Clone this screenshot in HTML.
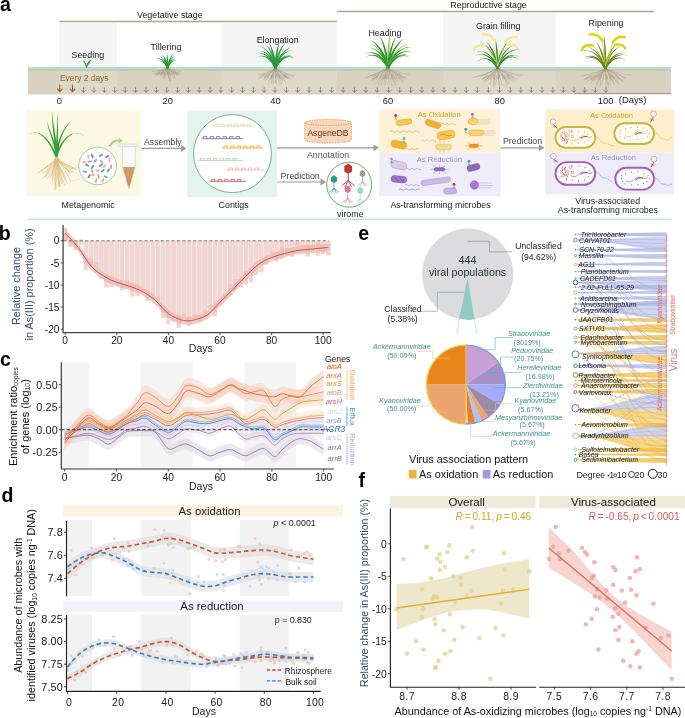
<!DOCTYPE html>
<html><head><meta charset="utf-8"><style>
html,body{margin:0;padding:0;background:#fff;}
svg{display:block;will-change:transform;font-family:"Liberation Sans", sans-serif;}
</style></head><body>
<svg width="685" height="718" viewBox="0 0 685 718">
<rect width="685" height="718" fill="#fff"/>
<text x="0.0" y="10.8" font-size="19.5" fill="#000" font-weight="bold">a</text>
<rect x="59.4" y="23" width="57.4" height="71.5" fill="#f5f5f5"/>
<rect x="221.5" y="23" width="115.5" height="71.5" fill="#f5f5f5"/>
<rect x="443.3" y="12.6" width="112.4" height="81.9" fill="#f5f5f5"/>
<line x1="59.4" y1="21.6" x2="337" y2="21.6" stroke="#96b288" stroke-width="1.5"/>
<line x1="337" y1="11.6" x2="654" y2="11.6" stroke="#96b288" stroke-width="1.5"/>
<text x="137.0" y="18.2" font-size="8.9" fill="#1a1a1a">Vegetative stage</text>
<text x="450.3" y="7.9" font-size="8.9" fill="#1a1a1a">Reproductive stage</text>
<rect x="28" y="68.5" width="643" height="25.9" fill="#d9d2c1"/>
<rect x="59.4" y="68.5" width="57.4" height="25.9" fill="#ffffff" fill-opacity="0.14"/>
<rect x="221.5" y="68.5" width="115.5" height="25.9" fill="#ffffff" fill-opacity="0.14"/>
<rect x="443.3" y="68.5" width="112.4" height="25.9" fill="#ffffff" fill-opacity="0.14"/>
<rect x="28" y="68.4" width="643" height="2.6" fill="#c3cbb6"/>
<rect x="28" y="66.9" width="643" height="1.7" fill="#ade2d8"/>
<line x1="300" y1="93.6" x2="575" y2="93.6" stroke="#bdbdbd" stroke-width="0.5"/>
<line x1="575" y1="93.5" x2="671.5" y2="93.5" stroke="#777" stroke-width="0.6"/>
<text x="71.5" y="58.0" font-size="8.9" fill="#1a1a1a">Seeding</text>
<text x="150.6" y="50.2" font-size="8.9" fill="#1a1a1a">Tillering</text>
<text x="256.7" y="42.8" font-size="8.9" fill="#1a1a1a">Elongation</text>
<text x="368.4" y="35.5" font-size="8.9" fill="#1a1a1a">Heading</text>
<text x="476.0" y="28.9" font-size="8.9" fill="#1a1a1a">Grain filling</text>
<text x="588.5" y="25.5" font-size="8.9" fill="#1a1a1a">Ripening</text>
<text x="60.0" y="80.5" font-size="8.4" fill="#8d6b1d">Every 2 days</text>
<path d="M59.8,84.5 V91.5 M57.2,88.8 L59.8,91.6 L62.4,88.8" stroke="#8d6b1d" stroke-width="1.1" fill="none"/>
<path d="M72.5,84.5 V91.5 M69.9,88.8 L72.5,91.6 L75.1,88.8" stroke="#8d6b1d" stroke-width="1.1" fill="none"/>
<path d="M83.6,87.3 V92.3 M81.5,90.1 L83.6,92.4 L85.7,90.1" stroke="#707070" stroke-width="0.75" fill="none"/>
<path d="M94.0,87.3 V92.3 M91.9,90.1 L94.0,92.4 L96.1,90.1" stroke="#707070" stroke-width="0.75" fill="none"/>
<path d="M104.4,87.3 V92.3 M102.3,90.1 L104.4,92.4 L106.5,90.1" stroke="#707070" stroke-width="0.75" fill="none"/>
<path d="M114.8,87.3 V92.3 M112.7,90.1 L114.8,92.4 L116.9,90.1" stroke="#707070" stroke-width="0.75" fill="none"/>
<path d="M125.2,87.3 V92.3 M123.1,90.1 L125.2,92.4 L127.3,90.1" stroke="#707070" stroke-width="0.75" fill="none"/>
<path d="M135.6,87.3 V92.3 M133.5,90.1 L135.6,92.4 L137.7,90.1" stroke="#707070" stroke-width="0.75" fill="none"/>
<path d="M146.0,87.3 V92.3 M143.9,90.1 L146.0,92.4 L148.1,90.1" stroke="#707070" stroke-width="0.75" fill="none"/>
<path d="M156.4,87.3 V92.3 M154.3,90.1 L156.4,92.4 L158.5,90.1" stroke="#707070" stroke-width="0.75" fill="none"/>
<path d="M166.8,87.3 V92.3 M164.7,90.1 L166.8,92.4 L168.9,90.1" stroke="#707070" stroke-width="0.75" fill="none"/>
<path d="M177.6,87.3 V92.3 M175.5,90.1 L177.6,92.4 L179.7,90.1" stroke="#707070" stroke-width="0.75" fill="none"/>
<path d="M188.4,87.3 V92.3 M186.3,90.1 L188.4,92.4 L190.5,90.1" stroke="#707070" stroke-width="0.75" fill="none"/>
<path d="M199.3,87.3 V92.3 M197.2,90.1 L199.3,92.4 L201.4,90.1" stroke="#707070" stroke-width="0.75" fill="none"/>
<path d="M210.1,87.3 V92.3 M208.0,90.1 L210.1,92.4 L212.2,90.1" stroke="#707070" stroke-width="0.75" fill="none"/>
<path d="M220.9,87.3 V92.3 M218.8,90.1 L220.9,92.4 L223.0,90.1" stroke="#707070" stroke-width="0.75" fill="none"/>
<path d="M231.7,87.3 V92.3 M229.6,90.1 L231.7,92.4 L233.8,90.1" stroke="#707070" stroke-width="0.75" fill="none"/>
<path d="M242.5,87.3 V92.3 M240.4,90.1 L242.5,92.4 L244.6,90.1" stroke="#707070" stroke-width="0.75" fill="none"/>
<path d="M253.4,87.3 V92.3 M251.3,90.1 L253.4,92.4 L255.5,90.1" stroke="#707070" stroke-width="0.75" fill="none"/>
<path d="M264.2,87.3 V92.3 M262.1,90.1 L264.2,92.4 L266.3,90.1" stroke="#707070" stroke-width="0.75" fill="none"/>
<path d="M275.0,87.3 V92.3 M272.9,90.1 L275.0,92.4 L277.1,90.1" stroke="#707070" stroke-width="0.75" fill="none"/>
<path d="M286.4,87.3 V92.3 M284.3,90.1 L286.4,92.4 L288.5,90.1" stroke="#707070" stroke-width="0.75" fill="none"/>
<path d="M297.7,87.3 V92.3 M295.6,90.1 L297.7,92.4 L299.8,90.1" stroke="#707070" stroke-width="0.75" fill="none"/>
<path d="M309.1,87.3 V92.3 M307.0,90.1 L309.1,92.4 L311.2,90.1" stroke="#707070" stroke-width="0.75" fill="none"/>
<path d="M320.4,87.3 V92.3 M318.3,90.1 L320.4,92.4 L322.5,90.1" stroke="#707070" stroke-width="0.75" fill="none"/>
<path d="M331.8,87.3 V92.3 M329.7,90.1 L331.8,92.4 L333.9,90.1" stroke="#707070" stroke-width="0.75" fill="none"/>
<path d="M343.2,87.3 V92.3 M341.1,90.1 L343.2,92.4 L345.3,90.1" stroke="#707070" stroke-width="0.75" fill="none"/>
<path d="M354.5,87.3 V92.3 M352.4,90.1 L354.5,92.4 L356.6,90.1" stroke="#707070" stroke-width="0.75" fill="none"/>
<path d="M365.9,87.3 V92.3 M363.8,90.1 L365.9,92.4 L368.0,90.1" stroke="#707070" stroke-width="0.75" fill="none"/>
<path d="M377.2,87.3 V92.3 M375.1,90.1 L377.2,92.4 L379.3,90.1" stroke="#707070" stroke-width="0.75" fill="none"/>
<path d="M388.6,87.3 V92.3 M386.5,90.1 L388.6,92.4 L390.7,90.1" stroke="#707070" stroke-width="0.75" fill="none"/>
<path d="M399.7,87.3 V92.3 M397.6,90.1 L399.7,92.4 L401.8,90.1" stroke="#707070" stroke-width="0.75" fill="none"/>
<path d="M410.8,87.3 V92.3 M408.7,90.1 L410.8,92.4 L412.9,90.1" stroke="#707070" stroke-width="0.75" fill="none"/>
<path d="M421.9,87.3 V92.3 M419.8,90.1 L421.9,92.4 L424.0,90.1" stroke="#707070" stroke-width="0.75" fill="none"/>
<path d="M433.0,87.3 V92.3 M430.9,90.1 L433.0,92.4 L435.1,90.1" stroke="#707070" stroke-width="0.75" fill="none"/>
<path d="M444.1,87.3 V92.3 M441.9,90.1 L444.1,92.4 L446.2,90.1" stroke="#707070" stroke-width="0.75" fill="none"/>
<path d="M455.1,87.3 V92.3 M453.0,90.1 L455.1,92.4 L457.2,90.1" stroke="#707070" stroke-width="0.75" fill="none"/>
<path d="M466.2,87.3 V92.3 M464.1,90.1 L466.2,92.4 L468.3,90.1" stroke="#707070" stroke-width="0.75" fill="none"/>
<path d="M477.3,87.3 V92.3 M475.2,90.1 L477.3,92.4 L479.4,90.1" stroke="#707070" stroke-width="0.75" fill="none"/>
<path d="M488.4,87.3 V92.3 M486.3,90.1 L488.4,92.4 L490.5,90.1" stroke="#707070" stroke-width="0.75" fill="none"/>
<path d="M499.5,87.3 V92.3 M497.4,90.1 L499.5,92.4 L501.6,90.1" stroke="#707070" stroke-width="0.75" fill="none"/>
<path d="M510.2,87.3 V92.3 M508.1,90.1 L510.2,92.4 L512.2,90.1" stroke="#707070" stroke-width="0.75" fill="none"/>
<path d="M520.8,87.3 V92.3 M518.7,90.1 L520.8,92.4 L522.9,90.1" stroke="#707070" stroke-width="0.75" fill="none"/>
<path d="M531.4,87.3 V92.3 M529.3,90.1 L531.4,92.4 L533.5,90.1" stroke="#707070" stroke-width="0.75" fill="none"/>
<path d="M542.1,87.3 V92.3 M540.0,90.1 L542.1,92.4 L544.2,90.1" stroke="#707070" stroke-width="0.75" fill="none"/>
<path d="M552.8,87.3 V92.3 M550.6,90.1 L552.8,92.4 L554.9,90.1" stroke="#707070" stroke-width="0.75" fill="none"/>
<path d="M563.4,87.3 V92.3 M561.3,90.1 L563.4,92.4 L565.5,90.1" stroke="#707070" stroke-width="0.75" fill="none"/>
<path d="M574.0,87.3 V92.3 M571.9,90.1 L574.0,92.4 L576.1,90.1" stroke="#707070" stroke-width="0.75" fill="none"/>
<path d="M584.7,87.3 V92.3 M582.6,90.1 L584.7,92.4 L586.8,90.1" stroke="#707070" stroke-width="0.75" fill="none"/>
<path d="M595.3,87.3 V92.3 M593.2,90.1 L595.3,92.4 L597.4,90.1" stroke="#707070" stroke-width="0.75" fill="none"/>
<path d="M606.0,87.3 V92.3 M603.9,90.1 L606.0,92.4 L608.1,90.1" stroke="#707070" stroke-width="0.75" fill="none"/>
<text x="59.4" y="103.6" font-size="9.4" fill="#1a1a1a" text-anchor="middle">0</text>
<text x="167.7" y="103.6" font-size="9.4" fill="#1a1a1a" text-anchor="middle">20</text>
<text x="275.5" y="103.6" font-size="9.4" fill="#1a1a1a" text-anchor="middle">40</text>
<text x="388.0" y="103.6" font-size="9.4" fill="#1a1a1a" text-anchor="middle">60</text>
<text x="499.8" y="103.6" font-size="9.4" fill="#1a1a1a" text-anchor="middle">80</text>
<text x="605.6" y="103.6" font-size="9.4" fill="#1a1a1a" text-anchor="middle">100</text>
<text x="618.8" y="103.4" font-size="9.4" fill="#1a1a1a">(Days)</text>
<path d="M86.6,67.5 Q86.8,63 90.8,60.2 M86.6,67.5 Q86,64 84,61.2 M86.8,66 Q88.5,63.5 89.5,62.8" stroke="#2f9a3c" stroke-width="1.1" fill="none" stroke-linecap="round"/>
<path d="M167.7,68.2 Q158.8,71.1 151.9,71.7 M160.6,71.5 l-4.1,3.0 M166.3,68.2 Q157.3,72.2 152.3,74.4 M159.3,72.0 l-4.9,3.0 M168.0,68.2 Q158.5,71.6 155.2,76.5 M160.3,71.7 l-1.1,3.0 M168.7,68.2 Q162.8,71.0 157.2,75.4 M163.8,71.4 l-3.4,3.0 M166.6,68.2 Q161.0,73.3 156.9,74.9 M162.3,72.6 l-1.9,3.0 M166.3,68.2 Q162.9,71.1 160.3,76.5 M163.8,71.4 l-3.1,3.0 M167.5,68.2 Q162.8,72.7 161.9,77.3 M163.8,72.2 l-2.3,3.0 M167.7,68.2 Q163.5,72.6 163.8,78.9 M164.3,72.2 l0.3,3.0 M167.4,68.2 Q167.3,71.3 164.9,77.7 M167.4,71.5 l0.2,3.0 M168.4,68.2 Q164.4,72.9 164.1,79.0 M165.1,72.4 l-0.2,3.0 M167.8,68.2 Q167.9,72.7 168.4,78.7 M167.9,72.2 l-0.3,3.0 M166.3,68.2 Q167.9,72.9 169.7,81.3 M167.9,72.3 l1.0,3.0 M167.3,68.2 Q170.2,71.8 170.3,81.0 M169.7,71.8 l1.2,3.0 M166.3,68.2 Q168.5,71.3 169.3,78.4 M168.3,71.5 l1.9,3.0 M166.3,68.2 Q170.3,73.5 171.1,77.1 M169.8,72.7 l1.0,3.0 M166.9,68.2 Q172.9,73.5 174.2,79.1 M171.8,72.6 l1.2,3.0 M166.6,68.2 Q174.3,71.4 174.9,78.6 M173.0,71.6 l0.8,3.0 M166.1,68.2 Q173.8,71.7 175.8,76.4 M172.5,71.7 l1.9,3.0 M167.6,68.2 Q176.1,73.0 177.8,76.1 M174.4,72.4 l3.0,3.0 M168.7,68.2 Q176.8,73.2 180.4,73.4 M174.9,72.5 l4.1,3.0 M166.3,68.2 Q174.5,72.8 180.7,74.0 M173.1,72.3 l1.5,3.0 M166.1,68.2 Q176.3,71.1 181.4,71.7 M174.6,71.4 l2.2,3.0" stroke="#a39379" stroke-width="0.4" fill="none" stroke-opacity="0.9"/>
<path d="M166.98,68.46 C164.45,62.32 160.41,59.66 156.63,61.75 C160.92,58.87 165.69,61.80 168.22,67.94 Z" fill="#2a9a3a"/>
<path d="M166.96,68.42 C164.71,61.73 160.93,58.14 156.26,58.49 C161.57,57.44 165.99,61.30 168.24,67.98 Z" fill="#2a9a3a"/>
<path d="M166.94,68.34 C165.64,62.29 163.39,58.22 159.75,56.19 C164.20,57.74 166.96,62.00 168.26,68.06 Z" fill="#2a9a3a"/>
<path d="M166.75,68.32 C165.82,61.98 164.28,57.37 161.68,53.84 C165.40,56.94 167.53,61.73 168.45,68.08 Z" fill="#2a9a3a"/>
<path d="M166.74,68.21 C166.68,61.83 166.84,56.83 166.68,52.33 C168.04,56.81 168.41,61.82 168.46,68.19 Z" fill="#2a9a3a"/>
<path d="M166.75,68.07 C167.82,61.04 170.22,55.77 174.36,52.40 C171.34,56.23 169.52,61.30 168.45,68.33 Z" fill="#2a9a3a"/>
<path d="M166.94,68.06 C168.34,61.66 171.31,57.18 176.02,55.60 C172.12,57.68 169.66,61.95 168.26,68.34 Z" fill="#2a9a3a"/>
<path d="M166.95,68.02 C168.61,62.03 172.02,58.16 176.82,58.29 C172.75,58.76 169.91,62.39 168.25,68.38 Z" fill="#2a9a3a"/>
<path d="M166.97,67.96 C169.25,61.85 173.67,58.59 178.18,60.95 C174.24,59.34 170.51,62.32 168.23,68.44 Z" fill="#2a9a3a"/>
<path d="M275.6,68.2 Q261.7,75.5 257.8,74.0 M264.5,74.4 l-6.0,4.2 M276.6,68.2 Q264.9,75.6 258.5,75.3 M267.0,74.4 l-3.3,4.2 M275.6,68.2 Q264.6,75.0 259.2,77.7 M266.7,74.1 l-2.6,4.2 M276.6,68.2 Q268.3,75.6 261.2,78.1 M269.7,74.5 l-2.0,4.2 M275.1,68.2 Q267.1,74.2 265.0,81.1 M268.7,73.8 l-4.7,4.2 M276.9,68.2 Q268.3,74.7 263.7,80.0 M269.8,74.0 l-2.6,4.2 M274.7,68.2 Q272.2,73.7 269.1,83.6 M272.9,73.5 l-3.0,4.2 M276.5,68.2 Q272.0,75.4 268.0,81.2 M272.7,74.3 l-1.6,4.2 M276.7,68.2 Q271.0,74.6 271.6,84.3 M271.9,74.0 l0.0,4.2 M275.0,68.2 Q272.5,75.0 273.8,83.7 M273.1,74.2 l0.6,4.2 M276.2,68.2 Q274.5,75.5 276.5,84.0 M274.7,74.4 l-1.5,4.2 M274.4,68.2 Q277.7,75.1 274.9,83.0 M277.2,74.2 l1.5,4.2 M274.4,68.2 Q276.6,74.3 280.1,84.4 M276.4,73.8 l-1.3,4.2 M275.3,68.2 Q278.4,75.5 281.9,83.7 M277.8,74.4 l2.6,4.2 M274.7,68.2 Q278.5,73.5 283.1,81.2 M277.9,73.4 l1.9,4.2 M275.1,68.2 Q279.1,75.4 282.7,81.3 M278.4,74.3 l1.8,4.2 M275.5,68.2 Q281.4,75.4 285.8,82.5 M280.2,74.4 l2.5,4.2 M274.0,68.2 Q282.6,73.2 287.4,78.2 M281.2,73.2 l4.0,4.2 M275.0,68.2 Q284.9,74.3 287.8,79.1 M283.0,73.8 l3.3,4.2 M274.7,68.2 Q283.5,74.3 291.1,79.4 M281.9,73.8 l2.8,4.2 M276.7,68.2 Q286.5,74.9 293.8,77.2 M284.3,74.1 l3.9,4.2 M275.4,68.2 Q287.4,74.7 295.0,75.4 M285.0,74.0 l4.7,4.2" stroke="#a39379" stroke-width="0.4" fill="none" stroke-opacity="0.9"/>
<path d="M274.72,68.56 C269.68,57.52 261.67,53.40 255.18,58.29 C262.21,52.33 271.23,56.81 276.28,67.84 Z" fill="#2a9a3a"/>
<path d="M274.70,68.50 C270.58,57.42 263.66,51.93 255.95,53.91 C264.39,50.98 272.19,56.82 276.30,67.90 Z" fill="#2a9a3a"/>
<path d="M274.68,68.43 C271.78,58.27 266.71,52.15 259.65,51.01 C267.62,51.36 273.42,57.80 276.32,67.97 Z" fill="#2a9a3a"/>
<path d="M274.67,68.40 C271.96,56.99 267.10,49.52 259.81,46.09 C268.09,48.84 273.62,56.59 276.33,68.00 Z" fill="#2a9a3a"/>
<path d="M274.42,68.35 C272.97,58.15 270.48,50.69 266.10,45.10 C271.91,50.15 275.14,57.84 276.58,68.05 Z" fill="#2a9a3a"/>
<path d="M274.41,68.30 C273.38,57.35 271.66,49.04 268.67,41.94 C273.14,48.67 275.56,57.15 276.59,68.10 Z" fill="#2a9a3a"/>
<path d="M274.41,68.15 C274.88,57.53 276.17,49.19 279.42,42.10 C277.69,49.36 277.07,57.62 276.59,68.25 Z" fill="#2a9a3a"/>
<path d="M274.42,68.05 C275.94,56.90 279.32,48.47 285.49,42.82 C280.75,48.99 278.10,57.19 276.58,68.35 Z" fill="#2a9a3a"/>
<path d="M274.67,67.99 C277.60,56.71 283.51,49.30 291.91,47.13 C284.46,50.02 279.25,57.14 276.33,68.41 Z" fill="#2a9a3a"/>
<path d="M274.68,67.96 C277.87,57.02 284.20,50.19 292.76,49.94 C285.10,50.99 279.51,57.50 276.32,68.44 Z" fill="#2a9a3a"/>
<path d="M274.71,67.88 C278.57,58.14 285.83,53.31 293.16,56.49 C286.50,54.30 280.16,58.77 276.29,68.52 Z" fill="#2a9a3a"/>
<path d="M274.73,67.83 C280.04,56.86 289.35,52.86 295.96,59.33 C289.82,53.96 281.58,57.61 276.27,68.57 Z" fill="#2a9a3a"/>
<path d="M389.5,68.2 Q373.2,74.8 363.9,78.1 M376.2,74.4 l-4.2,4.8 M387.1,68.2 Q375.1,74.4 365.8,78.0 M377.6,74.1 l-5.7,4.8 M386.6,68.2 Q376.6,74.7 370.3,77.6 M378.9,74.3 l-5.1,4.8 M388.9,68.2 Q376.0,76.3 372.1,80.6 M378.4,75.1 l-2.1,4.8 M387.3,68.2 Q377.3,75.7 372.2,80.6 M379.4,74.8 l-4.9,4.8 M386.9,68.2 Q381.7,74.1 375.6,84.1 M383.0,74.0 l-1.2,4.8 M388.6,68.2 Q380.2,73.5 378.4,84.1 M381.8,73.7 l-2.7,4.8 M386.8,68.2 Q383.7,75.8 378.6,85.9 M384.6,74.8 l-0.4,4.8 M388.2,68.2 Q384.4,74.4 380.8,86.3 M385.1,74.1 l0.4,4.8 M386.8,68.2 Q386.1,74.1 383.8,84.1 M386.4,74.0 l-2.1,4.8 M388.8,68.2 Q386.6,74.3 385.1,85.2 M386.9,74.1 l-1.1,4.8 M387.3,68.2 Q388.1,73.4 389.1,85.1 M388.1,73.7 l-1.7,4.8 M389.3,68.2 Q388.8,74.8 392.2,85.8 M388.6,74.3 l-0.8,4.8 M387.7,68.2 Q391.4,75.9 394.8,84.6 M390.7,74.9 l1.3,4.8 M388.6,68.2 Q392.2,75.8 396.4,86.0 M391.3,74.9 l2.4,4.8 M386.7,68.2 Q392.4,73.7 397.5,82.7 M391.5,73.8 l3.3,4.8 M389.1,68.2 Q393.9,75.9 399.1,81.1 M392.7,74.9 l3.6,4.8 M387.0,68.2 Q396.1,74.7 401.4,80.5 M394.5,74.3 l3.2,4.8 M387.2,68.2 Q400.2,75.0 403.5,82.4 M397.7,74.4 l5.8,4.8 M387.9,68.2 Q397.6,74.5 405.9,78.9 M395.7,74.2 l4.5,4.8 M386.8,68.2 Q399.0,74.1 407.6,78.3 M396.8,74.0 l4.6,4.8 M388.3,68.2 Q401.6,74.0 409.2,74.3 M398.9,74.0 l5.6,4.8" stroke="#a39379" stroke-width="0.4" fill="none" stroke-opacity="0.9"/>
<path d="M387.20,68.61 C380.64,55.80 370.61,52.06 363.83,59.01 C371.04,50.88 382.24,54.98 388.80,67.79 Z" fill="#2d8f32"/>
<path d="M387.18,68.57 C381.15,55.15 371.46,49.95 362.76,54.82 C372.05,48.84 382.80,54.42 388.82,67.83 Z" fill="#86d13a"/>
<path d="M387.17,68.54 C382.15,56.21 373.87,50.69 365.18,53.12 C374.56,49.63 383.82,55.53 388.83,67.86 Z" fill="#2d8f32"/>
<path d="M387.14,68.46 C383.45,56.17 376.98,48.97 368.33,47.62 C377.91,48.11 385.18,55.66 388.86,67.94 Z" fill="#2d8f32"/>
<path d="M387.13,68.42 C383.76,54.96 377.70,46.30 368.92,42.47 C378.71,45.56 385.51,54.52 388.87,67.98 Z" fill="#86d13a"/>
<path d="M386.88,68.45 C383.77,54.47 378.21,45.13 370.12,39.43 C379.57,44.27 386.01,53.97 389.12,67.95 Z" fill="#2d8f32"/>
<path d="M386.85,68.30 C385.60,54.38 383.46,43.77 379.35,34.88 C385.02,43.40 387.89,54.17 389.15,68.10 Z" fill="#2d8f32"/>
<path d="M386.85,68.18 C387.06,53.43 387.83,41.84 390.59,31.51 C389.44,41.90 389.36,53.47 389.15,68.22 Z" fill="#86d13a"/>
<path d="M386.85,68.09 C388.11,54.41 390.99,43.82 396.64,35.48 C392.56,44.19 390.40,54.62 389.15,68.31 Z" fill="#2d8f32"/>
<path d="M386.87,67.98 C389.59,53.92 395.33,43.84 404.29,38.17 C396.75,44.60 391.85,54.36 389.13,68.42 Z" fill="#2d8f32"/>
<path d="M387.13,67.95 C391.05,54.22 398.78,45.57 409.14,43.45 C399.73,46.39 392.78,54.71 388.87,68.45 Z" fill="#86d13a"/>
<path d="M387.15,67.91 C391.79,54.20 400.68,46.42 411.44,47.02 C401.53,47.36 393.49,54.78 388.85,68.49 Z" fill="#2d8f32"/>
<path d="M387.17,67.86 C392.55,54.79 402.43,48.64 412.31,52.46 C403.10,49.71 394.22,55.47 388.83,68.54 Z" fill="#2d8f32"/>
<path d="M387.18,67.83 C392.38,56.15 401.75,51.20 409.92,56.39 C402.35,52.31 394.02,56.88 388.82,68.57 Z" fill="#86d13a"/>
<path d="M387.20,67.80 C393.36,55.54 403.98,51.45 411.04,59.05 C404.44,52.62 394.97,56.35 388.80,68.60 Z" fill="#2d8f32"/>
<path d="M498.0,68.2 Q483.5,75.2 473.0,77.6 M486.3,74.6 l-4.8,4.8 M497.6,68.2 Q485.8,75.6 476.7,76.3 M488.1,74.7 l-4.9,4.8 M496.3,68.2 Q486.9,74.1 479.6,77.8 M489.0,74.0 l-5.4,4.8 M497.6,68.2 Q488.3,76.3 482.1,79.4 M490.2,75.1 l-4.4,4.8 M498.0,68.2 Q489.8,75.2 483.3,82.3 M491.3,74.6 l-5.1,4.8 M497.8,68.2 Q491.0,74.3 484.1,81.5 M492.4,74.1 l-4.8,4.8 M498.1,68.2 Q492.1,75.4 486.0,82.4 M493.2,74.7 l-3.2,4.8 M498.8,68.2 Q492.7,73.7 490.0,84.0 M493.7,73.8 l-3.0,4.8 M498.6,68.2 Q492.2,74.7 494.0,86.6 M493.3,74.3 l0.6,4.8 M496.7,68.2 Q494.4,76.2 494.1,84.7 M495.0,75.0 l-0.5,4.8 M498.6,68.2 Q498.7,73.7 495.1,86.4 M498.5,73.8 l-0.2,4.8 M497.6,68.2 Q497.2,76.0 500.2,87.2 M497.3,75.0 l-1.6,4.8 M496.5,68.2 Q499.5,74.3 498.9,85.6 M499.1,74.1 l0.2,4.8 M498.6,68.2 Q499.0,75.6 502.3,86.2 M498.7,74.8 l-0.2,4.8 M497.2,68.2 Q504.0,74.2 507.0,85.0 M502.7,74.1 l1.4,4.8 M496.9,68.2 Q503.2,74.6 509.5,83.7 M502.1,74.3 l0.6,4.8 M496.8,68.2 Q504.3,76.2 508.1,83.8 M502.9,75.0 l2.0,4.8 M498.8,68.2 Q506.0,76.2 511.9,80.3 M504.3,75.1 l4.7,4.8 M498.3,68.2 Q509.6,75.0 514.6,82.3 M507.2,74.4 l2.1,4.8 M497.0,68.2 Q510.2,75.3 517.1,79.3 M507.7,74.6 l2.7,4.8 M497.0,68.2 Q510.5,74.4 520.1,76.8 M507.9,74.1 l6.0,4.8 M497.8,68.2 Q512.6,74.3 522.5,75.3 M509.6,74.1 l5.1,4.8" stroke="#a39379" stroke-width="0.4" fill="none" stroke-opacity="0.9"/>
<path d="M496.90,68.60 C490.72,57.85 481.80,55.77 477.00,62.57 C482.06,54.66 492.13,57.04 498.30,67.80 Z" fill="#3d8d2e"/>
<path d="M496.87,68.55 C490.99,56.11 481.69,51.73 473.62,56.45 C482.17,50.70 492.46,55.42 498.33,67.85 Z" fill="#3d8d2e"/>
<path d="M496.84,68.47 C492.76,57.02 485.81,51.08 477.52,51.38 C486.53,50.21 494.29,56.47 498.36,67.93 Z" fill="#3d8d2e"/>
<path d="M496.81,68.38 C493.72,55.02 488.10,46.17 479.70,41.72 C489.05,45.54 495.30,54.66 498.39,68.02 Z" fill="#3d8d2e"/>
<path d="M496.58,68.36 C494.75,56.49 491.49,47.90 486.28,41.39 C492.83,47.35 496.80,56.18 498.62,68.04 Z" fill="#3d8d2e"/>
<path d="M496.57,68.22 C496.33,55.97 496.18,46.37 495.15,37.76 C497.63,46.30 498.40,55.93 498.63,68.18 Z" fill="#3d8d2e"/>
<path d="M496.58,68.06 C498.24,56.27 501.88,47.41 508.13,41.24 C503.24,47.92 500.29,56.56 498.62,68.34 Z" fill="#3d8d2e"/>
<path d="M496.81,68.01 C499.66,56.17 505.44,48.17 513.90,45.05 C506.37,48.82 501.24,56.55 498.39,68.39 Z" fill="#3d8d2e"/>
<path d="M496.84,67.93 C501.43,55.18 510.10,48.31 520.09,49.69 C510.81,49.19 502.95,55.73 498.36,68.47 Z" fill="#3d8d2e"/>
<path d="M496.87,67.86 C502.27,56.35 511.79,51.91 519.75,57.20 C512.27,52.93 503.74,57.04 498.33,68.54 Z" fill="#3d8d2e"/>
<path d="M496.89,67.81 C503.16,56.22 513.61,53.04 519.66,60.93 C513.94,54.12 504.58,56.99 498.31,68.59 Z" fill="#3d8d2e"/>
<path d="M606.8,68.8 Q588.6,74.8 580.9,76.2 M592.0,74.6 l-7.3,4.8 M604.7,68.8 Q593.3,74.6 583.7,79.4 M595.7,74.5 l-6.2,4.8 M606.5,68.8 Q595.1,76.5 585.6,79.9 M597.1,75.5 l-6.6,4.8 M605.7,68.8 Q596.3,75.4 586.4,82.0 M598.1,74.9 l-6.1,4.8 M606.8,68.8 Q597.4,76.5 590.1,83.9 M599.0,75.5 l-4.6,4.8 M606.7,68.8 Q597.6,76.0 591.3,81.7 M599.2,75.2 l-2.1,4.8 M604.0,68.8 Q598.8,75.6 595.7,85.0 M600.1,75.1 l-1.3,4.8 M604.3,68.8 Q601.0,74.9 596.3,86.4 M601.9,74.7 l-2.9,4.8 M605.5,68.8 Q600.3,74.2 600.2,86.3 M601.3,74.3 l-1.0,4.8 M604.8,68.8 Q603.7,74.0 601.5,85.1 M604.0,74.2 l-1.0,4.8 M604.6,68.8 Q606.2,75.4 606.1,87.5 M606.1,74.9 l-1.3,4.8 M605.4,68.8 Q605.3,74.0 608.4,87.8 M605.4,74.3 l1.0,4.8 M604.6,68.8 Q608.2,76.7 608.5,85.3 M607.6,75.6 l-1.0,4.8 M606.3,68.8 Q609.7,74.5 610.5,85.2 M608.8,74.5 l2.3,4.8 M606.4,68.8 Q612.3,74.9 613.4,83.5 M610.9,74.7 l0.8,4.8 M605.4,68.8 Q611.0,76.8 614.6,85.0 M609.9,75.7 l1.2,4.8 M604.3,68.8 Q613.9,76.8 616.9,82.7 M612.2,75.6 l2.6,4.8 M604.1,68.8 Q613.3,74.1 619.1,84.1 M611.7,74.3 l3.1,4.8 M606.7,68.8 Q617.0,76.9 624.1,82.7 M614.7,75.7 l3.4,4.8 M605.9,68.8 Q618.5,74.0 623.6,81.9 M615.9,74.3 l4.2,4.8 M604.7,68.8 Q617.6,74.0 626.6,78.2 M615.2,74.2 l4.6,4.8 M605.0,68.8 Q622.3,74.6 631.2,75.3 M618.9,74.5 l7.0,4.8" stroke="#a39379" stroke-width="0.4" fill="none" stroke-opacity="0.9"/>
<path d="M604.68,69.17 C598.67,57.66 589.56,54.49 583.61,60.91 C589.93,53.42 600.11,56.91 606.12,68.43 Z" fill="#6a8a22"/>
<path d="M604.67,69.15 C599.07,57.60 590.32,53.74 582.95,58.36 C590.78,52.70 600.53,56.89 606.13,68.45 Z" fill="#6a8a22"/>
<path d="M604.64,69.08 C599.98,56.28 592.02,49.79 582.71,50.40 C592.73,48.90 601.50,55.73 606.16,68.52 Z" fill="#6a8a22"/>
<path d="M604.62,69.02 C601.30,57.07 595.40,49.74 587.35,46.82 C596.27,49.01 602.86,56.63 606.18,68.58 Z" fill="#6a8a22"/>
<path d="M604.37,68.93 C602.90,57.25 600.30,48.57 595.79,41.73 C601.68,48.11 604.95,56.99 606.43,68.67 Z" fill="#6a8a22"/>
<path d="M604.37,68.81 C604.29,55.01 604.45,44.17 603.63,34.43 C605.90,44.15 606.36,55.00 606.43,68.79 Z" fill="#6a8a22"/>
<path d="M604.38,68.63 C606.33,56.99 610.53,48.43 617.23,42.85 C611.85,49.03 608.37,57.34 606.42,68.97 Z" fill="#6a8a22"/>
<path d="M604.61,68.62 C607.22,57.14 612.57,49.24 620.62,45.91 C613.52,49.86 608.80,57.50 606.19,68.98 Z" fill="#6a8a22"/>
<path d="M604.64,68.51 C609.04,57.09 617.25,51.28 626.20,53.20 C617.91,52.20 610.55,57.67 606.16,69.09 Z" fill="#6a8a22"/>
<path d="M604.67,68.46 C610.50,56.02 620.75,51.23 629.33,56.91 C621.23,52.26 611.97,56.71 606.13,69.14 Z" fill="#6a8a22"/>
<path d="M604.69,68.42 C610.65,57.27 620.66,54.10 626.58,61.60 C621.00,55.18 612.08,58.03 606.11,69.18 Z" fill="#6a8a22"/>
<path d="M497.59999999999997,66 Q495.2,52 494.7,41 M497.59999999999997,66 Q502.2,52 505.2,42 M496.2,62 Q490.2,50 484.8,45.4 M499.2,62 Q504.2,50 506.99999999999994,45" stroke="#e8e2a0" stroke-width="0.8" fill="none"/>
<path d="M494.7,41 Q490.2,33 481.90000000000003,34.5 M505.2,42 Q509.2,35.5 517.0,37.3 M484.8,45.4 Q476.2,44 473.8,50.1 M506.99999999999994,45 Q514.2,43 517.5,48.2" stroke="#f3e99a" stroke-width="2.6" fill="none" stroke-linecap="round"/>
<path d="M605.4,66 Q603,52 602.5,41 M605.4,66 Q610,52 613,42 M604,62 Q598,50 592.6,45.4 M607,62 Q612,50 614.8,45" stroke="#d8d040" stroke-width="0.8" fill="none"/>
<path d="M602.5,41 Q598,33 589.7,34.5 M613,42 Q617,35.5 624.8,37.3 M592.6,45.4 Q584,44 581.6,50.1 M614.8,45 Q622,43 625.3,48.2" stroke="#e2d312" stroke-width="2.6" fill="none" stroke-linecap="round"/>
<rect x="25.8" y="109.7" width="115.6" height="86.7" fill="#fbf9e3"/>
<path d="M55.5,157.5 C54.9,140 51.266666666666666,125 52.3,110.6 C52.733333333333334,125 57.1,140 57.7,157.5 Z M55.6,157.5 C49.0,140 37.333333333333336,126 28.4,135 C38.666666666666664,126 51.0,140 57.6,157.5 Z M55.7,157.5 C54.1,140 47.4,130 47.2,120.8 C48.6,130 55.9,140 57.5,157.5 Z M55.65,157.5 C57.05,140 63.36666666666667,126 72.8,120 C64.63333333333334,126 58.95,140 57.550000000000004,157.5 Z M55.6,157.5 C59.0,140 74.33333333333333,126 84.8,137 C75.66666666666667,126 61.0,140 57.6,157.5 Z M55.7,157.5 C56.1,140 57.4,125 57.4,113 C58.6,125 57.9,140 57.5,157.5 Z" fill="#3a9d3c"/>
<path d="M55.6,159.6 Q48.5,164.2 41.7,170.9 M58.3,159.4 Q54.0,162.2 37.2,173.3 M58.4,160.4 Q50.1,164.0 39.7,172.2 M58.3,158.0 Q53.9,167.9 42.0,173.6 M57.0,158.5 Q50.5,164.9 45.5,177.0 M55.4,159.8 Q50.4,162.5 46.5,172.7 M55.9,160.4 Q56.0,169.9 43.1,177.7 M55.0,159.0 Q55.1,165.6 45.6,175.2 M57.1,159.5 Q55.9,168.8 46.6,179.0 M58.0,158.4 Q54.9,165.0 50.4,177.9 M55.6,158.2 Q52.1,169.1 51.9,179.7 M56.2,160.5 Q55.4,163.9 52.1,181.9 M58.6,157.8 Q55.6,168.6 54.7,185.8 M54.8,158.4 Q53.3,163.5 56.0,189.1 M58.3,158.6 Q59.7,165.6 58.0,187.6 M58.4,157.8 Q58.0,167.0 54.8,190.4 M55.2,158.1 Q55.8,166.8 55.7,188.3 M54.6,158.5 Q59.7,163.5 59.5,187.0 M57.8,159.1 Q55.2,162.8 58.6,185.8 M57.2,157.8 Q56.5,167.6 60.3,187.4 M55.8,160.4 Q58.2,166.5 61.5,184.0 M58.1,160.5 Q59.1,163.6 62.3,183.9 M54.6,160.2 Q60.1,168.6 65.7,181.0 M56.4,158.0 Q57.3,166.4 64.9,185.2 M55.0,159.4 Q60.6,166.0 67.5,184.2 M56.7,160.3 Q59.0,165.9 65.7,178.0 M55.4,157.9 Q66.2,169.8 70.8,182.2 M58.3,158.7 Q66.3,167.0 70.0,173.7 M57.7,158.2 Q62.8,168.8 73.2,173.3 M55.5,158.7 Q64.2,165.1 74.4,172.3 M57.5,160.2 Q60.9,166.5 71.3,171.6 M58.0,157.9 Q65.8,166.4 76.2,168.7 M56.3,159.2 Q64.9,167.3 76.6,169.7 M54.7,159.4 Q65.9,163.9 76.7,169.5" stroke="#d9bc7c" stroke-width="0.55" fill="none"/>
<path d="M72,168 L80,164 M73,181 L82,178" stroke="#b8b8a0" stroke-width="0.4" stroke-dasharray="1,1"/>
<circle cx="97.6" cy="166" r="18.8" fill="#ffffff" stroke="#9cbf8c" stroke-width="0.8"/>
<rect x="86.1" y="155.7" width="4.4" height="1.8" rx="0.9" fill="#f0a0c0" transform="rotate(92 88.3 156.6)"/>
<rect x="90.1" y="155.1" width="4.4" height="1.8" rx="0.9" fill="#4a8ec8" transform="rotate(68 92.3 156.0)"/>
<rect x="98.8" y="154.4" width="4.4" height="1.8" rx="0.9" fill="#40b0a0" transform="rotate(154 101.0 155.3)"/>
<rect x="104.9" y="155.6" width="4.4" height="1.8" rx="0.9" fill="#9070c0" transform="rotate(147 107.1 156.5)"/>
<rect x="82.4" y="161.0" width="4.4" height="1.8" rx="0.9" fill="#f0b868" transform="rotate(165 84.6 161.9)"/>
<rect x="87.4" y="160.7" width="4.4" height="1.8" rx="0.9" fill="#e890a0" transform="rotate(168 89.6 161.6)"/>
<rect x="93.1" y="159.8" width="4.4" height="1.8" rx="0.9" fill="#6aa8d8" transform="rotate(136 95.3 160.7)"/>
<rect x="99.4" y="160.9" width="4.4" height="1.8" rx="0.9" fill="#a0c070" transform="rotate(49 101.6 161.8)"/>
<rect x="107.3" y="159.4" width="4.4" height="1.8" rx="0.9" fill="#f0a0c0" transform="rotate(90 109.5 160.3)"/>
<rect x="84.9" y="164.2" width="4.4" height="1.8" rx="0.9" fill="#4a8ec8" transform="rotate(33 87.1 165.1)"/>
<rect x="90.4" y="166.0" width="4.4" height="1.8" rx="0.9" fill="#40b0a0" transform="rotate(122 92.6 166.9)"/>
<rect x="98.6" y="164.4" width="4.4" height="1.8" rx="0.9" fill="#9070c0" transform="rotate(141 100.8 165.3)"/>
<rect x="102.2" y="165.2" width="4.4" height="1.8" rx="0.9" fill="#f0b868" transform="rotate(115 104.4 166.1)"/>
<rect x="109.0" y="165.8" width="4.4" height="1.8" rx="0.9" fill="#e890a0" transform="rotate(100 111.2 166.7)"/>
<rect x="82.6" y="170.9" width="4.4" height="1.8" rx="0.9" fill="#6aa8d8" transform="rotate(19 84.8 171.8)"/>
<rect x="89.9" y="170.4" width="4.4" height="1.8" rx="0.9" fill="#a0c070" transform="rotate(71 92.1 171.3)"/>
<rect x="95.3" y="169.6" width="4.4" height="1.8" rx="0.9" fill="#f0a0c0" transform="rotate(178 97.5 170.5)"/>
<rect x="100.6" y="169.8" width="4.4" height="1.8" rx="0.9" fill="#4a8ec8" transform="rotate(138 102.8 170.7)"/>
<rect x="106.2" y="169.5" width="4.4" height="1.8" rx="0.9" fill="#40b0a0" transform="rotate(134 108.4 170.4)"/>
<rect x="86.9" y="175.3" width="4.4" height="1.8" rx="0.9" fill="#9070c0" transform="rotate(119 89.1 176.2)"/>
<rect x="90.8" y="174.1" width="4.4" height="1.8" rx="0.9" fill="#f0b868" transform="rotate(6 93.0 175.0)"/>
<rect x="96.3" y="175.3" width="4.4" height="1.8" rx="0.9" fill="#e890a0" transform="rotate(78 98.5 176.2)"/>
<rect x="103.4" y="175.9" width="4.4" height="1.8" rx="0.9" fill="#6aa8d8" transform="rotate(24 105.6 176.8)"/>
<rect x="94.0" y="179.5" width="4.4" height="1.8" rx="0.9" fill="#a0c070" transform="rotate(105 96.2 180.4)"/>
<rect x="100.7" y="179.5" width="4.4" height="1.8" rx="0.9" fill="#f0a0c0" transform="rotate(112 102.9 180.4)"/>
<path d="M122.4,146.5 H135.2 V167 L129,189 L122.4,167 Z" fill="#fafafa" stroke="#c4c4c4" stroke-width="0.6"/>
<rect x="118" y="144" width="19.7" height="2.8" rx="0.6" fill="#f0f0f0" stroke="#c4c4c4" stroke-width="0.5"/>
<path d="M122.7,167 H134.9 L129,188.5 Z" fill="#d2a066"/>
<path d="M125,170 L128,184 M130,169 L129,186 M133,171 L130,182" stroke="#a87040" stroke-width="0.4"/>
<path d="M109.5,146.4 Q113,139.5 120,140.8" stroke="#a8d890" stroke-width="2.4" fill="none"/><path d="M119,138 L123,141 L118.6,143.4 Z" fill="#a8d890"/>
<text x="61.5" y="208.3" font-size="8.9" fill="#1a1a1a">Metagenomic</text>
<line x1="141.4" y1="148.4" x2="183" y2="148.4" stroke="#9a9a9a" stroke-width="1.2"/>
<path d="M181,145 L186.5,148.4 L181,151.8 Z" fill="#9a9a9a"/>
<text x="144.0" y="145.0" font-size="8.7" fill="#444">Assembly</text>
<rect x="187.4" y="110.3" width="89.8" height="86.7" fill="#e3f4ef"/>
<circle cx="232.5" cy="153.6" r="39" fill="#ffffff" stroke="#5d9a7a" stroke-width="0.8"/>
<path d="M212.8,126.2 H254.9 M214.8,126.2 V124.2 H218.3 V126.2 M221.3,126.2 V124.2 H224.8 V126.2 M227.8,126.2 V124.2 H231.3 V126.2 M234.3,126.2 V124.2 H237.8 V126.2 M240.8,126.2 V124.2 H244.3 V126.2 M247.3,126.2 V124.2 H250.8 V126.2" stroke="#e6d7ae" stroke-width="0.9" fill="none"/>
<path d="M201.5,138.6 H243 M203.5,138.6 V136.6 H207.0 V138.6 M210.0,138.6 V136.6 H213.5 V138.6 M216.5,138.6 V136.6 H220.0 V138.6 M223.0,138.6 V136.6 H226.5 V138.6 M229.5,138.6 V136.6 H233.0 V138.6 M236.0,138.6 V136.6 H239.5 V138.6" stroke="#7b74c2" stroke-width="0.9" fill="none"/>
<path d="M222,148 H263.5 M224.0,148 V146 H227.5 V148 M230.5,148 V146 H234.0 V148 M237.0,148 V146 H240.5 V148 M243.5,148 V146 H247.0 V148 M250.0,148 V146 H253.5 V148 M256.5,148 V146 H260.0 V148" stroke="#efae2e" stroke-width="0.9" fill="none"/>
<path d="M198.4,160.4 H243 M200.4,160.4 V158.4 H203.9 V160.4 M206.9,160.4 V158.4 H210.4 V160.4 M213.4,160.4 V158.4 H216.9 V160.4 M219.9,160.4 V158.4 H223.4 V160.4 M226.4,160.4 V158.4 H229.9 V160.4 M232.9,160.4 V158.4 H236.4 V160.4" stroke="#b5d8a0" stroke-width="0.9" fill="none"/>
<path d="M226.8,170 H263.5 M228.8,170 V168 H232.3 V170 M235.3,170 V168 H238.8 V170 M241.8,170 V168 H245.3 V170 M248.3,170 V168 H251.8 V170 M254.8,170 V168 H258.3 V170" stroke="#efb3bd" stroke-width="0.9" fill="none"/>
<path d="M209.4,181.4 H246.2 M211.4,181.4 V179.4 H214.9 V181.4 M217.9,181.4 V179.4 H221.4 V181.4 M224.4,181.4 V179.4 H227.9 V181.4 M230.9,181.4 V179.4 H234.4 V181.4 M237.4,181.4 V179.4 H240.9 V181.4" stroke="#d0605f" stroke-width="0.9" fill="none"/>
<text x="218.6" y="208.3" font-size="8.9" fill="#1a1a1a">Contigs</text>
<path d="M304.8,122.5 V140 A23.25,3 0 0 0 351.3,140 V122.5" fill="#fbd6b9" stroke="#c98a66" stroke-width="0.7" stroke-dasharray="1.5,1"/>
<ellipse cx="328" cy="122.5" rx="23.25" ry="3" fill="#fbd6b9" stroke="#c98a66" stroke-width="0.7" stroke-dasharray="1.5,1"/>
<text x="307.4" y="135.7" font-size="8.6" fill="#5a3a2a">AsgeneDB</text>
<line x1="277.2" y1="147.8" x2="375" y2="147.8" stroke="#9a9a9a" stroke-width="1.2"/>
<path d="M373.5,144.4 L379,147.8 L373.5,151.2 Z" fill="#9a9a9a"/>
<text x="307.0" y="157.5" font-size="8.8" fill="#555">Annotation</text>
<line x1="277.2" y1="182" x2="322" y2="182" stroke="#9a9a9a" stroke-width="1.2"/>
<path d="M320.5,178.6 L326,182 L320.5,185.4 Z" fill="#9a9a9a"/>
<text x="280.6" y="178.6" font-size="8.8" fill="#444">Prediction</text>
<circle cx="349.2" cy="184.7" r="22.5" fill="#ffffff" stroke="#5aa64f" stroke-width="0.9"/>
<g transform="translate(348.2,174) scale(1.3)"><path d="M-3,-6 L0,-8 L3,-6 L3,-2 L0,0 L-3,-2 Z" fill="#c8323c"/><path d="M0,0 V5 M0,5 L-5,9 M0,5 L5,9 M0,5 L-2.5,10 M0,5 L2.5,10" stroke="#c8323c" stroke-width="0.7" fill="none"/></g>
<g transform="translate(334,183.3) scale(1)"><path d="M-3,-6 L0,-8 L3,-6 L3,-2 L0,0 L-3,-2 Z" fill="#2a9a8a"/><path d="M0,0 V5 M0,5 L-5,9 M0,5 L5,9 M0,5 L-2.5,10 M0,5 L2.5,10" stroke="#2a9a8a" stroke-width="0.7" fill="none"/></g>
<g transform="translate(362.5,177.2) scale(0.9)"><path d="M-3,-6 L0,-8 L3,-6 L3,-2 L0,0 L-3,-2 Z" fill="#9a9a9a"/><path d="M0,0 V5 M0,5 L-5,9 M0,5 L5,9 M0,5 L-2.5,10 M0,5 L2.5,10" stroke="#9a9a9a" stroke-width="0.7" fill="none"/></g>
<g transform="translate(347.7,193.3) scale(1)"><path d="M-3,-6 L0,-8 L3,-6 L3,-2 L0,0 L-3,-2 Z" fill="#d47aa8"/><path d="M0,0 V5 M0,5 L-5,9 M0,5 L5,9 M0,5 L-2.5,10 M0,5 L2.5,10" stroke="#d47aa8" stroke-width="0.7" fill="none"/></g>
<g transform="translate(360.2,194.2) scale(0.9)"><path d="M-3,-6 L0,-8 L3,-6 L3,-2 L0,0 L-3,-2 Z" fill="#9ad6d0"/><path d="M0,0 V5 M0,5 L-5,9 M0,5 L5,9 M0,5 L-2.5,10 M0,5 L2.5,10" stroke="#9ad6d0" stroke-width="0.7" fill="none"/></g>
<text x="337.0" y="216.6" font-size="8.9" fill="#1a1a1a">virome</text>
<rect x="379.1" y="109" width="121.3" height="44" fill="#fdf1da"/>
<rect x="379.1" y="153" width="121.3" height="43.4" fill="#efedfa"/>
<text x="417.7" y="117.3" font-size="7.6" fill="#d4a21c">As Oxidation</text>
<text x="416.7" y="161.5" font-size="7.6" fill="#9b90c2">As Reduction</text>
<rect x="396.0" y="119.5" width="16.0" height="5.2" rx="2.6" fill="#f6c94a" stroke="#d9a22a" stroke-width="0.5" transform="rotate(-8 404.0 122.1)"/>
<circle cx="395.7" cy="115.5" r="1.5" fill="#c83a3a"/><path d="M395.7,116.9 V119.5 M394.2,119.5 L395.7,118.5 L397.2,119.5" stroke="#777" stroke-width="0.5" fill="none"/>
<rect x="425.0" y="121.0" width="16.0" height="6.0" rx="3.0" fill="#f2b236" stroke="#d9a22a" stroke-width="0.5" transform="rotate(18 433.0 124.0)"/>
<path d="M441,124 Q442.2,122.8 443.5,124 Q444.8,125.2 446.0,124 Q447.2,122.8 448.5,124 Q449.8,125.2 451.0,124 Q452.2,122.8 453.5,124 Q454.8,125.2 456.0,124" stroke="#e8b040" stroke-width="0.7" fill="none"/>
<rect x="468.0" y="118.5" width="10.0" height="6.0" rx="3.0" fill="#f8d070" stroke="#d9a22a" stroke-width="0.5" transform="rotate(0 473.0 121.5)"/>
<circle cx="472.4" cy="114.2" r="1.5" fill="#888"/><path d="M472.4,115.60000000000001 V118.2 M470.9,118.2 L472.4,117.2 L473.9,118.2" stroke="#777" stroke-width="0.5" fill="none"/>
<path d="M478,120 H490 M478,122 H491 M478,124 H489" stroke="#c8a060" stroke-width="0.4"/>
<path d="M390,131.5 Q391.5,130.1 393.0,131.5 Q394.5,132.9 396.0,131.5 Q397.5,130.1 399.0,131.5 Q400.5,132.9 402.0,131.5 Q403.5,130.1 405.0,131.5 Q406.5,132.9 408.0,131.5 Q409.5,130.1 411.0,131.5 Q412.5,132.9 414.0,131.5 Q415.5,130.1 417.0,131.5 Q418.5,132.9 420.0,131.5" stroke="#f0cf80" stroke-width="1.1" fill="none"/>
<rect x="437.0" y="131.0" width="18.0" height="8.0" rx="4.0" fill="#f6c94a" stroke="#d9a22a" stroke-width="0.5" transform="rotate(-10 446.0 135.0)"/>
<path d="M421,140.5 Q422.2,139.0 423.5,140.5 Q424.8,142.0 426.0,140.5 Q427.2,139.0 428.5,140.5 Q429.8,142.0 431.0,140.5 Q432.2,139.0 433.5,140.5 Q434.8,142.0 436.0,140.5" stroke="#d8b060" stroke-width="0.6" fill="none"/>
<path d="M440,135 q3,-2 6,0 t6,0" stroke="#a07020" stroke-width="0.5" fill="none"/>
<rect x="468.5" y="130.0" width="15.5" height="5.5" rx="2.8" fill="#f8d070" stroke="#d9a22a" stroke-width="0.5" transform="rotate(0 476.2 132.8)"/>
<circle cx="465.8" cy="129.2" r="1.5" fill="#3aa8a0"/><path d="M465.8,130.6 V133.2 M464.3,133.2 L465.8,132.2 L467.3,133.2" stroke="#777" stroke-width="0.5" fill="none"/>
<path d="M484,131 H495 M484,133 H496 M484,135 H494" stroke="#c8a060" stroke-width="0.4"/>
<rect x="391.0" y="141.0" width="15.7" height="7.2" rx="3.6" fill="#f2b236" stroke="#d9a22a" stroke-width="0.5" transform="rotate(12 398.9 144.6)"/>
<circle cx="404" cy="138.4" r="1.5" fill="#5ac0b8"/><path d="M404,139.8 V142.4 M402.5,142.4 L404,141.4 L405.5,142.4" stroke="#777" stroke-width="0.5" fill="none"/>
<path d="M406,149 Q407.2,147.8 408.5,149 Q409.8,150.2 411.0,149 Q412.2,147.8 413.5,149 Q414.8,150.2 416.0,149 Q417.2,147.8 418.5,149" stroke="#e0a830" stroke-width="0.7" fill="none"/>
<rect x="435.6" y="144.0" width="15.8" height="5.7" rx="2.8" fill="#f8d890" stroke="#e0b050" stroke-width="0.5" transform="rotate(0 443.5 146.8)"/>
<path d="M436,143 l-1,-2 M440,143 l0,-2 M444,143 l0,-2 M448,143 l1,-2 M436,150.5 l-1,2 M440,150.5 l0,2 M444,150.5 l0,2 M448,150.5 l1,2" stroke="#d8a040" stroke-width="0.4"/>
<path d="M473.8,145.8 m-9,0 h18 M473.8,145.8 m0,-4 v8 M467,142 l13.6,7.6 M467,149.6 l13.6,-7.6" stroke="#e8a820" stroke-width="0.5"/>
<rect x="469.0" y="144.3" width="9.6" height="3.0" rx="1.5" fill="#e89a18" stroke="#c07810" stroke-width="0.5" transform="rotate(0 473.8 145.8)"/>
<rect x="391.0" y="161.5" width="15.7" height="7.5" rx="3.8" fill="#d8cceb" stroke="#a090c8" stroke-width="0.5" transform="rotate(12 398.9 165.2)"/>
<circle cx="391.5" cy="158.9" r="1.5" fill="#d080b0"/><path d="M391.5,160.3 V162.9 M390.0,162.9 L391.5,161.9 L393.0,162.9" stroke="#777" stroke-width="0.5" fill="none"/>
<path d="M406,169 Q407.2,167.8 408.5,169 Q409.8,170.2 411.0,169 Q412.2,167.8 413.5,169 Q414.8,170.2 416.0,169 Q417.2,167.8 418.5,169 Q419.8,170.2 421.0,169" stroke="#a898d0" stroke-width="0.7" fill="none"/>
<path d="M439.5,169.3 m-9,0 h18 M439.5,169.3 m0,-4.5 v9 M432.5,165 l14,8.6 M432.5,173.6 l14,-8.6" stroke="#a08ed0" stroke-width="0.5"/>
<rect x="434.0" y="167.8" width="11.0" height="3.0" rx="1.5" fill="#8a64c8" stroke="#6a48a8" stroke-width="0.5" transform="rotate(0 439.5 169.3)"/>
<rect x="467.0" y="164.5" width="13.0" height="6.0" rx="3.0" fill="#8a6cc0" stroke="#6a48a8" stroke-width="0.5" transform="rotate(-15 473.5 167.5)"/>
<circle cx="469" cy="161.3" r="1.5" fill="#3aa8a0"/><path d="M469,162.70000000000002 V165.3 M467.5,165.3 L469,164.3 L470.5,165.3" stroke="#777" stroke-width="0.5" fill="none"/>
<rect x="391.0" y="176.0" width="15.7" height="6.5" rx="3.2" fill="#9a74c8" stroke="#7050a8" stroke-width="0.5" transform="rotate(5 398.9 179.2)"/>
<path d="M395,177 l4,5 M399,177 l4,5" stroke="#6a4a9a" stroke-width="0.5"/>
<rect x="421.0" y="178.6" width="30.0" height="5.2" rx="2.6" fill="#c8bce6" stroke="#a494d0" stroke-width="0.5" transform="rotate(-8 436.0 181.2)"/>
<path d="M405,185 Q406.2,183.8 407.5,185 Q408.8,186.2 410.0,185 Q411.2,183.8 412.5,185 Q413.8,186.2 415.0,185 Q416.2,183.8 417.5,185 Q418.8,186.2 420.0,185" stroke="#a898d0" stroke-width="0.7" fill="none"/>
<path d="M398.8,189.5 Q400.3,188.1 401.8,189.5 Q403.3,190.9 404.8,189.5 Q406.3,188.1 407.8,189.5 Q409.3,190.9 410.8,189.5 Q412.3,188.1 413.8,189.5 Q415.3,190.9 416.8,189.5 Q418.3,188.1 419.8,189.5" stroke="#b0a4d8" stroke-width="1.0" fill="none"/>
<rect x="443.5" y="188.0" width="13.1" height="6.0" rx="3.0" fill="#c4b4e4" stroke="#9c8cd0" stroke-width="0.5" transform="rotate(0 450.1 191.0)"/>
<circle cx="454" cy="184.3" r="1.5" fill="#c83a3a"/><path d="M454,185.70000000000002 V188.3 M452.5,188.3 L454,187.3 L455.5,188.3" stroke="#777" stroke-width="0.5" fill="none"/>
<circle cx="474.4" cy="185" r="4.2" fill="#a678d0" stroke="#7a52b0" stroke-width="0.5"/>
<path d="M478.5,183 H492 M478.5,185.5 H493 M478.5,188 H491" stroke="#a898d0" stroke-width="0.5"/>
<text x="390.4" y="208.3" font-size="8.8" fill="#1a1a1a">As-transforming microbes</text>
<line x1="500.4" y1="147.8" x2="541" y2="147.8" stroke="#9a9a9a" stroke-width="1.2"/>
<path d="M539,144.4 L544.5,147.8 L539,151.2 Z" fill="#9a9a9a"/>
<text x="503.0" y="143.9" font-size="8.8" fill="#444">Prediction</text>
<rect x="545.2" y="109.5" width="128.8" height="42.8" fill="#fdefcc"/>
<rect x="545.2" y="152.3" width="128.8" height="41.9" fill="#efecfa"/>
<text x="590.0" y="117.9" font-size="7.6" fill="#d4a21c">As Oxidation</text>
<text x="590.7" y="160.4" font-size="7.6" fill="#9b90c2">As Reduction</text>
<rect x="555.5" y="127" width="39.7" height="20.8" rx="10.4" fill="#fffef8" stroke="#cdb23a" stroke-width="1.9"/>
<g fill="#e2a848"><rect x="588.7" y="136.7" width="1" height="1.4"/><rect x="588.4" y="139.7" width="1" height="1.4"/><rect x="584.4" y="141.7" width="1" height="1.4"/><rect x="578.0" y="142.3" width="1" height="1.4"/><rect x="571.5" y="143.1" width="1" height="1.4"/><rect x="565.9" y="141.9" width="1" height="1.4"/><rect x="561.8" y="139.8" width="1" height="1.4"/><rect x="559.6" y="136.7" width="1" height="1.4"/><rect x="560.8" y="134.2" width="1" height="1.4"/><rect x="565.7" y="131.7" width="1" height="1.4"/><rect x="571.7" y="131.0" width="1" height="1.4"/><rect x="578.3" y="131.1" width="1" height="1.4"/><rect x="584.1" y="131.1" width="1" height="1.4"/><rect x="587.3" y="134.1" width="1" height="1.4"/></g>
<path d="M570.4,139.4 q4,3 8,-1 t8,-2 t6,0" stroke="#e6c040" stroke-width="0.8" fill="none"/>
<path d="M580.4,138.4 q3,-2.5 7,-1.8" stroke="#c83a3a" stroke-width="1" fill="none"/>
<circle cx="563.4" cy="132.4" r="1.3" fill="none" stroke="#d05050" stroke-width="0.5"/><circle cx="567.4" cy="135.4" r="1.3" fill="none" stroke="#d05050" stroke-width="0.5"/><circle cx="563.4" cy="139.4" r="1.3" fill="none" stroke="#d05050" stroke-width="0.5"/><circle cx="570.4" cy="131.4" r="1.3" fill="none" stroke="#d05050" stroke-width="0.5"/><circle cx="572.4" cy="136.4" r="1.3" fill="none" stroke="#d05050" stroke-width="0.5"/><path d="M560.5,135 l5,6 M564.5,133 l2,8 M568.5,138 l-2,6" stroke="#c84040" stroke-width="0.6"/>
<path d="M596,137 q3,0 4,3 t4,3 t4,1 t7.0,2.0" stroke="#e6c040" stroke-width="0.5" fill="none"/>
<line x1="553" y1="124.2" x2="557.5" y2="128.5" stroke="#c0404a" stroke-width="0.8"/><path d="M553.2,126.1 l4,1.5 M554.2,127.6 l3,-2" stroke="#c0404a" stroke-width="0.5"/>
<circle cx="553" cy="121.7" r="2.8" fill="#fff" stroke="#e07890" stroke-width="0.7"/>
<rect x="614.3" y="123.2" width="39.7" height="20.8" rx="10.4" fill="#fffef8" stroke="#cdb23a" stroke-width="1.9"/>
<g fill="#e2a848"><rect x="648.6" y="132.9" width="1" height="1.4"/><rect x="647.2" y="135.9" width="1" height="1.4"/><rect x="642.3" y="137.8" width="1" height="1.4"/><rect x="636.8" y="138.6" width="1" height="1.4"/><rect x="630.2" y="139.6" width="1" height="1.4"/><rect x="624.2" y="137.4" width="1" height="1.4"/><rect x="619.7" y="135.9" width="1" height="1.4"/><rect x="619.1" y="132.9" width="1" height="1.4"/><rect x="620.5" y="130.3" width="1" height="1.4"/><rect x="625.1" y="128.1" width="1" height="1.4"/><rect x="630.6" y="126.8" width="1" height="1.4"/><rect x="637.0" y="126.3" width="1" height="1.4"/><rect x="643.3" y="127.6" width="1" height="1.4"/><rect x="646.4" y="130.1" width="1" height="1.4"/></g>
<path d="M625.1,135.6 q4,3 8,-1 t8,-2 t6,0" stroke="#e6c040" stroke-width="0.8" fill="none"/>
<path d="M635.1,134.6 q3,-2.5 7,-1.8" stroke="#c83a3a" stroke-width="1" fill="none"/>
<path d="M655,133 q3,0 4,3 t4,3 t4,1 t4.5,-3.0" stroke="#e6c040" stroke-width="0.5" fill="none"/>
<line x1="653.6" y1="116.2" x2="650.3" y2="122.5" stroke="#c0404a" stroke-width="0.8"/><path d="M650.0,119.1 l4,1.5 M651.0,120.6 l3,-2" stroke="#c0404a" stroke-width="0.5"/>
<circle cx="653.6" cy="113.7" r="2.8" fill="#fff" stroke="#e07890" stroke-width="0.7"/>
<rect x="555.5" y="162.1" width="39.7" height="22.7" rx="11.4" fill="#fdfcff" stroke="#a45cba" stroke-width="1.9"/>
<g fill="#8a88d0"><rect x="589.4" y="172.8" width="1" height="1.4"/><rect x="588.1" y="175.8" width="1" height="1.4"/><rect x="584.2" y="179.1" width="1" height="1.4"/><rect x="578.0" y="180.5" width="1" height="1.4"/><rect x="571.8" y="179.5" width="1" height="1.4"/><rect x="566.1" y="178.8" width="1" height="1.4"/><rect x="560.7" y="176.1" width="1" height="1.4"/><rect x="560.6" y="172.8" width="1" height="1.4"/><rect x="562.0" y="169.8" width="1" height="1.4"/><rect x="565.1" y="166.8" width="1" height="1.4"/><rect x="571.5" y="165.3" width="1" height="1.4"/><rect x="578.4" y="165.6" width="1" height="1.4"/><rect x="584.5" y="166.8" width="1" height="1.4"/><rect x="588.8" y="169.6" width="1" height="1.4"/></g>
<path d="M570.4,175.4 q4,3 8,-1 t8,-2 t6,0" stroke="#8a80d0" stroke-width="0.8" fill="none"/>
<path d="M580.4,174.4 q3,-2.5 7,-1.8" stroke="#c83a3a" stroke-width="1" fill="none"/>
<circle cx="563.4" cy="168.4" r="1.3" fill="none" stroke="#d05050" stroke-width="0.5"/><circle cx="567.4" cy="171.4" r="1.3" fill="none" stroke="#d05050" stroke-width="0.5"/><circle cx="563.4" cy="175.4" r="1.3" fill="none" stroke="#d05050" stroke-width="0.5"/><circle cx="570.4" cy="167.4" r="1.3" fill="none" stroke="#d05050" stroke-width="0.5"/><circle cx="572.4" cy="172.4" r="1.3" fill="none" stroke="#d05050" stroke-width="0.5"/><path d="M560.5,170.1 l5,6 M564.5,168.1 l2,8 M568.5,173.1 l-2,6" stroke="#c84040" stroke-width="0.6"/>
<path d="M596,172 q3,0 4,3 t4,3 t4,1 t4.0,3.0" stroke="#8a80d0" stroke-width="0.5" fill="none"/>
<line x1="553.5" y1="158.9" x2="557.5" y2="162" stroke="#c0404a" stroke-width="0.8"/><path d="M553.5,160.2 l4,1.5 M554.5,161.7 l3,-2" stroke="#c0404a" stroke-width="0.5"/>
<circle cx="553.5" cy="156.4" r="2.8" fill="#fff" stroke="#e07890" stroke-width="0.7"/>
<rect x="615.3" y="167.8" width="38.7" height="21.8" rx="10.9" fill="#fdfcff" stroke="#a45cba" stroke-width="1.9"/>
<g fill="#8a88d0"><rect x="648.9" y="178.0" width="1" height="1.4"/><rect x="646.5" y="180.8" width="1" height="1.4"/><rect x="643.2" y="182.9" width="1" height="1.4"/><rect x="637.5" y="184.2" width="1" height="1.4"/><rect x="631.2" y="184.2" width="1" height="1.4"/><rect x="624.7" y="183.2" width="1" height="1.4"/><rect x="622.1" y="180.7" width="1" height="1.4"/><rect x="621.0" y="178.0" width="1" height="1.4"/><rect x="621.1" y="174.9" width="1" height="1.4"/><rect x="625.0" y="173.1" width="1" height="1.4"/><rect x="630.9" y="171.4" width="1" height="1.4"/><rect x="637.5" y="170.8" width="1" height="1.4"/><rect x="643.6" y="173.1" width="1" height="1.4"/><rect x="647.7" y="174.7" width="1" height="1.4"/></g>
<path d="M625.6,180.7 q4,3 8,-1 t8,-2 t6,0" stroke="#8a80d0" stroke-width="0.8" fill="none"/>
<path d="M635.6,179.7 q3,-2.5 7,-1.8" stroke="#c83a3a" stroke-width="1" fill="none"/>
<path d="M655,178 q3,0 4,3 t4,3 t4,1 t5.0,-1.0" stroke="#8a80d0" stroke-width="0.5" fill="none"/>
<line x1="654.1" y1="161.7" x2="651" y2="167" stroke="#c0404a" stroke-width="0.8"/><path d="M650.5,164.1 l4,1.5 M651.5,165.6 l3,-2" stroke="#c0404a" stroke-width="0.5"/>
<circle cx="654.1" cy="159.2" r="2.8" fill="#fff" stroke="#e07890" stroke-width="0.7"/>
<text x="575.2" y="203.8" font-size="8.8" fill="#1a1a1a">Virus-associated</text>
<text x="557.8" y="212.7" font-size="8.8" fill="#1a1a1a">As-transforming microbes</text>
<line x1="28" y1="219.3" x2="671.6" y2="219.3" stroke="#a9d9d1" stroke-width="1.1"/>
<text x="-1.3" y="240.0" font-size="19.5" fill="#000" font-weight="bold">b</text>
<g fill="#f1d7d3"><rect x="62.8" y="234.2" width="4.9" height="6.6"/><rect x="67.9" y="240.8" width="4.9" height="3.5"/><rect x="73.1" y="240.8" width="4.9" height="6.2"/><rect x="78.2" y="240.8" width="4.9" height="1.3"/><rect x="83.4" y="240.8" width="4.9" height="22.7"/><rect x="88.5" y="240.8" width="4.9" height="22.6"/><rect x="93.7" y="240.8" width="4.9" height="26.5"/><rect x="98.9" y="240.8" width="4.9" height="35.8"/><rect x="104.0" y="240.8" width="4.9" height="40.9"/><rect x="109.2" y="240.8" width="4.9" height="42.4"/><rect x="114.4" y="240.8" width="4.9" height="42.7"/><rect x="119.5" y="240.8" width="4.9" height="45.9"/><rect x="124.7" y="240.8" width="4.9" height="43.1"/><rect x="129.8" y="240.8" width="4.9" height="48.8"/><rect x="135.0" y="240.8" width="4.9" height="49.1"/><rect x="140.2" y="240.8" width="4.9" height="50.1"/><rect x="145.3" y="240.8" width="4.9" height="55.7"/><rect x="150.5" y="240.8" width="4.9" height="55.7"/><rect x="155.6" y="240.8" width="4.9" height="60.8"/><rect x="160.8" y="240.8" width="4.9" height="70.8"/><rect x="166.0" y="240.8" width="4.9" height="77.4"/><rect x="171.1" y="240.8" width="4.9" height="79.1"/><rect x="176.3" y="240.8" width="4.9" height="81.2"/><rect x="181.4" y="240.8" width="4.9" height="75.2"/><rect x="186.6" y="240.8" width="4.9" height="80.5"/><rect x="191.8" y="240.8" width="4.9" height="76.7"/><rect x="196.9" y="240.8" width="4.9" height="77.7"/><rect x="202.1" y="240.8" width="4.9" height="72.4"/><rect x="207.2" y="240.8" width="4.9" height="67.8"/><rect x="212.4" y="240.8" width="4.9" height="69.8"/><rect x="217.6" y="240.8" width="4.9" height="61.9"/><rect x="222.7" y="240.8" width="4.9" height="55.4"/><rect x="227.9" y="240.8" width="4.9" height="48.8"/><rect x="233.0" y="240.8" width="4.9" height="43.6"/><rect x="238.2" y="240.8" width="4.9" height="42.5"/><rect x="243.4" y="240.8" width="4.9" height="36.8"/><rect x="248.5" y="240.8" width="4.9" height="35.1"/><rect x="253.7" y="240.8" width="4.9" height="30.9"/><rect x="258.8" y="240.8" width="4.9" height="24.8"/><rect x="264.0" y="240.8" width="4.9" height="19.9"/><rect x="269.2" y="240.8" width="4.9" height="13.5"/><rect x="274.3" y="240.8" width="4.9" height="16.0"/><rect x="279.5" y="240.8" width="4.9" height="11.6"/><rect x="284.6" y="240.8" width="4.9" height="11.2"/><rect x="289.8" y="240.8" width="4.9" height="13.1"/><rect x="295.0" y="240.8" width="4.9" height="6.8"/><rect x="300.1" y="240.8" width="4.9" height="7.3"/><rect x="305.3" y="240.8" width="4.9" height="9.7"/><rect x="310.4" y="240.8" width="4.9" height="7.8"/><rect x="315.6" y="240.8" width="4.9" height="8.4"/><rect x="320.8" y="240.8" width="4.9" height="10.1"/><rect x="325.9" y="240.8" width="4.9" height="9.0"/></g>
<g fill="#e9c3bd" fill-opacity="0.7"><rect x="63.0" y="227.4" width="4.4" height="13.6"/><rect x="68.2" y="241.6" width="4.4" height="5.5"/><rect x="73.3" y="243.8" width="4.4" height="6.4"/><rect x="78.5" y="239.4" width="4.4" height="5.5"/><rect x="83.6" y="257.2" width="4.4" height="12.7"/><rect x="88.8" y="258.1" width="4.4" height="10.6"/><rect x="94.0" y="262.1" width="4.4" height="10.6"/><rect x="99.1" y="273.9" width="4.4" height="5.4"/><rect x="104.3" y="275.9" width="4.4" height="11.8"/><rect x="109.4" y="279.4" width="4.4" height="7.5"/><rect x="114.6" y="281.2" width="4.4" height="4.6"/><rect x="119.8" y="283.2" width="4.4" height="7.2"/><rect x="124.9" y="279.9" width="4.4" height="8.0"/><rect x="130.1" y="282.7" width="4.4" height="13.8"/><rect x="135.2" y="283.6" width="4.4" height="12.7"/><rect x="140.4" y="288.6" width="4.4" height="4.7"/><rect x="145.6" y="292.1" width="4.4" height="8.7"/><rect x="150.7" y="292.6" width="4.4" height="7.8"/><rect x="155.9" y="296.7" width="4.4" height="9.7"/><rect x="161.0" y="305.2" width="4.4" height="12.8"/><rect x="166.2" y="312.0" width="4.4" height="12.4"/><rect x="171.4" y="317.6" width="4.4" height="4.4"/><rect x="176.5" y="316.1" width="4.4" height="11.8"/><rect x="181.7" y="313.8" width="4.4" height="4.5"/><rect x="186.8" y="316.7" width="4.4" height="9.2"/><rect x="192.0" y="314.4" width="4.4" height="6.2"/><rect x="197.2" y="314.6" width="4.4" height="7.8"/><rect x="202.3" y="309.8" width="4.4" height="7.0"/><rect x="207.5" y="305.0" width="4.4" height="7.2"/><rect x="212.6" y="305.0" width="4.4" height="11.2"/><rect x="217.8" y="300.0" width="4.4" height="5.5"/><rect x="223.0" y="293.6" width="4.4" height="5.2"/><rect x="228.1" y="284.0" width="4.4" height="11.2"/><rect x="233.3" y="279.2" width="4.4" height="10.5"/><rect x="238.4" y="279.1" width="4.4" height="8.3"/><rect x="243.6" y="271.1" width="4.4" height="13.1"/><rect x="248.8" y="269.3" width="4.4" height="13.1"/><rect x="253.9" y="268.5" width="4.4" height="6.4"/><rect x="259.1" y="259.1" width="4.4" height="13.2"/><rect x="264.2" y="256.6" width="4.4" height="8.1"/><rect x="269.4" y="251.0" width="4.4" height="6.7"/><rect x="274.6" y="252.0" width="4.4" height="9.6"/><rect x="279.7" y="246.5" width="4.4" height="11.7"/><rect x="284.9" y="248.1" width="4.4" height="7.8"/><rect x="290.0" y="250.9" width="4.4" height="5.9"/><rect x="295.2" y="242.2" width="4.4" height="10.9"/><rect x="300.4" y="245.0" width="4.4" height="6.1"/><rect x="305.5" y="244.5" width="4.4" height="11.9"/><rect x="310.7" y="245.8" width="4.4" height="5.6"/><rect x="315.8" y="242.7" width="4.4" height="13.0"/><rect x="321.0" y="247.7" width="4.4" height="6.3"/><rect x="326.2" y="244.2" width="4.4" height="11.3"/></g>
<path d="M65.2,229.3 C67.4,231.7 73.8,238.0 78.1,243.5 C82.4,248.9 86.7,257.2 91.0,262.0 C95.3,266.8 99.6,269.5 103.9,272.2 C108.2,274.9 112.5,276.7 116.8,278.4 C121.1,280.1 125.4,280.8 129.7,282.3 C134.0,283.9 138.3,285.3 142.6,287.7 C146.9,290.0 151.2,292.8 155.5,296.5 C159.8,300.2 164.1,306.5 168.4,309.8 C172.7,313.0 177.9,314.8 181.3,315.9 C184.7,317.1 186.9,316.8 189.0,316.8 C191.2,316.8 191.2,316.9 194.2,315.9 C197.2,315.0 202.8,314.0 207.1,311.1 C211.4,308.1 215.7,302.5 220.0,298.3 C224.3,294.0 228.6,289.8 232.9,285.4 C237.2,281.1 241.5,276.4 245.8,272.2 C250.1,268.0 254.4,263.3 258.7,260.2 C263.0,257.2 267.3,255.4 271.6,253.6 C275.9,251.9 280.2,250.8 284.5,249.6 C288.8,248.5 293.1,247.3 297.4,246.5 C301.7,245.8 306.0,245.7 310.3,245.2 C314.6,244.8 320.2,244.2 323.2,243.9 C326.2,243.6 327.5,243.5 328.4,243.5 L328.4,251.4 C327.5,251.5 326.2,251.6 323.2,251.9 C320.2,252.1 314.6,252.7 310.3,253.2 C306.0,253.6 301.7,253.8 297.4,254.5 C293.1,255.2 288.8,256.4 284.5,257.6 C280.2,258.8 275.9,259.8 271.6,261.6 C267.3,263.3 263.0,265.1 258.7,268.2 C254.4,271.3 250.1,275.9 245.8,280.1 C241.5,284.3 237.2,289.1 232.9,293.4 C228.6,297.7 224.3,301.9 220.0,306.2 C215.7,310.5 211.4,316.1 207.1,319.0 C202.8,322.0 197.2,322.9 194.2,323.9 C191.2,324.9 191.2,324.8 189.0,324.8 C186.9,324.8 184.7,325.1 181.3,323.9 C177.9,322.7 172.7,320.9 168.4,317.7 C164.1,314.5 159.8,308.1 155.5,304.4 C151.2,300.8 146.9,298.0 142.6,295.6 C138.3,293.3 134.0,291.9 129.7,290.3 C125.4,288.8 121.1,288.0 116.8,286.3 C112.5,284.6 108.2,282.9 103.9,280.1 C99.6,277.4 95.3,274.8 91.0,270.0 C86.7,265.2 82.4,256.9 78.1,251.4 C73.8,246.0 67.4,239.6 65.2,237.3 Z" fill="#ebb8b0" fill-opacity="0.7"/>
<path d="M65.2,233.3 C67.4,235.6 73.8,242.0 78.1,247.4 C82.4,252.9 86.7,261.2 91.0,266.0 C95.3,270.8 99.6,273.4 103.9,276.2 C108.2,278.9 112.5,280.7 116.8,282.3 C121.1,284.0 125.4,284.8 129.7,286.3 C134.0,287.9 138.3,289.3 142.6,291.6 C146.9,294.0 151.2,296.8 155.5,300.5 C159.8,304.2 164.1,310.5 168.4,313.7 C172.7,317.0 177.9,318.7 181.3,319.9 C184.7,321.1 186.9,320.8 189.0,320.8 C191.2,320.8 191.2,320.9 194.2,319.9 C197.2,319.0 202.8,318.0 207.1,315.1 C211.4,312.1 215.7,306.5 220.0,302.2 C224.3,298.0 228.6,293.8 232.9,289.4 C237.2,285.1 241.5,280.4 245.8,276.2 C250.1,272.0 254.4,267.3 258.7,264.2 C263.0,261.1 267.3,259.4 271.6,257.6 C275.9,255.8 280.2,254.8 284.5,253.6 C288.8,252.4 293.1,251.3 297.4,250.5 C301.7,249.8 306.0,249.6 310.3,249.2 C314.6,248.8 320.2,248.2 323.2,247.9 C326.2,247.6 327.5,247.5 328.4,247.4" stroke="#c0472f" stroke-width="0.9" fill="none"/>
<line x1="63.5" y1="240.8" x2="328.7" y2="240.8" stroke="#6a6a6a" stroke-width="0.9" stroke-dasharray="3.2,2.2"/>
<path d="M63.1,225 V332.6 H330.8" stroke="#444" stroke-width="1.3" fill="none"/>
<line x1="60.5" y1="240.8" x2="63.1" y2="240.8" stroke="#333" stroke-width="0.8"/>
<text x="59.5" y="244.4" font-size="10.2" fill="#1a1a1a" text-anchor="end">0</text>
<line x1="60.5" y1="262.9" x2="63.1" y2="262.9" stroke="#333" stroke-width="0.8"/>
<text x="59.5" y="266.5" font-size="10.2" fill="#1a1a1a" text-anchor="end">-5</text>
<line x1="60.5" y1="285.0" x2="63.1" y2="285.0" stroke="#333" stroke-width="0.8"/>
<text x="59.5" y="288.6" font-size="10.2" fill="#1a1a1a" text-anchor="end">-10</text>
<line x1="60.5" y1="307.1" x2="63.1" y2="307.1" stroke="#333" stroke-width="0.8"/>
<text x="59.5" y="310.7" font-size="10.2" fill="#1a1a1a" text-anchor="end">-15</text>
<line x1="60.5" y1="329.2" x2="63.1" y2="329.2" stroke="#333" stroke-width="0.8"/>
<text x="59.5" y="332.8" font-size="10.2" fill="#1a1a1a" text-anchor="end">-20</text>
<line x1="65.2" y1="332.6" x2="65.2" y2="335.2" stroke="#333" stroke-width="0.8"/>
<text x="65.2" y="343.7" font-size="10.2" fill="#1a1a1a" text-anchor="middle">0</text>
<line x1="116.8" y1="332.6" x2="116.8" y2="335.2" stroke="#333" stroke-width="0.8"/>
<text x="116.8" y="343.7" font-size="10.2" fill="#1a1a1a" text-anchor="middle">20</text>
<line x1="168.4" y1="332.6" x2="168.4" y2="335.2" stroke="#333" stroke-width="0.8"/>
<text x="168.4" y="343.7" font-size="10.2" fill="#1a1a1a" text-anchor="middle">40</text>
<line x1="220.0" y1="332.6" x2="220.0" y2="335.2" stroke="#333" stroke-width="0.8"/>
<text x="220.0" y="343.7" font-size="10.2" fill="#1a1a1a" text-anchor="middle">60</text>
<line x1="271.6" y1="332.6" x2="271.6" y2="335.2" stroke="#333" stroke-width="0.8"/>
<text x="271.6" y="343.7" font-size="10.2" fill="#1a1a1a" text-anchor="middle">80</text>
<line x1="323.2" y1="332.6" x2="323.2" y2="335.2" stroke="#333" stroke-width="0.8"/>
<text x="323.2" y="343.7" font-size="10.2" fill="#1a1a1a" text-anchor="middle">100</text>
<text x="200.8" y="352.3" font-size="10.5" fill="#1a1a1a" text-anchor="middle">Days</text>
<text x="20.1" y="286.0" font-size="10.9" fill="#3b4a6b" text-anchor="middle" transform="rotate(-90 20.1 286)">Relative change</text>
<text x="33.4" y="284.4" font-size="10.9" fill="#3b4a6b" text-anchor="middle" transform="rotate(-90 33.4 284.4)">in As(III) proportion (%)</text>
<text x="0.0" y="365.5" font-size="19.5" fill="#000" font-weight="bold">c</text>
<rect x="61.8" y="362.3" width="27.2" height="106.5" fill="#f4f4f4"/>
<rect x="140.8" y="362.3" width="51.8" height="106.5" fill="#f4f4f4"/>
<rect x="244.4" y="362.3" width="51.8" height="106.5" fill="#f4f4f4"/>
<path d="M64.7,431.9 C66.4,431.8 71.2,431.5 75.1,431.1 C78.9,430.6 84.1,428.9 88.0,429.2 C91.9,429.6 94.9,431.3 98.4,432.8 C101.8,434.3 105.3,438.6 108.7,438.2 C112.2,437.9 116.1,433.2 119.1,431.1 C122.1,428.9 123.8,426.7 126.9,425.6 C129.9,424.6 134.2,424.9 137.2,424.8 C140.2,424.6 142.0,424.4 145.0,424.8 C148.0,425.1 151.5,423.6 155.3,426.6 C159.2,429.6 164.4,440.5 168.3,442.8 C172.2,445.0 175.6,440.8 178.7,440.1 C181.7,439.3 183.0,437.5 186.4,438.2 C189.9,439.0 195.5,442.6 199.4,444.6 C203.3,446.5 206.3,449.6 209.7,449.9 C213.2,450.2 216.6,447.4 220.1,446.3 C223.6,445.3 227.4,443.5 230.5,443.6 C233.5,443.8 235.6,446.2 238.2,447.2 C240.8,448.3 243.4,450.1 246.0,449.9 C248.6,449.8 250.7,447.5 253.8,446.3 C256.8,445.1 260.7,442.0 264.1,442.8 C267.6,443.5 271.5,450.7 274.5,450.8 C277.5,451.0 279.2,446.2 282.3,443.6 C285.3,441.1 289.6,437.4 292.6,435.6 C295.6,433.8 297.4,432.8 300.4,432.8 C303.4,432.8 306.9,433.8 310.8,435.6 C314.6,437.4 321.5,442.3 323.7,443.6 L323.7,455.3 C321.5,454.0 314.6,449.1 310.8,447.2 C306.9,445.4 303.4,444.6 300.4,444.6 C297.4,444.6 295.6,445.4 292.6,447.2 C289.6,449.1 285.3,452.8 282.3,455.3 C279.2,457.9 277.5,462.7 274.5,462.6 C271.5,462.4 267.6,455.2 264.1,454.4 C260.7,453.7 256.8,456.9 253.8,458.1 C250.7,459.2 248.6,461.5 246.0,461.6 C243.4,461.8 240.8,460.0 238.2,458.9 C235.6,457.9 233.5,455.5 230.5,455.3 C227.4,455.2 223.6,457.0 220.1,458.1 C216.6,459.1 213.2,461.9 209.7,461.6 C206.3,461.3 203.3,458.2 199.4,456.2 C195.5,454.3 189.9,450.7 186.4,449.9 C183.0,449.2 181.7,451.0 178.7,451.8 C175.6,452.5 172.2,456.7 168.3,454.4 C164.4,452.2 159.2,441.2 155.3,438.2 C151.5,435.2 148.0,436.8 145.0,436.4 C142.0,436.1 140.2,436.3 137.2,436.4 C134.2,436.6 129.9,436.3 126.9,437.3 C123.8,438.4 122.1,440.6 119.1,442.8 C116.1,444.9 112.2,449.6 108.7,449.9 C105.3,450.2 101.8,446.1 98.4,444.6 C94.9,443.1 91.9,441.2 88.0,440.9 C84.1,440.6 78.9,442.3 75.1,442.8 C71.2,443.2 66.4,443.5 64.7,443.6 Z" fill="#d9d1e4" fill-opacity="0.5"/>
<path d="M64.7,435.1 C66.4,434.6 71.2,433.3 75.1,432.4 C78.9,431.5 84.1,429.7 88.0,429.7 C91.9,429.7 94.9,431.3 98.4,432.4 C101.8,433.4 105.3,436.1 108.7,436.0 C112.2,435.9 116.1,433.1 119.1,431.5 C122.1,429.9 123.8,427.3 126.9,426.1 C129.9,424.9 134.2,424.9 137.2,424.3 C140.2,423.7 142.0,421.9 145.0,422.5 C148.0,423.1 151.5,425.8 155.3,427.9 C159.2,430.0 164.4,434.8 168.3,435.1 C172.2,435.4 175.6,431.3 178.7,429.7 C181.7,428.1 183.0,425.6 186.4,425.2 C189.9,424.8 195.5,426.2 199.4,427.0 C203.3,427.8 206.3,430.0 209.7,429.7 C213.2,429.4 216.6,426.4 220.1,425.2 C223.6,424.0 227.4,421.8 230.5,422.5 C233.5,423.2 235.6,427.5 238.2,429.7 C240.8,431.9 243.4,434.9 246.0,435.6 C248.6,436.2 250.7,433.8 253.8,433.3 C256.8,432.8 260.7,431.0 264.1,432.4 C267.6,433.8 271.5,440.9 274.5,441.4 C277.5,441.8 279.2,436.9 282.3,435.1 C285.3,433.3 289.6,431.5 292.6,430.6 C295.6,429.7 297.4,429.8 300.4,429.7 C303.4,429.6 306.9,429.7 310.8,429.7 C314.6,429.7 321.5,429.7 323.7,429.7 L323.7,436.9 C321.5,436.9 314.6,436.9 310.8,436.9 C306.9,436.9 303.4,436.8 300.4,436.9 C297.4,437.0 295.6,436.9 292.6,437.8 C289.6,438.7 285.3,440.5 282.3,442.3 C279.2,444.1 277.5,449.0 274.5,448.6 C271.5,448.1 267.6,440.9 264.1,439.6 C260.7,438.2 256.8,440.0 253.8,440.5 C250.7,441.0 248.6,443.4 246.0,442.8 C243.4,442.1 240.8,439.1 238.2,436.9 C235.6,434.7 233.5,430.4 230.5,429.7 C227.4,428.9 223.6,431.2 220.1,432.4 C216.6,433.6 213.2,436.6 209.7,436.9 C206.3,437.2 203.3,434.9 199.4,434.2 C195.5,433.4 189.9,431.9 186.4,432.4 C183.0,432.8 181.7,435.2 178.7,436.9 C175.6,438.5 172.2,442.6 168.3,442.3 C164.4,442.0 159.2,437.2 155.3,435.1 C151.5,433.0 148.0,430.3 145.0,429.7 C142.0,429.1 140.2,430.9 137.2,431.5 C134.2,432.1 129.9,432.1 126.9,433.3 C123.8,434.5 122.1,437.1 119.1,438.7 C116.1,440.3 112.2,443.1 108.7,443.2 C105.3,443.3 101.8,440.6 98.4,439.6 C94.9,438.5 91.9,436.9 88.0,436.9 C84.1,436.9 78.9,438.7 75.1,439.6 C71.2,440.5 66.4,441.9 64.7,442.3 Z" fill="#e8dde8" fill-opacity="0.5"/>
<path d="M64.7,431.5 C66.4,431.1 71.2,429.7 75.1,428.8 C78.9,427.9 84.1,426.1 88.0,426.1 C91.9,426.1 94.9,427.8 98.4,428.8 C101.8,429.9 105.3,432.5 108.7,432.4 C112.2,432.2 116.1,429.5 119.1,427.9 C122.1,426.2 123.8,423.7 126.9,422.5 C129.9,421.3 134.2,421.3 137.2,420.7 C140.2,420.1 142.0,418.3 145.0,418.9 C148.0,419.5 151.5,422.2 155.3,424.3 C159.2,426.4 164.4,431.2 168.3,431.5 C172.2,431.8 175.6,427.8 178.7,426.1 C181.7,424.4 183.0,422.0 186.4,421.6 C189.9,421.1 195.5,422.6 199.4,423.4 C203.3,424.1 206.3,426.4 209.7,426.1 C213.2,425.8 216.6,422.8 220.1,421.6 C223.6,420.4 227.4,418.1 230.5,418.9 C233.5,419.6 235.6,423.9 238.2,426.1 C240.8,428.3 243.4,431.3 246.0,431.9 C248.6,432.6 250.7,430.2 253.8,429.7 C256.8,429.2 260.7,427.4 264.1,428.8 C267.6,430.2 271.5,437.4 274.5,437.8 C277.5,438.2 279.2,433.3 282.3,431.5 C285.3,429.7 289.6,427.9 292.6,427.0 C295.6,426.1 297.4,426.2 300.4,426.1 C303.4,425.9 306.9,426.1 310.8,426.1 C314.6,426.1 321.5,426.1 323.7,426.1 L323.7,433.3 C321.5,433.3 314.6,433.3 310.8,433.3 C306.9,433.3 303.4,433.2 300.4,433.3 C297.4,433.4 295.6,433.3 292.6,434.2 C289.6,435.1 285.3,436.9 282.3,438.7 C279.2,440.5 277.5,445.4 274.5,445.0 C271.5,444.6 267.6,437.4 264.1,436.0 C260.7,434.6 256.8,436.4 253.8,436.9 C250.7,437.4 248.6,439.8 246.0,439.1 C243.4,438.5 240.8,435.5 238.2,433.3 C235.6,431.1 233.5,426.8 230.5,426.1 C227.4,425.3 223.6,427.6 220.1,428.8 C216.6,430.0 213.2,433.0 209.7,433.3 C206.3,433.6 203.3,431.3 199.4,430.6 C195.5,429.8 189.9,428.4 186.4,428.8 C183.0,429.2 181.7,431.7 178.7,433.3 C175.6,434.9 172.2,439.0 168.3,438.7 C164.4,438.4 159.2,433.6 155.3,431.5 C151.5,429.4 148.0,426.7 145.0,426.1 C142.0,425.5 140.2,427.3 137.2,427.9 C134.2,428.5 129.9,428.5 126.9,429.7 C123.8,430.9 122.1,433.4 119.1,435.1 C116.1,436.7 112.2,439.4 108.7,439.6 C105.3,439.8 101.8,437.1 98.4,436.0 C94.9,434.9 91.9,433.3 88.0,433.3 C84.1,433.3 78.9,435.1 75.1,436.0 C71.2,436.9 66.4,438.2 64.7,438.7 Z" fill="#eee6f4" fill-opacity="0.5"/>
<path d="M64.7,430.6 C66.4,430.0 71.2,428.2 75.1,427.0 C78.9,425.8 84.1,423.4 88.0,423.4 C91.9,423.4 94.9,425.8 98.4,427.0 C101.8,428.2 105.3,430.9 108.7,430.6 C112.2,430.3 116.1,427.0 119.1,425.2 C122.1,423.4 123.8,421.2 126.9,419.8 C129.9,418.4 134.2,418.0 137.2,417.1 C140.2,416.2 142.0,413.6 145.0,414.4 C148.0,415.1 151.5,419.2 155.3,421.6 C159.2,424.0 164.4,428.6 168.3,428.8 C172.2,429.0 175.6,424.4 178.7,422.5 C181.7,420.6 183.0,418.0 186.4,417.6 C189.9,417.1 195.5,419.4 199.4,419.8 C203.3,420.2 206.3,420.2 209.7,419.8 C213.2,419.4 216.6,417.8 220.1,417.1 C223.6,416.3 227.4,414.9 230.5,415.3 C233.5,415.8 235.6,418.5 238.2,419.8 C240.8,421.1 243.4,422.5 246.0,423.4 C248.6,424.3 250.7,425.0 253.8,425.2 C256.8,425.4 260.7,422.9 264.1,424.8 C267.6,426.6 271.5,434.9 274.5,436.0 C277.5,437.1 279.2,433.0 282.3,431.5 C285.3,430.0 289.6,428.4 292.6,427.0 C295.6,425.6 297.4,424.0 300.4,423.4 C303.4,422.8 306.9,423.4 310.8,423.4 C314.6,423.4 321.5,423.4 323.7,423.4 L323.7,430.6 C321.5,430.6 314.6,430.6 310.8,430.6 C306.9,430.6 303.4,430.0 300.4,430.6 C297.4,431.2 295.6,432.8 292.6,434.2 C289.6,435.6 285.3,437.2 282.3,438.7 C279.2,440.2 277.5,444.3 274.5,443.2 C271.5,442.1 267.6,433.8 264.1,431.9 C260.7,430.1 256.8,432.6 253.8,432.4 C250.7,432.2 248.6,431.5 246.0,430.6 C243.4,429.7 240.8,428.4 238.2,427.0 C235.6,425.6 233.5,422.9 230.5,422.5 C227.4,422.1 223.6,423.6 220.1,424.3 C216.6,425.1 213.2,426.6 209.7,427.0 C206.3,427.4 203.3,427.4 199.4,427.0 C195.5,426.6 189.9,424.3 186.4,424.8 C183.0,425.2 181.7,427.8 178.7,429.7 C175.6,431.6 172.2,436.1 168.3,436.0 C164.4,435.9 159.2,431.2 155.3,428.8 C151.5,426.4 148.0,422.3 145.0,421.6 C142.0,420.8 140.2,423.4 137.2,424.3 C134.2,425.2 129.9,425.6 126.9,427.0 C123.8,428.4 122.1,430.6 119.1,432.4 C116.1,434.2 112.2,437.5 108.7,437.8 C105.3,438.1 101.8,435.4 98.4,434.2 C94.9,433.0 91.9,430.6 88.0,430.6 C84.1,430.6 78.9,433.0 75.1,434.2 C71.2,435.4 66.4,437.2 64.7,437.8 Z" fill="#cddcf0" fill-opacity="0.5"/>
<path d="M64.7,428.3 C66.4,427.8 71.2,425.9 75.1,424.8 C78.9,423.6 84.1,421.1 88.0,421.1 C91.9,421.1 94.9,423.6 98.4,424.8 C101.8,425.9 105.3,428.6 108.7,428.3 C112.2,428.0 116.1,424.8 119.1,422.9 C122.1,421.1 123.8,418.9 126.9,417.6 C129.9,416.2 134.2,415.8 137.2,414.8 C140.2,413.9 142.0,411.4 145.0,412.1 C148.0,412.9 151.5,416.9 155.3,419.3 C159.2,421.8 164.4,426.4 168.3,426.6 C172.2,426.7 175.6,422.1 178.7,420.2 C181.7,418.4 183.0,415.8 186.4,415.3 C189.9,414.9 195.5,417.2 199.4,417.6 C203.3,417.9 206.3,418.0 209.7,417.6 C213.2,417.1 216.6,415.6 220.1,414.8 C223.6,414.1 227.4,412.6 230.5,413.1 C233.5,413.5 235.6,416.2 238.2,417.6 C240.8,418.9 243.4,420.2 246.0,421.1 C248.6,422.0 250.7,422.7 253.8,422.9 C256.8,423.2 260.7,420.7 264.1,422.5 C267.6,424.3 271.5,432.6 274.5,433.8 C277.5,434.9 279.2,430.8 282.3,429.2 C285.3,427.8 289.6,426.1 292.6,424.8 C295.6,423.4 297.4,421.8 300.4,421.1 C303.4,420.5 306.9,421.1 310.8,421.1 C314.6,421.1 321.5,421.1 323.7,421.1 L323.7,429.2 C321.5,429.2 314.6,429.2 310.8,429.2 C306.9,429.2 303.4,428.6 300.4,429.2 C297.4,429.9 295.6,431.5 292.6,432.8 C289.6,434.2 285.3,435.8 282.3,437.3 C279.2,438.8 277.5,443.0 274.5,441.8 C271.5,440.7 267.6,432.4 264.1,430.6 C260.7,428.8 256.8,431.3 253.8,431.1 C250.7,430.8 248.6,430.1 246.0,429.2 C243.4,428.4 240.8,427.0 238.2,425.6 C235.6,424.3 233.5,421.6 230.5,421.1 C227.4,420.7 223.6,422.2 220.1,422.9 C216.6,423.7 213.2,425.2 209.7,425.6 C206.3,426.1 203.3,426.0 199.4,425.6 C195.5,425.3 189.9,422.9 186.4,423.4 C183.0,423.8 181.7,426.5 178.7,428.3 C175.6,430.2 172.2,434.8 168.3,434.6 C164.4,434.5 159.2,429.8 155.3,427.4 C151.5,425.1 148.0,421.0 145.0,420.2 C142.0,419.5 140.2,422.1 137.2,422.9 C134.2,423.8 129.9,424.3 126.9,425.6 C123.8,427.0 122.1,429.2 119.1,431.1 C116.1,432.9 112.2,436.1 108.7,436.4 C105.3,436.8 101.8,434.0 98.4,432.8 C94.9,431.6 91.9,429.2 88.0,429.2 C84.1,429.2 78.9,431.6 75.1,432.8 C71.2,434.0 66.4,435.8 64.7,436.4 Z" fill="#d8e2f4" fill-opacity="0.5"/>
<path d="M64.7,424.8 C66.4,424.1 71.2,422.3 75.1,421.1 C78.9,419.9 84.1,417.6 88.0,417.6 C91.9,417.6 94.9,419.9 98.4,421.1 C101.8,422.3 105.3,425.1 108.7,424.8 C112.2,424.4 116.1,421.1 119.1,419.3 C122.1,417.5 123.8,415.3 126.9,413.9 C129.9,412.6 134.2,412.1 137.2,411.2 C140.2,410.4 142.0,407.8 145.0,408.6 C148.0,409.3 151.5,413.4 155.3,415.8 C159.2,418.1 164.4,422.8 168.3,422.9 C172.2,423.1 175.6,418.5 178.7,416.6 C181.7,414.8 183.0,412.1 186.4,411.7 C189.9,411.2 195.5,413.6 199.4,413.9 C203.3,414.3 206.3,414.4 209.7,413.9 C213.2,413.5 216.6,412.0 220.1,411.2 C223.6,410.5 227.4,409.0 230.5,409.4 C233.5,409.9 235.6,412.6 238.2,413.9 C240.8,415.3 243.4,416.7 246.0,417.6 C248.6,418.4 250.7,419.1 253.8,419.3 C256.8,419.6 260.7,417.1 264.1,418.9 C267.6,420.7 271.5,429.0 274.5,430.1 C277.5,431.3 279.2,427.1 282.3,425.6 C285.3,424.1 289.6,422.5 292.6,421.1 C295.6,419.8 297.4,418.1 300.4,417.6 C303.4,417.0 306.9,417.6 310.8,417.6 C314.6,417.6 321.5,417.6 323.7,417.6 L323.7,425.6 C321.5,425.6 314.6,425.6 310.8,425.6 C306.9,425.6 303.4,425.0 300.4,425.6 C297.4,426.2 295.6,427.9 292.6,429.2 C289.6,430.6 285.3,432.2 282.3,433.8 C279.2,435.2 277.5,439.4 274.5,438.2 C271.5,437.1 267.6,428.8 264.1,427.0 C260.7,425.2 256.8,427.7 253.8,427.4 C250.7,427.2 248.6,426.5 246.0,425.6 C243.4,424.8 240.8,423.4 238.2,422.1 C235.6,420.7 233.5,418.0 230.5,417.6 C227.4,417.1 223.6,418.6 220.1,419.3 C216.6,420.1 213.2,421.6 209.7,422.1 C206.3,422.5 203.3,422.4 199.4,422.1 C195.5,421.7 189.9,419.4 186.4,419.8 C183.0,420.2 181.7,422.9 178.7,424.8 C175.6,426.6 172.2,431.2 168.3,431.1 C164.4,430.9 159.2,426.2 155.3,423.8 C151.5,421.4 148.0,417.4 145.0,416.6 C142.0,415.9 140.2,418.4 137.2,419.3 C134.2,420.2 129.9,420.7 126.9,422.1 C123.8,423.4 122.1,425.6 119.1,427.4 C116.1,429.2 112.2,432.5 108.7,432.8 C105.3,433.1 101.8,430.4 98.4,429.2 C94.9,428.1 91.9,425.6 88.0,425.6 C84.1,425.6 78.9,428.1 75.1,429.2 C71.2,430.4 66.4,432.2 64.7,432.8 Z" fill="#e6eef8" fill-opacity="0.5"/>
<path d="M64.7,435.6 C66.4,434.2 71.2,430.1 75.1,427.4 C78.9,424.8 84.1,419.9 88.0,419.3 C91.9,418.7 94.9,422.5 98.4,423.8 C101.8,425.2 105.3,427.6 108.7,427.4 C112.2,427.3 116.1,424.3 119.1,422.9 C122.1,421.6 123.8,420.8 126.9,419.3 C129.9,417.8 134.2,415.4 137.2,413.9 C140.2,412.4 142.0,410.2 145.0,410.3 C148.0,410.5 151.5,413.0 155.3,414.8 C159.2,416.6 164.4,421.0 168.3,421.1 C172.2,421.3 175.6,417.5 178.7,415.8 C181.7,414.0 183.0,411.7 186.4,410.8 C189.9,409.9 195.5,410.6 199.4,410.3 C203.3,410.1 206.3,409.9 209.7,409.4 C213.2,409.0 216.6,408.2 220.1,407.6 C223.6,407.0 227.4,404.9 230.5,405.8 C233.5,406.8 235.6,410.8 238.2,413.1 C240.8,415.3 243.4,418.6 246.0,419.3 C248.6,420.1 250.7,418.3 253.8,417.6 C256.8,416.8 260.7,413.9 264.1,414.8 C267.6,415.7 271.5,422.0 274.5,422.9 C277.5,423.9 279.2,421.2 282.3,420.2 C285.3,419.3 289.6,417.8 292.6,417.1 C295.6,416.3 297.4,416.3 300.4,415.8 C303.4,415.2 306.9,414.4 310.8,413.9 C314.6,413.5 321.5,413.2 323.7,413.1 L323.7,422.1 C321.5,422.2 314.6,422.5 310.8,422.9 C306.9,423.4 303.4,424.2 300.4,424.8 C297.4,425.3 295.6,425.3 292.6,426.1 C289.6,426.8 285.3,428.3 282.3,429.2 C279.2,430.2 277.5,432.9 274.5,431.9 C271.5,431.0 267.6,424.7 264.1,423.8 C260.7,422.9 256.8,425.8 253.8,426.6 C250.7,427.3 248.6,429.1 246.0,428.3 C243.4,427.6 240.8,424.3 238.2,422.1 C235.6,419.8 233.5,415.8 230.5,414.8 C227.4,413.9 223.6,416.0 220.1,416.6 C216.6,417.2 213.2,418.0 209.7,418.4 C206.3,418.9 203.3,419.1 199.4,419.3 C195.5,419.6 189.9,418.9 186.4,419.8 C183.0,420.7 181.7,423.0 178.7,424.8 C175.6,426.5 172.2,430.3 168.3,430.1 C164.4,430.0 159.2,425.6 155.3,423.8 C151.5,422.0 148.0,419.5 145.0,419.3 C142.0,419.2 140.2,421.4 137.2,422.9 C134.2,424.4 129.9,426.8 126.9,428.3 C123.8,429.8 122.1,430.6 119.1,431.9 C116.1,433.3 112.2,436.3 108.7,436.4 C105.3,436.6 101.8,434.2 98.4,432.8 C94.9,431.5 91.9,427.7 88.0,428.3 C84.1,428.9 78.9,433.8 75.1,436.4 C71.2,439.1 66.4,443.2 64.7,444.6 Z" fill="#f6dada" fill-opacity="0.5"/>
<path d="M64.7,432.4 C66.4,431.0 71.2,427.0 75.1,424.3 C78.9,421.6 84.1,416.8 88.0,416.2 C91.9,415.6 94.9,419.3 98.4,420.7 C101.8,422.1 105.3,424.4 108.7,424.3 C112.2,424.2 116.1,421.2 119.1,419.8 C122.1,418.4 123.8,417.7 126.9,416.2 C129.9,414.7 134.2,412.3 137.2,410.8 C140.2,409.3 142.0,407.1 145.0,407.2 C148.0,407.3 151.5,409.9 155.3,411.7 C159.2,413.5 164.4,417.9 168.3,418.0 C172.2,418.1 175.6,414.3 178.7,412.6 C181.7,410.9 183.0,408.5 186.4,407.6 C189.9,406.8 195.5,407.4 199.4,407.2 C203.3,407.0 206.3,406.8 209.7,406.3 C213.2,405.9 216.6,405.1 220.1,404.5 C223.6,403.9 227.4,401.8 230.5,402.7 C233.5,403.6 235.6,407.6 238.2,409.9 C240.8,412.1 243.4,415.4 246.0,416.2 C248.6,416.9 250.7,415.1 253.8,414.4 C256.8,413.6 260.7,410.8 264.1,411.7 C267.6,412.6 271.5,418.9 274.5,419.8 C277.5,420.7 279.2,418.1 282.3,417.1 C285.3,416.1 289.6,414.7 292.6,413.9 C295.6,413.2 297.4,413.1 300.4,412.6 C303.4,412.1 306.9,411.2 310.8,410.8 C314.6,410.4 321.5,410.0 323.7,409.9 L323.7,420.7 C321.5,420.8 314.6,421.1 310.8,421.6 C306.9,422.0 303.4,422.9 300.4,423.4 C297.4,423.9 295.6,424.0 292.6,424.8 C289.6,425.5 285.3,426.9 282.3,427.9 C279.2,428.9 277.5,431.5 274.5,430.6 C271.5,429.7 267.6,423.4 264.1,422.5 C260.7,421.6 256.8,424.4 253.8,425.2 C250.7,425.9 248.6,427.8 246.0,427.0 C243.4,426.2 240.8,422.9 238.2,420.7 C235.6,418.4 233.5,414.4 230.5,413.5 C227.4,412.6 223.6,414.7 220.1,415.3 C216.6,415.9 213.2,416.6 209.7,417.1 C206.3,417.5 203.3,417.8 199.4,418.0 C195.5,418.2 189.9,417.6 186.4,418.4 C183.0,419.3 181.7,421.7 178.7,423.4 C175.6,425.1 172.2,428.9 168.3,428.8 C164.4,428.7 159.2,424.3 155.3,422.5 C151.5,420.7 148.0,418.1 145.0,418.0 C142.0,417.9 140.2,420.1 137.2,421.6 C134.2,423.1 129.9,425.5 126.9,427.0 C123.8,428.5 122.1,429.2 119.1,430.6 C116.1,431.9 112.2,434.9 108.7,435.1 C105.3,435.2 101.8,432.9 98.4,431.5 C94.9,430.1 91.9,426.4 88.0,427.0 C84.1,427.6 78.9,432.4 75.1,435.1 C71.2,437.8 66.4,441.8 64.7,443.2 Z" fill="#f8e4cc" fill-opacity="0.5"/>
<path d="M64.7,430.6 C66.4,429.2 71.2,425.2 75.1,422.5 C78.9,419.8 84.1,415.0 88.0,414.4 C91.9,413.8 94.9,417.4 98.4,418.9 C101.8,420.4 105.3,423.4 108.7,423.4 C112.2,423.4 116.1,420.4 119.1,418.9 C122.1,417.4 123.8,416.0 126.9,414.4 C129.9,412.8 134.2,410.6 137.2,409.0 C140.2,407.4 142.0,404.4 145.0,404.5 C148.0,404.6 151.5,407.9 155.3,409.9 C159.2,411.8 164.4,415.9 168.3,416.2 C172.2,416.5 175.6,413.2 178.7,411.7 C181.7,410.2 183.0,407.3 186.4,407.2 C189.9,407.1 195.5,409.7 199.4,410.8 C203.3,411.9 206.3,413.8 209.7,413.9 C213.2,414.1 216.6,412.5 220.1,411.7 C223.6,410.9 227.4,409.0 230.5,409.0 C233.5,409.0 235.6,410.9 238.2,411.7 C240.8,412.5 243.4,414.2 246.0,413.9 C248.6,413.6 250.7,411.5 253.8,409.9 C256.8,408.3 260.7,403.8 264.1,404.5 C267.6,405.2 271.5,413.4 274.5,413.9 C277.5,414.5 279.2,410.1 282.3,408.1 C285.3,406.1 289.6,403.6 292.6,401.8 C295.6,400.0 297.4,398.4 300.4,397.3 C303.4,396.2 306.9,395.9 310.8,395.5 C314.6,395.1 321.5,394.8 323.7,394.6 L323.7,405.4 C321.5,405.5 314.6,405.9 310.8,406.3 C306.9,406.8 303.4,407.0 300.4,408.1 C297.4,409.1 295.6,410.8 292.6,412.6 C289.6,414.4 285.3,416.9 282.3,418.9 C279.2,420.9 277.5,425.4 274.5,424.8 C271.5,424.1 267.6,416.0 264.1,415.3 C260.7,414.6 256.8,419.1 253.8,420.7 C250.7,422.3 248.6,424.4 246.0,424.8 C243.4,425.1 240.8,423.3 238.2,422.5 C235.6,421.7 233.5,419.8 230.5,419.8 C227.4,419.8 223.6,421.7 220.1,422.5 C216.6,423.3 213.2,424.9 209.7,424.8 C206.3,424.6 203.3,422.7 199.4,421.6 C195.5,420.5 189.9,417.9 186.4,418.0 C183.0,418.1 181.7,421.0 178.7,422.5 C175.6,424.0 172.2,427.3 168.3,427.0 C164.4,426.7 159.2,422.6 155.3,420.7 C151.5,418.8 148.0,415.4 145.0,415.3 C142.0,415.2 140.2,418.2 137.2,419.8 C134.2,421.4 129.9,423.6 126.9,425.2 C123.8,426.8 122.1,428.2 119.1,429.7 C116.1,431.2 112.2,434.2 108.7,434.2 C105.3,434.2 101.8,431.2 98.4,429.7 C94.9,428.2 91.9,424.6 88.0,425.2 C84.1,425.8 78.9,430.6 75.1,433.3 C71.2,436.0 66.4,440.0 64.7,441.4 Z" fill="#f8dcc0" fill-opacity="0.5"/>
<path d="M64.7,433.3 C66.4,431.2 71.2,424.9 75.1,420.7 C78.9,416.5 84.1,409.1 88.0,408.1 C91.9,407.0 94.9,412.4 98.4,414.4 C101.8,416.3 105.3,419.8 108.7,419.8 C112.2,419.8 116.1,416.3 119.1,414.4 C122.1,412.4 123.8,411.2 126.9,408.1 C129.9,404.9 134.2,399.2 137.2,395.5 C140.2,391.8 142.0,386.5 145.0,385.6 C148.0,384.7 151.5,387.8 155.3,390.1 C159.2,392.3 164.4,399.4 168.3,399.1 C172.2,398.8 175.6,391.8 178.7,388.3 C181.7,384.9 183.0,379.6 186.4,378.4 C189.9,377.2 195.5,379.6 199.4,381.1 C203.3,382.6 206.3,387.1 209.7,387.4 C213.2,387.7 216.6,384.4 220.1,382.9 C223.6,381.4 227.4,378.5 230.5,378.4 C233.5,378.2 235.6,380.6 238.2,382.0 C240.8,383.4 243.4,386.1 246.0,386.5 C248.6,386.9 250.7,385.1 253.8,384.7 C256.8,384.2 260.7,381.4 264.1,383.8 C267.6,386.2 271.5,397.8 274.5,399.1 C277.5,400.4 279.2,393.6 282.3,391.9 C285.3,390.2 289.6,389.0 292.6,388.7 C295.6,388.3 297.4,389.9 300.4,389.6 C303.4,389.4 306.9,388.2 310.8,387.4 C314.6,386.6 321.5,385.1 323.7,384.7 L323.7,399.1 C321.5,399.5 314.6,401.0 310.8,401.8 C306.9,402.6 303.4,403.8 300.4,404.1 C297.4,404.3 295.6,402.7 292.6,403.1 C289.6,403.4 285.3,404.6 282.3,406.3 C279.2,408.0 277.5,414.9 274.5,413.5 C271.5,412.1 267.6,400.6 264.1,398.2 C260.7,395.8 256.8,398.6 253.8,399.1 C250.7,399.5 248.6,401.3 246.0,400.9 C243.4,400.4 240.8,397.8 238.2,396.4 C235.6,395.0 233.5,392.6 230.5,392.8 C227.4,393.0 223.6,395.8 220.1,397.3 C216.6,398.8 213.2,402.1 209.7,401.8 C206.3,401.5 203.3,397.0 199.4,395.5 C195.5,394.0 189.9,391.6 186.4,392.8 C183.0,394.0 181.7,399.2 178.7,402.7 C175.6,406.1 172.2,413.2 168.3,413.5 C164.4,413.8 159.2,406.8 155.3,404.5 C151.5,402.2 148.0,399.1 145.0,400.0 C142.0,400.9 140.2,406.1 137.2,409.9 C134.2,413.6 129.9,419.4 126.9,422.5 C123.8,425.6 122.1,426.9 119.1,428.8 C116.1,430.8 112.2,434.2 108.7,434.2 C105.3,434.2 101.8,430.8 98.4,428.8 C94.9,426.9 91.9,421.4 88.0,422.5 C84.1,423.6 78.9,430.9 75.1,435.1 C71.2,439.3 66.4,445.6 64.7,447.7 Z" fill="#f8d0bc" fill-opacity="0.5"/>
<path d="M64.7,436.0 C66.4,433.9 71.2,427.6 75.1,423.4 C78.9,419.2 84.1,412.0 88.0,410.8 C91.9,409.6 94.9,414.6 98.4,416.2 C101.8,417.8 105.3,420.8 108.7,420.7 C112.2,420.6 116.1,417.1 119.1,415.3 C122.1,413.5 123.8,412.0 126.9,409.9 C129.9,407.8 134.2,405.1 137.2,402.7 C140.2,400.3 142.0,396.1 145.0,395.5 C148.0,394.9 151.5,397.3 155.3,399.1 C159.2,400.9 164.4,406.9 168.3,406.3 C172.2,405.7 175.6,399.2 178.7,395.5 C181.7,391.8 183.0,385.3 186.4,383.8 C189.9,382.3 195.5,385.5 199.4,386.5 C203.3,387.5 206.3,390.1 209.7,389.6 C213.2,389.2 216.6,385.8 220.1,383.8 C223.6,381.8 227.4,377.9 230.5,377.5 C233.5,377.1 235.6,380.0 238.2,381.1 C240.8,382.1 243.4,382.9 246.0,383.8 C248.6,384.7 250.7,385.8 253.8,386.5 C256.8,387.2 260.7,387.8 264.1,388.3 C267.6,388.8 271.5,389.9 274.5,389.6 C277.5,389.3 279.2,386.6 282.3,386.5 C285.3,386.4 289.6,388.7 292.6,389.2 C295.6,389.7 297.4,391.3 300.4,389.6 C303.4,388.0 306.9,382.7 310.8,379.3 C314.6,375.9 321.5,371.0 323.7,369.4 L323.7,383.8 C321.5,385.4 314.6,390.3 310.8,393.7 C306.9,397.1 303.4,402.4 300.4,404.1 C297.4,405.7 295.6,404.1 292.6,403.6 C289.6,403.1 285.3,400.8 282.3,400.9 C279.2,401.0 277.5,403.8 274.5,404.1 C271.5,404.4 267.6,403.2 264.1,402.7 C260.7,402.2 256.8,401.6 253.8,400.9 C250.7,400.1 248.6,399.1 246.0,398.2 C243.4,397.3 240.8,396.6 238.2,395.5 C235.6,394.4 233.5,391.4 230.5,391.9 C227.4,392.3 223.6,396.2 220.1,398.2 C216.6,400.2 213.2,403.6 209.7,404.1 C206.3,404.5 203.3,401.9 199.4,400.9 C195.5,399.9 189.9,396.7 186.4,398.2 C183.0,399.7 181.7,406.1 178.7,409.9 C175.6,413.6 172.2,420.1 168.3,420.7 C164.4,421.3 159.2,415.3 155.3,413.5 C151.5,411.7 148.0,409.3 145.0,409.9 C142.0,410.5 140.2,414.7 137.2,417.1 C134.2,419.5 129.9,422.2 126.9,424.3 C123.8,426.4 122.1,427.9 119.1,429.7 C116.1,431.5 112.2,434.9 108.7,435.1 C105.3,435.2 101.8,432.2 98.4,430.6 C94.9,428.9 91.9,424.0 88.0,425.2 C84.1,426.4 78.9,433.6 75.1,437.8 C71.2,442.0 66.4,448.3 64.7,450.4 Z" fill="#f6cab4" fill-opacity="0.5"/>
<path d="M64.7,437.8 C66.4,437.6 71.2,437.3 75.1,436.9 C78.9,436.4 84.1,434.8 88.0,435.1 C91.9,435.4 94.9,437.2 98.4,438.7 C101.8,440.2 105.3,444.4 108.7,444.1 C112.2,443.8 116.1,439.0 119.1,436.9 C122.1,434.8 123.8,432.6 126.9,431.5 C129.9,430.4 134.2,430.8 137.2,430.6 C140.2,430.4 142.0,430.3 145.0,430.6 C148.0,430.9 151.5,429.4 155.3,432.4 C159.2,435.4 164.4,446.3 168.3,448.6 C172.2,450.8 175.6,446.6 178.7,445.9 C181.7,445.1 183.0,443.3 186.4,444.1 C189.9,444.8 195.5,448.4 199.4,450.4 C203.3,452.3 206.3,455.5 209.7,455.8 C213.2,456.1 216.6,453.2 220.1,452.2 C223.6,451.1 227.4,449.4 230.5,449.5 C233.5,449.6 235.6,452.0 238.2,453.1 C240.8,454.1 243.4,455.9 246.0,455.8 C248.6,455.7 250.7,453.4 253.8,452.2 C256.8,451.0 260.7,447.8 264.1,448.6 C267.6,449.3 271.5,456.5 274.5,456.7 C277.5,456.9 279.2,452.1 282.3,449.5 C285.3,446.9 289.6,443.2 292.6,441.4 C295.6,439.6 297.4,438.7 300.4,438.7 C303.4,438.7 306.9,439.6 310.8,441.4 C314.6,443.2 321.5,448.1 323.7,449.5" stroke="#7a6a92" stroke-width="0.75" fill="none"/>
<path d="M64.7,438.7 C66.4,438.2 71.2,436.9 75.1,436.0 C78.9,435.1 84.1,433.3 88.0,433.3 C91.9,433.3 94.9,434.9 98.4,436.0 C101.8,437.1 105.3,439.8 108.7,439.6 C112.2,439.4 116.1,436.7 119.1,435.1 C122.1,433.4 123.8,430.9 126.9,429.7 C129.9,428.5 134.2,428.5 137.2,427.9 C140.2,427.3 142.0,425.5 145.0,426.1 C148.0,426.7 151.5,429.4 155.3,431.5 C159.2,433.6 164.4,438.4 168.3,438.7 C172.2,439.0 175.6,434.9 178.7,433.3 C181.7,431.7 183.0,429.2 186.4,428.8 C189.9,428.4 195.5,429.8 199.4,430.6 C203.3,431.3 206.3,433.6 209.7,433.3 C213.2,433.0 216.6,430.0 220.1,428.8 C223.6,427.6 227.4,425.3 230.5,426.1 C233.5,426.8 235.6,431.1 238.2,433.3 C240.8,435.5 243.4,438.5 246.0,439.1 C248.6,439.8 250.7,437.4 253.8,436.9 C256.8,436.4 260.7,434.6 264.1,436.0 C267.6,437.4 271.5,444.6 274.5,445.0 C277.5,445.4 279.2,440.5 282.3,438.7 C285.3,436.9 289.6,435.1 292.6,434.2 C295.6,433.3 297.4,433.4 300.4,433.3 C303.4,433.2 306.9,433.3 310.8,433.3 C314.6,433.3 321.5,433.3 323.7,433.3" stroke="#9a7a9a" stroke-width="0.75" fill="none"/>
<path d="M64.7,435.1 C66.4,434.6 71.2,433.3 75.1,432.4 C78.9,431.5 84.1,429.7 88.0,429.7 C91.9,429.7 94.9,431.3 98.4,432.4 C101.8,433.4 105.3,436.1 108.7,436.0 C112.2,435.9 116.1,433.1 119.1,431.5 C122.1,429.9 123.8,427.3 126.9,426.1 C129.9,424.9 134.2,424.9 137.2,424.3 C140.2,423.7 142.0,421.9 145.0,422.5 C148.0,423.1 151.5,425.8 155.3,427.9 C159.2,430.0 164.4,434.8 168.3,435.1 C172.2,435.4 175.6,431.3 178.7,429.7 C181.7,428.1 183.0,425.6 186.4,425.2 C189.9,424.8 195.5,426.2 199.4,427.0 C203.3,427.8 206.3,430.0 209.7,429.7 C213.2,429.4 216.6,426.4 220.1,425.2 C223.6,424.0 227.4,421.8 230.5,422.5 C233.5,423.2 235.6,427.5 238.2,429.7 C240.8,431.9 243.4,434.9 246.0,435.6 C248.6,436.2 250.7,433.8 253.8,433.3 C256.8,432.8 260.7,431.0 264.1,432.4 C267.6,433.8 271.5,440.9 274.5,441.4 C277.5,441.8 279.2,436.9 282.3,435.1 C285.3,433.3 289.6,431.5 292.6,430.6 C295.6,429.7 297.4,429.8 300.4,429.7 C303.4,429.6 306.9,429.7 310.8,429.7 C314.6,429.7 321.5,429.7 323.7,429.7" stroke="#d4bce2" stroke-width="0.75" fill="none"/>
<path d="M64.7,434.2 C66.4,433.6 71.2,431.8 75.1,430.6 C78.9,429.4 84.1,427.0 88.0,427.0 C91.9,427.0 94.9,429.4 98.4,430.6 C101.8,431.8 105.3,434.5 108.7,434.2 C112.2,433.9 116.1,430.6 119.1,428.8 C122.1,427.0 123.8,424.8 126.9,423.4 C129.9,422.0 134.2,421.6 137.2,420.7 C140.2,419.8 142.0,417.2 145.0,418.0 C148.0,418.8 151.5,422.8 155.3,425.2 C159.2,427.6 164.4,432.2 168.3,432.4 C172.2,432.5 175.6,428.0 178.7,426.1 C181.7,424.2 183.0,421.6 186.4,421.1 C189.9,420.7 195.5,423.0 199.4,423.4 C203.3,423.8 206.3,423.8 209.7,423.4 C213.2,422.9 216.6,421.4 220.1,420.7 C223.6,419.9 227.4,418.4 230.5,418.9 C233.5,419.3 235.6,422.0 238.2,423.4 C240.8,424.8 243.4,426.1 246.0,427.0 C248.6,427.9 250.7,428.6 253.8,428.8 C256.8,429.0 260.7,426.5 264.1,428.3 C267.6,430.1 271.5,438.5 274.5,439.6 C277.5,440.7 279.2,436.6 282.3,435.1 C285.3,433.6 289.6,431.9 292.6,430.6 C295.6,429.2 297.4,427.6 300.4,427.0 C303.4,426.4 306.9,427.0 310.8,427.0 C314.6,427.0 321.5,427.0 323.7,427.0" stroke="#2f6fbf" stroke-width="0.75" fill="none"/>
<path d="M64.7,432.4 C66.4,431.8 71.2,430.0 75.1,428.8 C78.9,427.6 84.1,425.2 88.0,425.2 C91.9,425.2 94.9,427.6 98.4,428.8 C101.8,430.0 105.3,432.7 108.7,432.4 C112.2,432.1 116.1,428.8 119.1,427.0 C122.1,425.2 123.8,422.9 126.9,421.6 C129.9,420.2 134.2,419.8 137.2,418.9 C140.2,418.0 142.0,415.4 145.0,416.2 C148.0,416.9 151.5,421.0 155.3,423.4 C159.2,425.8 164.4,430.4 168.3,430.6 C172.2,430.8 175.6,426.2 178.7,424.3 C181.7,422.4 183.0,419.8 186.4,419.3 C189.9,418.9 195.5,421.2 199.4,421.6 C203.3,422.0 206.3,422.0 209.7,421.6 C213.2,421.1 216.6,419.6 220.1,418.9 C223.6,418.1 227.4,416.6 230.5,417.1 C233.5,417.5 235.6,420.2 238.2,421.6 C240.8,422.9 243.4,424.3 246.0,425.2 C248.6,426.1 250.7,426.8 253.8,427.0 C256.8,427.2 260.7,424.8 264.1,426.6 C267.6,428.4 271.5,436.7 274.5,437.8 C277.5,438.9 279.2,434.8 282.3,433.3 C285.3,431.8 289.6,430.2 292.6,428.8 C295.6,427.4 297.4,425.8 300.4,425.2 C303.4,424.6 306.9,425.2 310.8,425.2 C314.6,425.2 321.5,425.2 323.7,425.2" stroke="#8aa2d8" stroke-width="0.75" fill="none"/>
<path d="M64.7,428.8 C66.4,428.2 71.2,426.4 75.1,425.2 C78.9,424.0 84.1,421.6 88.0,421.6 C91.9,421.6 94.9,424.0 98.4,425.2 C101.8,426.4 105.3,429.1 108.7,428.8 C112.2,428.5 116.1,425.2 119.1,423.4 C122.1,421.6 123.8,419.4 126.9,418.0 C129.9,416.6 134.2,416.2 137.2,415.3 C140.2,414.4 142.0,411.8 145.0,412.6 C148.0,413.3 151.5,417.4 155.3,419.8 C159.2,422.2 164.4,426.9 168.3,427.0 C172.2,427.1 175.6,422.6 178.7,420.7 C181.7,418.8 183.0,416.2 186.4,415.8 C189.9,415.3 195.5,417.6 199.4,418.0 C203.3,418.4 206.3,418.4 209.7,418.0 C213.2,417.6 216.6,416.1 220.1,415.3 C223.6,414.6 227.4,413.1 230.5,413.5 C233.5,413.9 235.6,416.6 238.2,418.0 C240.8,419.4 243.4,420.7 246.0,421.6 C248.6,422.5 250.7,423.2 253.8,423.4 C256.8,423.6 260.7,421.1 264.1,422.9 C267.6,424.8 271.5,433.1 274.5,434.2 C277.5,435.3 279.2,431.2 282.3,429.7 C285.3,428.2 289.6,426.6 292.6,425.2 C295.6,423.8 297.4,422.2 300.4,421.6 C303.4,421.0 306.9,421.6 310.8,421.6 C314.6,421.6 321.5,421.6 323.7,421.6" stroke="#c4d6f0" stroke-width="0.75" fill="none"/>
<path d="M64.7,440.1 C66.4,438.7 71.2,434.6 75.1,431.9 C78.9,429.2 84.1,424.4 88.0,423.8 C91.9,423.2 94.9,427.0 98.4,428.3 C101.8,429.7 105.3,432.1 108.7,431.9 C112.2,431.8 116.1,428.8 119.1,427.4 C122.1,426.1 123.8,425.3 126.9,423.8 C129.9,422.3 134.2,419.9 137.2,418.4 C140.2,416.9 142.0,414.7 145.0,414.8 C148.0,415.0 151.5,417.5 155.3,419.3 C159.2,421.1 164.4,425.5 168.3,425.6 C172.2,425.8 175.6,422.0 178.7,420.2 C181.7,418.5 183.0,416.2 186.4,415.3 C189.9,414.4 195.5,415.1 199.4,414.8 C203.3,414.6 206.3,414.4 209.7,413.9 C213.2,413.5 216.6,412.8 220.1,412.1 C223.6,411.5 227.4,409.4 230.5,410.3 C233.5,411.2 235.6,415.3 238.2,417.6 C240.8,419.8 243.4,423.1 246.0,423.8 C248.6,424.6 250.7,422.8 253.8,422.1 C256.8,421.3 260.7,418.4 264.1,419.3 C267.6,420.2 271.5,426.5 274.5,427.4 C277.5,428.4 279.2,425.7 282.3,424.8 C285.3,423.8 289.6,422.3 292.6,421.6 C295.6,420.8 297.4,420.8 300.4,420.2 C303.4,419.7 306.9,418.9 310.8,418.4 C314.6,418.0 321.5,417.7 323.7,417.6" stroke="#d05a78" stroke-width="0.75" fill="none"/>
<path d="M64.7,437.8 C66.4,436.4 71.2,432.4 75.1,429.7 C78.9,427.0 84.1,422.2 88.0,421.6 C91.9,421.0 94.9,424.7 98.4,426.1 C101.8,427.4 105.3,429.8 108.7,429.7 C112.2,429.6 116.1,426.6 119.1,425.2 C122.1,423.8 123.8,423.1 126.9,421.6 C129.9,420.1 134.2,417.7 137.2,416.2 C140.2,414.7 142.0,412.4 145.0,412.6 C148.0,412.7 151.5,415.3 155.3,417.1 C159.2,418.9 164.4,423.2 168.3,423.4 C172.2,423.5 175.6,419.7 178.7,418.0 C181.7,416.3 183.0,414.0 186.4,413.1 C189.9,412.1 195.5,412.8 199.4,412.6 C203.3,412.4 206.3,412.1 209.7,411.7 C213.2,411.2 216.6,410.5 220.1,409.9 C223.6,409.3 227.4,407.2 230.5,408.1 C233.5,409.0 235.6,413.1 238.2,415.3 C240.8,417.6 243.4,420.8 246.0,421.6 C248.6,422.3 250.7,420.6 253.8,419.8 C256.8,419.1 260.7,416.2 264.1,417.1 C267.6,418.0 271.5,424.3 274.5,425.2 C277.5,426.1 279.2,423.5 282.3,422.5 C285.3,421.5 289.6,420.1 292.6,419.3 C295.6,418.6 297.4,418.5 300.4,418.0 C303.4,417.5 306.9,416.6 310.8,416.2 C314.6,415.8 321.5,415.4 323.7,415.3" stroke="#d8a270" stroke-width="0.75" fill="none"/>
<path d="M64.7,436.0 C66.4,434.6 71.2,430.6 75.1,427.9 C78.9,425.2 84.1,420.4 88.0,419.8 C91.9,419.2 94.9,422.8 98.4,424.3 C101.8,425.8 105.3,428.8 108.7,428.8 C112.2,428.8 116.1,425.8 119.1,424.3 C122.1,422.8 123.8,421.5 126.9,419.8 C129.9,418.1 134.2,416.0 137.2,414.4 C140.2,412.8 142.0,409.8 145.0,409.9 C148.0,410.0 151.5,413.4 155.3,415.3 C159.2,417.2 164.4,421.3 168.3,421.6 C172.2,421.9 175.6,418.6 178.7,417.1 C181.7,415.6 183.0,412.7 186.4,412.6 C189.9,412.4 195.5,415.1 199.4,416.2 C203.3,417.3 206.3,419.2 209.7,419.3 C213.2,419.5 216.6,417.9 220.1,417.1 C223.6,416.3 227.4,414.4 230.5,414.4 C233.5,414.4 235.6,416.3 238.2,417.1 C240.8,417.9 243.4,419.6 246.0,419.3 C248.6,419.0 250.7,416.9 253.8,415.3 C256.8,413.7 260.7,409.2 264.1,409.9 C267.6,410.6 271.5,418.7 274.5,419.3 C277.5,419.9 279.2,415.5 282.3,413.5 C285.3,411.5 289.6,409.0 292.6,407.2 C295.6,405.4 297.4,403.8 300.4,402.7 C303.4,401.6 306.9,401.3 310.8,400.9 C314.6,400.4 321.5,400.1 323.7,400.0" stroke="#e08c1c" stroke-width="0.75" fill="none"/>
<path d="M64.7,440.5 C66.4,438.4 71.2,432.1 75.1,427.9 C78.9,423.7 84.1,416.4 88.0,415.3 C91.9,414.2 94.9,419.6 98.4,421.6 C101.8,423.5 105.3,427.0 108.7,427.0 C112.2,427.0 116.1,423.5 119.1,421.6 C122.1,419.6 123.8,418.4 126.9,415.3 C129.9,412.2 134.2,406.4 137.2,402.7 C140.2,398.9 142.0,393.7 145.0,392.8 C148.0,391.9 151.5,395.1 155.3,397.3 C159.2,399.6 164.4,406.6 168.3,406.3 C172.2,406.0 175.6,398.9 178.7,395.5 C181.7,392.1 183.0,386.8 186.4,385.6 C189.9,384.4 195.5,386.8 199.4,388.3 C203.3,389.8 206.3,394.3 209.7,394.6 C213.2,394.9 216.6,391.6 220.1,390.1 C223.6,388.6 227.4,385.7 230.5,385.6 C233.5,385.4 235.6,387.8 238.2,389.2 C240.8,390.6 243.4,393.2 246.0,393.7 C248.6,394.1 250.7,392.3 253.8,391.9 C256.8,391.4 260.7,388.6 264.1,391.0 C267.6,393.4 271.5,405.0 274.5,406.3 C277.5,407.6 279.2,400.8 282.3,399.1 C285.3,397.4 289.6,396.2 292.6,395.9 C295.6,395.5 297.4,397.1 300.4,396.8 C303.4,396.6 306.9,395.4 310.8,394.6 C314.6,393.8 321.5,392.3 323.7,391.9" stroke="#ee6e50" stroke-width="0.75" fill="none"/>
<path d="M64.7,443.2 C66.4,441.1 71.2,434.8 75.1,430.6 C78.9,426.4 84.1,419.2 88.0,418.0 C91.9,416.8 94.9,421.8 98.4,423.4 C101.8,425.0 105.3,428.0 108.7,427.9 C112.2,427.8 116.1,424.3 119.1,422.5 C122.1,420.7 123.8,419.2 126.9,417.1 C129.9,415.0 134.2,412.3 137.2,409.9 C140.2,407.5 142.0,403.3 145.0,402.7 C148.0,402.1 151.5,404.5 155.3,406.3 C159.2,408.1 164.4,414.1 168.3,413.5 C172.2,412.9 175.6,406.4 178.7,402.7 C181.7,398.9 183.0,392.5 186.4,391.0 C189.9,389.5 195.5,392.7 199.4,393.7 C203.3,394.7 206.3,397.3 209.7,396.8 C213.2,396.4 216.6,393.0 220.1,391.0 C223.6,389.0 227.4,385.1 230.5,384.7 C233.5,384.2 235.6,387.2 238.2,388.3 C240.8,389.4 243.4,390.1 246.0,391.0 C248.6,391.9 250.7,392.9 253.8,393.7 C256.8,394.4 260.7,395.0 264.1,395.5 C267.6,396.0 271.5,397.1 274.5,396.8 C277.5,396.5 279.2,393.8 282.3,393.7 C285.3,393.6 289.6,395.9 292.6,396.4 C295.6,396.9 297.4,398.5 300.4,396.8 C303.4,395.2 306.9,389.9 310.8,386.5 C314.6,383.1 321.5,378.2 323.7,376.6" stroke="#cf5a18" stroke-width="0.75" fill="none"/>
<line x1="61.3" y1="429.7" x2="333" y2="429.7" stroke="#222" stroke-width="0.9" stroke-dasharray="3.2,2.2"/>
<path d="M61.3,362.3 V469 H333.9" stroke="#333" stroke-width="1.2" fill="none"/>
<line x1="58.7" y1="384.7" x2="61.3" y2="384.7" stroke="#333" stroke-width="0.8"/>
<text x="58.0" y="388.5" font-size="10.8" fill="#1a1a1a" text-anchor="end" letter-spacing="0.2">0.50</text>
<line x1="58.7" y1="407.2" x2="61.3" y2="407.2" stroke="#333" stroke-width="0.8"/>
<text x="58.0" y="411.0" font-size="10.8" fill="#1a1a1a" text-anchor="end" letter-spacing="0.2">0.25</text>
<line x1="58.7" y1="429.7" x2="61.3" y2="429.7" stroke="#333" stroke-width="0.8"/>
<text x="58.0" y="433.5" font-size="10.8" fill="#1a1a1a" text-anchor="end" letter-spacing="0.2">0.00</text>
<line x1="58.7" y1="452.2" x2="61.3" y2="452.2" stroke="#333" stroke-width="0.8"/>
<text x="58.0" y="456.0" font-size="10.8" fill="#1a1a1a" text-anchor="end" letter-spacing="0.2">-0.25</text>
<line x1="64.7" y1="469" x2="64.7" y2="471.6" stroke="#333" stroke-width="0.8"/>
<text x="64.7" y="481.2" font-size="10.2" fill="#1a1a1a" text-anchor="middle">0</text>
<line x1="116.5" y1="469" x2="116.5" y2="471.6" stroke="#333" stroke-width="0.8"/>
<text x="116.5" y="481.2" font-size="10.2" fill="#1a1a1a" text-anchor="middle">20</text>
<line x1="168.3" y1="469" x2="168.3" y2="471.6" stroke="#333" stroke-width="0.8"/>
<text x="168.3" y="481.2" font-size="10.2" fill="#1a1a1a" text-anchor="middle">40</text>
<line x1="220.1" y1="469" x2="220.1" y2="471.6" stroke="#333" stroke-width="0.8"/>
<text x="220.1" y="481.2" font-size="10.2" fill="#1a1a1a" text-anchor="middle">60</text>
<line x1="271.9" y1="469" x2="271.9" y2="471.6" stroke="#333" stroke-width="0.8"/>
<text x="271.9" y="481.2" font-size="10.2" fill="#1a1a1a" text-anchor="middle">80</text>
<line x1="323.7" y1="469" x2="323.7" y2="471.6" stroke="#333" stroke-width="0.8"/>
<text x="323.7" y="481.2" font-size="10.2" fill="#1a1a1a" text-anchor="middle">100</text>
<text x="201.0" y="489.5" font-size="10.5" fill="#1a1a1a" text-anchor="middle">Days</text>
<text x="16.6" y="416.6" font-size="11" fill="#111" text-anchor="middle" transform="rotate(-90 16.6 416.6)">Enrichment ratio<tspan font-size="6.5" dy="1.5">copies</tspan></text>
<text x="28.8" y="416.6" font-size="11" fill="#111" text-anchor="middle" transform="rotate(-90 28.8 416.6)">of genes (log<tspan font-size="6.8" dy="1.5">10</tspan><tspan dy="-1.5">)</tspan></text>
<text x="324.9" y="361.7" font-size="8.6" fill="#111">Genes</text>
<text x="341.9" y="369.1" font-size="7.6" fill="#cc5514" font-style="italic" text-anchor="end">aioA</text>
<text x="341.9" y="377.7" font-size="7.6" fill="#ee6e50" font-style="italic" text-anchor="end">arxA</text>
<text x="341.9" y="385.7" font-size="7.6" fill="#e08c1c" font-style="italic" text-anchor="end">arxS</text>
<text x="341.9" y="395.0" font-size="7.6" fill="#c89a6a" font-style="italic" text-anchor="end">aioB</text>
<text x="341.9" y="403.8" font-size="7.6" fill="#d05a78" font-style="italic" text-anchor="end">arsH</text>
<text x="341.9" y="413.9" font-size="7.6" fill="#c4d6f0" font-style="italic" text-anchor="end">arsJ</text>
<text x="341.9" y="422.6" font-size="7.6" fill="#8aa2d8" font-style="italic" text-anchor="end">arsB</text>
<text x="345.1" y="431.6" font-size="8.4" fill="#2a6ab4" font-style="italic" text-anchor="end">ACR3</text>
<text x="341.9" y="439.9" font-size="7.6" fill="#d4bce2" font-style="italic" text-anchor="end">arsC</text>
<text x="341.9" y="450.3" font-size="7.6" fill="#8a6a8a" font-style="italic" text-anchor="end">arrA</text>
<text x="341.9" y="460.7" font-size="7.6" fill="#7a7092" font-style="italic" text-anchor="end">arrB</text>
<line x1="347" y1="370.2" x2="347" y2="399.8" stroke="#f2c27a" stroke-width="0.8"/>
<line x1="347" y1="407" x2="347" y2="426.3" stroke="#4a90d8" stroke-width="0.8"/>
<line x1="347" y1="434.3" x2="347" y2="464.7" stroke="#a4aae0" stroke-width="0.8"/>
<text x="349.6" y="385.0" font-size="7.2" fill="#eaa860" text-anchor="middle" transform="rotate(90 349.6 385)">Oxidation</text>
<text x="349.6" y="416.7" font-size="7.2" fill="#4a90d8" text-anchor="middle" transform="rotate(90 349.6 416.7)">Efflux</text>
<text x="349.6" y="449.5" font-size="7.2" fill="#a0a6dc" text-anchor="middle" transform="rotate(90 349.6 449.5)">Reduction</text>
<text x="1.5" y="501.5" font-size="19.5" fill="#000" font-weight="bold">d</text>
<rect x="63.3" y="505.4" width="279.7" height="11.4" fill="#fdf3e1"/>
<rect x="63.3" y="600.4" width="279.7" height="11.4" fill="#f3f1fc"/>
<text x="209.5" y="514.7" font-size="11.4" fill="#222" text-anchor="middle">As oxidation</text>
<text x="212.0" y="609.9" font-size="11.4" fill="#222" text-anchor="middle">As reduction</text>
<rect x="66.5" y="520" width="25.6" height="76.2" fill="#f2f2f2"/>
<rect x="141.3" y="520" width="49.2" height="76.2" fill="#f2f2f2"/>
<rect x="239.7" y="520" width="49.2" height="76.2" fill="#f2f2f2"/>
<rect x="66.5" y="614.8" width="25.6" height="76.5" fill="#f2f2f2"/>
<rect x="141.3" y="614.8" width="49.2" height="76.5" fill="#f2f2f2"/>
<rect x="239.7" y="614.8" width="49.2" height="76.5" fill="#f2f2f2"/>
<path d="M67.5,567.9 C69.5,566.1 75.7,560.6 79.8,557.5 C83.9,554.4 88.0,551.8 92.1,549.5 C96.2,547.2 100.3,545.0 104.4,543.7 C108.5,542.4 112.6,542.0 116.7,541.4 C120.8,540.8 124.9,540.8 129.0,540.2 C133.1,539.7 137.2,538.7 141.3,538.0 C145.4,537.2 149.5,536.5 153.6,535.7 C157.7,534.8 161.8,533.1 165.9,532.8 C170.0,532.5 174.1,533.1 178.2,533.9 C182.3,534.8 186.4,536.5 190.5,538.0 C194.6,539.4 198.7,541.0 202.8,542.5 C206.9,544.1 211.0,546.4 215.1,547.1 C219.2,547.9 223.3,547.3 227.4,547.1 C231.5,547.0 235.6,546.4 239.7,546.0 C243.8,545.6 247.9,545.1 252.0,544.9 C256.1,544.6 260.2,544.1 264.3,544.3 C268.4,544.5 272.5,545.1 276.6,546.0 C280.7,546.9 284.8,548.5 288.9,549.5 C293.0,550.4 297.1,551.1 301.2,551.8 C305.3,552.4 311.4,553.2 313.5,553.5 L313.5,565.0 C311.4,564.7 305.3,563.9 301.2,563.2 C297.1,562.6 293.0,561.9 288.9,561.0 C284.8,560.0 280.7,558.4 276.6,557.5 C272.5,556.6 268.4,556.0 264.3,555.8 C260.2,555.6 256.1,556.1 252.0,556.4 C247.9,556.6 243.8,557.1 239.7,557.5 C235.6,557.9 231.5,558.5 227.4,558.6 C223.3,558.8 219.2,559.4 215.1,558.6 C211.0,557.9 206.9,555.6 202.8,554.0 C198.7,552.5 194.6,550.9 190.5,549.4 C186.4,548.0 182.3,546.3 178.2,545.4 C174.1,544.6 170.0,544.0 165.9,544.3 C161.8,544.6 157.7,546.3 153.6,547.1 C149.5,548.0 145.4,548.7 141.3,549.4 C137.2,550.2 133.1,551.2 129.0,551.8 C124.9,552.3 120.8,552.3 116.7,552.9 C112.6,553.5 108.5,553.9 104.4,555.2 C100.3,556.5 96.2,558.7 92.1,561.0 C88.0,563.2 83.9,565.9 79.8,569.0 C75.7,572.1 69.5,577.6 67.5,579.3 Z" fill="#d8d8d8" fill-opacity="0.55"/>
<path d="M67.5,561.5 C69.5,560.2 75.7,555.6 79.8,553.5 C83.9,551.4 88.0,549.8 92.1,548.9 C96.2,547.9 100.3,547.1 104.4,547.7 C108.5,548.3 112.6,550.6 116.7,552.3 C120.8,554.1 124.9,556.0 129.0,558.1 C133.1,560.2 137.2,563.4 141.3,565.0 C145.4,566.5 149.5,566.7 153.6,567.3 C157.7,567.8 161.8,567.5 165.9,568.4 C170.0,569.4 174.1,571.5 178.2,573.0 C182.3,574.6 186.4,576.3 190.5,577.6 C194.6,579.0 198.7,580.6 202.8,581.1 C206.9,581.6 211.0,581.3 215.1,580.5 C219.2,579.7 223.3,577.7 227.4,576.5 C231.5,575.2 235.6,574.2 239.7,573.0 C243.8,571.9 247.9,570.3 252.0,569.6 C256.1,568.8 260.2,568.3 264.3,568.4 C268.4,568.5 272.5,569.6 276.6,570.2 C280.7,570.7 284.8,571.6 288.9,571.9 C293.0,572.2 297.1,571.9 301.2,571.9 C305.3,571.9 311.4,571.9 313.5,571.9 L313.5,582.2 C311.4,582.2 305.3,582.2 301.2,582.2 C297.1,582.2 293.0,582.5 288.9,582.2 C284.8,581.9 280.7,581.1 276.6,580.5 C272.5,579.9 268.4,578.9 264.3,578.8 C260.2,578.7 256.1,579.2 252.0,579.9 C247.9,580.7 243.8,582.2 239.7,583.4 C235.6,584.5 231.5,585.6 227.4,586.8 C223.3,588.1 219.2,590.1 215.1,590.9 C211.0,591.6 206.9,591.9 202.8,591.4 C198.7,590.9 194.6,589.3 190.5,588.0 C186.4,586.6 182.3,584.9 178.2,583.4 C174.1,581.8 170.0,579.7 165.9,578.8 C161.8,577.8 157.7,578.2 153.6,577.6 C149.5,577.0 145.4,576.9 141.3,575.3 C137.2,573.8 133.1,570.5 129.0,568.4 C124.9,566.3 120.8,564.4 116.7,562.7 C112.6,560.9 108.5,558.6 104.4,558.1 C100.3,557.5 96.2,558.3 92.1,559.2 C88.0,560.2 83.9,561.7 79.8,563.8 C75.7,565.9 69.5,570.5 67.5,571.9 Z" fill="#d8d8d8" fill-opacity="0.55"/>
<path d="M67.5,674.6 C69.5,673.5 75.7,670.7 79.8,668.3 C83.9,665.9 88.0,662.5 92.1,660.1 C96.2,657.7 100.3,655.6 104.4,653.8 C108.5,652.0 112.6,650.6 116.7,649.3 C120.8,647.9 124.9,646.7 129.0,645.7 C133.1,644.6 137.2,644.0 141.3,643.0 C145.4,641.9 149.5,640.2 153.6,639.3 C157.7,638.4 161.8,637.4 165.9,637.5 C170.0,637.7 174.1,638.6 178.2,640.2 C182.3,641.9 186.4,645.2 190.5,647.5 C194.6,649.7 198.7,652.1 202.8,653.8 C206.9,655.5 211.0,657.0 215.1,657.4 C219.2,657.9 223.3,656.8 227.4,656.5 C231.5,656.2 235.6,656.1 239.7,655.6 C243.8,655.2 247.9,654.3 252.0,653.8 C256.1,653.4 260.2,653.0 264.3,652.9 C268.4,652.8 272.5,653.2 276.6,653.4 C280.7,653.5 284.8,653.7 288.9,653.8 C293.0,654.0 297.1,654.1 301.2,654.3 C305.3,654.4 311.4,654.6 313.5,654.7 L313.5,662.8 C311.4,662.8 305.3,662.5 301.2,662.4 C297.1,662.2 293.0,662.1 288.9,661.9 C284.8,661.8 280.7,661.6 276.6,661.5 C272.5,661.3 268.4,661.0 264.3,661.0 C260.2,661.1 256.1,661.5 252.0,661.9 C247.9,662.4 243.8,663.3 239.7,663.7 C235.6,664.2 231.5,664.4 227.4,664.7 C223.3,665.0 219.2,666.0 215.1,665.6 C211.0,665.1 206.9,663.6 202.8,661.9 C198.7,660.3 194.6,657.9 190.5,655.6 C186.4,653.4 182.3,650.0 178.2,648.4 C174.1,646.7 170.0,645.8 165.9,645.7 C161.8,645.5 157.7,646.6 153.6,647.5 C149.5,648.4 145.4,650.0 141.3,651.1 C137.2,652.1 133.1,652.7 129.0,653.8 C124.9,654.9 120.8,656.1 116.7,657.4 C112.6,658.8 108.5,660.1 104.4,661.9 C100.3,663.7 96.2,665.9 92.1,668.3 C88.0,670.7 83.9,674.0 79.8,676.4 C75.7,678.8 69.5,681.7 67.5,682.7 Z" fill="#d8d8d8" fill-opacity="0.55"/>
<path d="M67.5,663.3 C69.5,661.0 75.7,653.2 79.8,649.7 C83.9,646.3 88.0,644.2 92.1,642.5 C96.2,640.8 100.3,639.6 104.4,639.3 C108.5,639.0 112.6,639.7 116.7,640.7 C120.8,641.7 124.9,643.7 129.0,645.2 C133.1,646.7 137.2,648.4 141.3,649.7 C145.4,651.1 149.5,652.3 153.6,653.4 C157.7,654.4 161.8,655.3 165.9,656.1 C170.0,656.8 174.1,657.3 178.2,657.9 C182.3,658.5 186.4,659.2 190.5,659.7 C194.6,660.1 198.7,660.7 202.8,660.6 C206.9,660.4 211.0,659.4 215.1,658.8 C219.2,658.2 223.3,657.7 227.4,657.0 C231.5,656.2 235.6,655.0 239.7,654.3 C243.8,653.5 247.9,653.1 252.0,652.4 C256.1,651.8 260.2,650.8 264.3,650.6 C268.4,650.5 272.5,651.1 276.6,651.5 C280.7,652.0 284.8,653.0 288.9,653.4 C293.0,653.7 297.1,653.7 301.2,653.8 C305.3,654.0 311.4,654.2 313.5,654.3 L313.5,661.5 C311.4,661.4 305.3,661.2 301.2,661.0 C297.1,660.9 293.0,661.0 288.9,660.6 C284.8,660.2 280.7,659.2 276.6,658.8 C272.5,658.3 268.4,657.7 264.3,657.9 C260.2,658.0 256.1,659.1 252.0,659.7 C247.9,660.3 243.8,660.7 239.7,661.5 C235.6,662.2 231.5,663.4 227.4,664.2 C223.3,665.0 219.2,665.4 215.1,666.0 C211.0,666.6 206.9,667.7 202.8,667.8 C198.7,668.0 194.6,667.4 190.5,666.9 C186.4,666.5 182.3,665.7 178.2,665.1 C174.1,664.5 170.0,664.0 165.9,663.3 C161.8,662.5 157.7,661.6 153.6,660.6 C149.5,659.5 145.4,658.3 141.3,657.0 C137.2,655.6 133.1,654.0 129.0,652.4 C124.9,650.9 120.8,648.9 116.7,647.9 C112.6,646.9 108.5,646.3 104.4,646.6 C100.3,646.9 96.2,648.0 92.1,649.7 C88.0,651.5 83.9,653.5 79.8,657.0 C75.7,660.4 69.5,668.3 67.5,670.5 Z" fill="#d8d8d8" fill-opacity="0.55"/>
<g fill="#f0bfb6" fill-opacity="0.75"><circle cx="275.0" cy="549.6" r="1.5"/><circle cx="128.4" cy="543.3" r="1.5"/><circle cx="147.8" cy="545.9" r="1.5"/><circle cx="148.2" cy="542.9" r="1.5"/><circle cx="114.1" cy="538.5" r="1.5"/><circle cx="92.5" cy="556.4" r="1.5"/><circle cx="304.2" cy="553.4" r="1.5"/><circle cx="309.5" cy="555.3" r="1.5"/><circle cx="263.0" cy="550.7" r="1.5"/><circle cx="115.8" cy="553.4" r="1.5"/><circle cx="224.4" cy="549.8" r="1.5"/><circle cx="163.0" cy="536.8" r="1.5"/><circle cx="75.8" cy="574.8" r="1.5"/><circle cx="238.1" cy="545.9" r="1.5"/><circle cx="190.6" cy="548.1" r="1.5"/><circle cx="102.4" cy="555.1" r="1.5"/><circle cx="216.0" cy="560.7" r="1.5"/><circle cx="290.9" cy="550.2" r="1.5"/><circle cx="173.3" cy="547.8" r="1.5"/><circle cx="171.1" cy="543.3" r="1.5"/><circle cx="123.7" cy="548.5" r="1.5"/><circle cx="257.9" cy="562.0" r="1.5"/><circle cx="239.7" cy="546.5" r="1.5"/><circle cx="225.3" cy="559.8" r="1.5"/><circle cx="179.2" cy="543.1" r="1.5"/><circle cx="91.6" cy="548.1" r="1.5"/><circle cx="170.7" cy="537.1" r="1.5"/><circle cx="222.4" cy="561.8" r="1.5"/><circle cx="129.0" cy="551.6" r="1.5"/><circle cx="220.4" cy="550.0" r="1.5"/><circle cx="168.2" cy="544.7" r="1.5"/><circle cx="112.5" cy="559.8" r="1.5"/><circle cx="228.5" cy="551.8" r="1.5"/><circle cx="188.0" cy="548.5" r="1.5"/><circle cx="307.3" cy="551.4" r="1.5"/><circle cx="107.1" cy="547.2" r="1.5"/><circle cx="259.8" cy="543.8" r="1.5"/><circle cx="92.4" cy="557.6" r="1.5"/><circle cx="208.8" cy="559.4" r="1.5"/><circle cx="193.5" cy="547.2" r="1.5"/><circle cx="224.8" cy="549.6" r="1.5"/><circle cx="168.4" cy="544.9" r="1.5"/><circle cx="300.7" cy="555.2" r="1.5"/><circle cx="164.1" cy="530.5" r="1.5"/><circle cx="255.1" cy="538.5" r="1.5"/><circle cx="154.9" cy="529.5" r="1.5"/><circle cx="81.4" cy="563.1" r="1.5"/><circle cx="70.8" cy="565.1" r="1.5"/></g>
<g fill="#bcd2ec" fill-opacity="0.75"><circle cx="170.5" cy="583.1" r="1.5"/><circle cx="154.1" cy="568.2" r="1.5"/><circle cx="132.7" cy="563.8" r="1.5"/><circle cx="298.7" cy="567.7" r="1.5"/><circle cx="197.2" cy="582.7" r="1.5"/><circle cx="163.9" cy="563.3" r="1.5"/><circle cx="119.7" cy="552.0" r="1.5"/><circle cx="266.7" cy="566.7" r="1.5"/><circle cx="223.5" cy="590.2" r="1.5"/><circle cx="123.1" cy="559.1" r="1.5"/><circle cx="304.6" cy="582.0" r="1.5"/><circle cx="268.9" cy="567.7" r="1.5"/><circle cx="268.3" cy="578.9" r="1.5"/><circle cx="202.4" cy="585.2" r="1.5"/><circle cx="98.3" cy="550.8" r="1.5"/><circle cx="276.8" cy="580.0" r="1.5"/><circle cx="133.3" cy="568.8" r="1.5"/><circle cx="172.3" cy="572.9" r="1.5"/><circle cx="113.2" cy="547.0" r="1.5"/><circle cx="136.7" cy="567.4" r="1.5"/><circle cx="127.8" cy="564.8" r="1.5"/><circle cx="172.9" cy="570.0" r="1.5"/><circle cx="224.3" cy="585.6" r="1.5"/><circle cx="296.0" cy="581.6" r="1.5"/><circle cx="277.7" cy="565.4" r="1.5"/><circle cx="290.3" cy="573.3" r="1.5"/><circle cx="260.4" cy="567.1" r="1.5"/><circle cx="223.3" cy="574.6" r="1.5"/><circle cx="71.2" cy="550.2" r="1.5"/><circle cx="228.9" cy="580.2" r="1.5"/><circle cx="129.0" cy="560.7" r="1.5"/><circle cx="125.0" cy="559.5" r="1.5"/><circle cx="258.5" cy="576.0" r="1.5"/><circle cx="289.9" cy="574.3" r="1.5"/><circle cx="262.3" cy="567.8" r="1.5"/><circle cx="217.2" cy="574.5" r="1.5"/><circle cx="259.7" cy="580.0" r="1.5"/><circle cx="261.4" cy="584.5" r="1.5"/><circle cx="273.8" cy="572.1" r="1.5"/><circle cx="198.1" cy="576.6" r="1.5"/><circle cx="250.0" cy="586.3" r="1.5"/><circle cx="204.0" cy="581.7" r="1.5"/><circle cx="132.6" cy="564.9" r="1.5"/><circle cx="188.8" cy="579.0" r="1.5"/><circle cx="81.9" cy="561.0" r="1.5"/><circle cx="188.4" cy="581.3" r="1.5"/><circle cx="190.1" cy="593.7" r="1.5"/><circle cx="69.1" cy="568.5" r="1.5"/></g>
<g fill="#f0bfb6" fill-opacity="0.75"><circle cx="274.3" cy="663.0" r="1.5"/><circle cx="231.2" cy="659.1" r="1.5"/><circle cx="274.3" cy="660.7" r="1.5"/><circle cx="303.8" cy="655.1" r="1.5"/><circle cx="86.0" cy="672.4" r="1.5"/><circle cx="74.5" cy="679.9" r="1.5"/><circle cx="217.5" cy="665.6" r="1.5"/><circle cx="148.8" cy="654.4" r="1.5"/><circle cx="309.0" cy="663.8" r="1.5"/><circle cx="288.3" cy="658.2" r="1.5"/><circle cx="75.8" cy="675.6" r="1.5"/><circle cx="150.8" cy="650.4" r="1.5"/><circle cx="279.5" cy="660.9" r="1.5"/><circle cx="196.8" cy="651.0" r="1.5"/><circle cx="257.1" cy="656.3" r="1.5"/><circle cx="171.4" cy="638.1" r="1.5"/><circle cx="203.8" cy="656.4" r="1.5"/><circle cx="271.1" cy="660.6" r="1.5"/><circle cx="166.8" cy="645.4" r="1.5"/><circle cx="192.1" cy="652.4" r="1.5"/><circle cx="307.3" cy="663.1" r="1.5"/><circle cx="148.9" cy="651.4" r="1.5"/><circle cx="145.5" cy="647.6" r="1.5"/><circle cx="223.7" cy="655.1" r="1.5"/><circle cx="260.4" cy="650.2" r="1.5"/><circle cx="285.4" cy="655.9" r="1.5"/><circle cx="201.7" cy="653.7" r="1.5"/><circle cx="69.0" cy="676.7" r="1.5"/><circle cx="114.2" cy="648.8" r="1.5"/><circle cx="229.4" cy="663.4" r="1.5"/><circle cx="261.6" cy="651.9" r="1.5"/><circle cx="219.2" cy="664.5" r="1.5"/><circle cx="221.7" cy="663.0" r="1.5"/><circle cx="235.0" cy="665.8" r="1.5"/><circle cx="119.8" cy="654.9" r="1.5"/><circle cx="255.1" cy="662.0" r="1.5"/><circle cx="92.4" cy="663.5" r="1.5"/><circle cx="258.0" cy="656.3" r="1.5"/><circle cx="292.4" cy="660.4" r="1.5"/><circle cx="269.9" cy="660.8" r="1.5"/><circle cx="261.0" cy="660.4" r="1.5"/><circle cx="141.8" cy="648.2" r="1.5"/><circle cx="171.3" cy="644.8" r="1.5"/><circle cx="225.4" cy="656.4" r="1.5"/><circle cx="297.2" cy="652.7" r="1.5"/><circle cx="77.2" cy="671.7" r="1.5"/><circle cx="96.7" cy="659.6" r="1.5"/><circle cx="293.5" cy="663.5" r="1.5"/></g>
<g fill="#bcd2ec" fill-opacity="0.75"><circle cx="177.3" cy="656.9" r="1.5"/><circle cx="213.1" cy="662.3" r="1.5"/><circle cx="298.2" cy="652.2" r="1.5"/><circle cx="169.0" cy="660.7" r="1.5"/><circle cx="92.6" cy="647.9" r="1.5"/><circle cx="104.8" cy="645.5" r="1.5"/><circle cx="71.3" cy="655.8" r="1.5"/><circle cx="97.4" cy="644.5" r="1.5"/><circle cx="305.2" cy="649.8" r="1.5"/><circle cx="99.2" cy="639.5" r="1.5"/><circle cx="71.9" cy="662.7" r="1.5"/><circle cx="248.0" cy="660.0" r="1.5"/><circle cx="113.6" cy="636.6" r="1.5"/><circle cx="243.0" cy="655.0" r="1.5"/><circle cx="278.0" cy="655.6" r="1.5"/><circle cx="222.1" cy="663.2" r="1.5"/><circle cx="242.0" cy="667.7" r="1.5"/><circle cx="130.0" cy="646.6" r="1.5"/><circle cx="304.7" cy="657.7" r="1.5"/><circle cx="71.1" cy="663.6" r="1.5"/><circle cx="227.6" cy="659.8" r="1.5"/><circle cx="144.0" cy="655.8" r="1.5"/><circle cx="246.9" cy="652.3" r="1.5"/><circle cx="187.1" cy="655.0" r="1.5"/><circle cx="82.2" cy="655.9" r="1.5"/><circle cx="175.4" cy="656.7" r="1.5"/><circle cx="234.0" cy="654.2" r="1.5"/><circle cx="156.9" cy="651.3" r="1.5"/><circle cx="226.1" cy="664.0" r="1.5"/><circle cx="162.4" cy="662.3" r="1.5"/><circle cx="260.9" cy="647.3" r="1.5"/><circle cx="206.9" cy="666.3" r="1.5"/><circle cx="139.4" cy="641.3" r="1.5"/><circle cx="240.5" cy="653.2" r="1.5"/><circle cx="271.0" cy="657.8" r="1.5"/><circle cx="308.0" cy="652.3" r="1.5"/><circle cx="272.0" cy="657.9" r="1.5"/><circle cx="172.9" cy="663.0" r="1.5"/><circle cx="286.0" cy="661.4" r="1.5"/><circle cx="215.5" cy="657.5" r="1.5"/><circle cx="287.9" cy="655.5" r="1.5"/><circle cx="67.9" cy="669.9" r="1.5"/><circle cx="132.2" cy="655.3" r="1.5"/><circle cx="268.2" cy="651.7" r="1.5"/><circle cx="285.8" cy="648.3" r="1.5"/><circle cx="267.2" cy="652.2" r="1.5"/><circle cx="280.8" cy="659.0" r="1.5"/><circle cx="276.9" cy="656.8" r="1.5"/></g>
<path d="M67.5,573.6 C69.5,571.9 75.7,566.3 79.8,563.2 C83.9,560.2 88.0,557.5 92.1,555.2 C96.2,552.9 100.3,550.8 104.4,549.4 C108.5,548.1 112.6,547.7 116.7,547.1 C120.8,546.6 124.9,546.6 129.0,546.0 C133.1,545.4 137.2,544.5 141.3,543.7 C145.4,542.9 149.5,542.3 153.6,541.4 C157.7,540.5 161.8,538.8 165.9,538.5 C170.0,538.2 174.1,538.8 178.2,539.7 C182.3,540.5 186.4,542.3 190.5,543.7 C194.6,545.1 198.7,546.8 202.8,548.3 C206.9,549.8 211.0,552.1 215.1,552.9 C219.2,553.7 223.3,553.1 227.4,552.9 C231.5,552.7 235.6,552.1 239.7,551.8 C243.8,551.4 247.9,550.9 252.0,550.6 C256.1,550.3 260.2,549.8 264.3,550.0 C268.4,550.2 272.5,550.9 276.6,551.8 C280.7,552.6 284.8,554.2 288.9,555.2 C293.0,556.2 297.1,556.8 301.2,557.5 C305.3,558.2 311.4,558.9 313.5,559.2" stroke="#c9503a" stroke-width="1.6" fill="none" stroke-dasharray="4.5,3"/>
<path d="M67.5,566.7 C69.5,565.4 75.7,560.8 79.8,558.6 C83.9,556.5 88.0,555.0 92.1,554.0 C96.2,553.1 100.3,552.3 104.4,552.9 C108.5,553.5 112.6,555.8 116.7,557.5 C120.8,559.2 124.9,561.1 129.0,563.2 C133.1,565.4 137.2,568.6 141.3,570.2 C145.4,571.7 149.5,571.9 153.6,572.4 C157.7,573.0 161.8,572.6 165.9,573.6 C170.0,574.6 174.1,576.7 178.2,578.2 C182.3,579.7 186.4,581.5 190.5,582.8 C194.6,584.1 198.7,585.8 202.8,586.2 C206.9,586.7 211.0,586.4 215.1,585.7 C219.2,584.9 223.3,582.9 227.4,581.6 C231.5,580.4 235.6,579.3 239.7,578.2 C243.8,577.0 247.9,575.5 252.0,574.8 C256.1,574.0 260.2,573.5 264.3,573.6 C268.4,573.7 272.5,574.8 276.6,575.3 C280.7,575.9 284.8,576.8 288.9,577.0 C293.0,577.3 297.1,577.0 301.2,577.0 C305.3,577.0 311.4,577.0 313.5,577.0" stroke="#3a7cc2" stroke-width="1.6" fill="none" stroke-dasharray="4.5,3"/>
<path d="M67.5,678.7 C69.5,677.6 75.7,674.7 79.8,672.3 C83.9,669.9 88.0,666.6 92.1,664.2 C96.2,661.8 100.3,659.7 104.4,657.9 C108.5,656.1 112.6,654.7 116.7,653.4 C120.8,652.0 124.9,650.8 129.0,649.7 C133.1,648.7 137.2,648.1 141.3,647.0 C145.4,646.0 149.5,644.3 153.6,643.4 C157.7,642.5 161.8,641.4 165.9,641.6 C170.0,641.8 174.1,642.7 178.2,644.3 C182.3,646.0 186.4,649.3 190.5,651.5 C194.6,653.8 198.7,656.2 202.8,657.9 C206.9,659.5 211.0,661.0 215.1,661.5 C219.2,661.9 223.3,660.9 227.4,660.6 C231.5,660.3 235.6,660.1 239.7,659.7 C243.8,659.2 247.9,658.3 252.0,657.9 C256.1,657.4 260.2,657.0 264.3,657.0 C268.4,656.9 272.5,657.3 276.6,657.4 C280.7,657.6 284.8,657.7 288.9,657.9 C293.0,658.0 297.1,658.2 301.2,658.3 C305.3,658.5 311.4,658.7 313.5,658.8" stroke="#c9503a" stroke-width="1.6" fill="none" stroke-dasharray="4.5,3"/>
<path d="M67.5,666.9 C69.5,664.7 75.7,656.8 79.8,653.4 C83.9,649.9 88.0,647.9 92.1,646.1 C96.2,644.4 100.3,643.3 104.4,643.0 C108.5,642.7 112.6,643.3 116.7,644.3 C120.8,645.3 124.9,647.3 129.0,648.8 C133.1,650.3 137.2,652.0 141.3,653.4 C145.4,654.7 149.5,655.9 153.6,657.0 C157.7,658.0 161.8,658.9 165.9,659.7 C170.0,660.4 174.1,660.9 178.2,661.5 C182.3,662.1 186.4,662.8 190.5,663.3 C194.6,663.7 198.7,664.4 202.8,664.2 C206.9,664.0 211.0,663.0 215.1,662.4 C219.2,661.8 223.3,661.3 227.4,660.6 C231.5,659.8 235.6,658.6 239.7,657.9 C243.8,657.1 247.9,656.7 252.0,656.1 C256.1,655.5 260.2,654.4 264.3,654.3 C268.4,654.1 272.5,654.7 276.6,655.2 C280.7,655.6 284.8,656.6 288.9,657.0 C293.0,657.3 297.1,657.3 301.2,657.4 C305.3,657.6 311.4,657.8 313.5,657.9" stroke="#3a7cc2" stroke-width="1.6" fill="none" stroke-dasharray="4.5,3"/>
<path d="M66.5,521 V596.2" stroke="#222" stroke-width="1.15" fill="none"/>
<path d="M66.5,614.8 V691.3 H320.7" stroke="#222" stroke-width="1.15" fill="none"/>
<line x1="64" y1="532.2" x2="66.5" y2="532.2" stroke="#222" stroke-width="0.8"/>
<text x="63.0" y="536.0" font-size="10.8" fill="#1a1a1a" text-anchor="end" letter-spacing="0.2">7.8</text>
<line x1="64" y1="555.2" x2="66.5" y2="555.2" stroke="#222" stroke-width="0.8"/>
<text x="63.0" y="559.0" font-size="10.8" fill="#1a1a1a" text-anchor="end" letter-spacing="0.2">7.6</text>
<line x1="64" y1="578.2" x2="66.5" y2="578.2" stroke="#222" stroke-width="0.8"/>
<text x="63.0" y="582.0" font-size="10.8" fill="#1a1a1a" text-anchor="end" letter-spacing="0.2">7.4</text>
<line x1="64" y1="619.0" x2="66.5" y2="619.0" stroke="#222" stroke-width="0.8"/>
<text x="63.0" y="622.8" font-size="10.8" fill="#1a1a1a" text-anchor="end" letter-spacing="0.2">8.25</text>
<line x1="64" y1="641.6" x2="66.5" y2="641.6" stroke="#222" stroke-width="0.8"/>
<text x="63.0" y="645.4" font-size="10.8" fill="#1a1a1a" text-anchor="end" letter-spacing="0.2">8.00</text>
<line x1="64" y1="664.2" x2="66.5" y2="664.2" stroke="#222" stroke-width="0.8"/>
<text x="63.0" y="668.0" font-size="10.8" fill="#1a1a1a" text-anchor="end" letter-spacing="0.2">7.75</text>
<line x1="64" y1="686.8" x2="66.5" y2="686.8" stroke="#222" stroke-width="0.8"/>
<text x="63.0" y="690.6" font-size="10.8" fill="#1a1a1a" text-anchor="end" letter-spacing="0.2">7.50</text>
<line x1="67.5" y1="691.3" x2="67.5" y2="693.8" stroke="#222" stroke-width="0.8"/>
<text x="69.0" y="705.5" font-size="10.4" fill="#1a1a1a" text-anchor="middle" letter-spacing="0.3">0</text>
<line x1="116.7" y1="691.3" x2="116.7" y2="693.8" stroke="#222" stroke-width="0.8"/>
<text x="118.2" y="705.5" font-size="10.4" fill="#1a1a1a" text-anchor="middle" letter-spacing="0.3">20</text>
<line x1="165.9" y1="691.3" x2="165.9" y2="693.8" stroke="#222" stroke-width="0.8"/>
<text x="167.4" y="705.5" font-size="10.4" fill="#1a1a1a" text-anchor="middle" letter-spacing="0.3">40</text>
<line x1="215.1" y1="691.3" x2="215.1" y2="693.8" stroke="#222" stroke-width="0.8"/>
<text x="216.6" y="705.5" font-size="10.4" fill="#1a1a1a" text-anchor="middle" letter-spacing="0.3">60</text>
<line x1="264.3" y1="691.3" x2="264.3" y2="693.8" stroke="#222" stroke-width="0.8"/>
<text x="265.8" y="705.5" font-size="10.4" fill="#1a1a1a" text-anchor="middle" letter-spacing="0.3">80</text>
<line x1="313.5" y1="691.3" x2="313.5" y2="693.8" stroke="#222" stroke-width="0.8"/>
<text x="315.0" y="705.5" font-size="10.4" fill="#1a1a1a" text-anchor="middle" letter-spacing="0.3">100</text>
<text x="204.0" y="715.2" font-size="10.5" fill="#1a1a1a" text-anchor="middle">Days</text>
<text x="273.6" y="526.0" font-size="8.9" fill="#1a1a1a"><tspan font-style="italic">p</tspan> &lt; 0.0001</text>
<text x="274.8" y="622.8" font-size="8.8" fill="#1a1a1a">p = 0.830</text>
<line x1="266.7" y1="670" x2="282" y2="670" stroke="#c9503a" stroke-width="1.4" stroke-dasharray="3.5,2"/>
<line x1="266.7" y1="680.9" x2="282" y2="680.9" stroke="#3a7cc2" stroke-width="1.4" stroke-dasharray="3.5,2"/>
<text x="284.8" y="673.9" font-size="8.4" fill="#1a1a1a">Rhizosphere</text>
<text x="285.5" y="684.8" font-size="8.4" fill="#1a1a1a">Bulk soil</text>
<text x="22.3" y="605.3" font-size="10.75" fill="#1a1a1a" text-anchor="middle" transform="rotate(-90 22.3 605.3)">Abundance of microbes with</text>
<text x="35.1" y="605.3" font-size="10.75" fill="#111" text-anchor="middle" transform="rotate(-90 35.1 605.3)">identified viruses (log<tspan font-size="6.5" dy="1.5">10</tspan><tspan dy="-1.5"> copies ng</tspan><tspan font-size="6.5" dy="-3.5">-1</tspan><tspan dy="3.5"> DNA)</tspan></text>
<text x="358.2" y="240.0" font-size="19.5" fill="#000" font-weight="bold">e</text>
<circle cx="467.7" cy="274.2" r="45.6" fill="#dcdcdf"/>
<path d="M467.6,277.7 L459.2,318.6 A45.6,45.6 0 0 0 474.5,319.3 Z" fill="#93cac1"/>
<path d="M459.2,319 L456.8,334 M474.5,319.3 L476.8,334" stroke="#7cc0b4" stroke-width="0.7" stroke-dasharray="1.6,1.2"/>
<text x="467.6" y="263.7" font-size="10.8" fill="#252d35" text-anchor="middle">444</text>
<text x="467.6" y="276.1" font-size="10.7" fill="#252d35" text-anchor="middle">viral populations</text>
<path d="M467.6,241.3 H489.4 V251.9 H512" stroke="#9a9a9a" stroke-width="0.8" fill="none"/>
<text x="538.5" y="249.2" font-size="8.6" fill="#222" text-anchor="middle">Unclassified</text>
<text x="538.6" y="260.3" font-size="8.6" fill="#222" text-anchor="middle">(94.62%)</text>
<path d="M420.6,311.3 H437.4 V292.2 H464.2" stroke="#7cc0b4" stroke-width="0.8" fill="none"/>
<text x="403.0" y="311.7" font-size="8.6" fill="#222" text-anchor="middle">Classified</text>
<text x="402.6" y="321.7" font-size="8.6" fill="#222" text-anchor="middle">(5.38%)</text>
<path d="M465.9,384.6 L465.90,424.00 A39.4,39.4 0 0 1 426.50,384.60 Z" fill="#eca46e"/>
<path d="M465.9,384.6 L426.50,384.60 A39.4,39.4 0 0 1 465.90,345.20 Z" fill="#e8861c"/>
<path d="M465.9,384.6 L465.90,345.20 A39.4,39.4 0 0 1 498.17,362.00 Z" fill="#c8a2d6"/>
<path d="M465.9,384.6 L498.17,362.00 A39.4,39.4 0 0 1 505.30,384.60 Z" fill="#a692c9"/>
<path d="M465.9,384.6 L505.30,384.60 A39.4,39.4 0 0 1 500.02,404.30 Z" fill="#a4acf8"/>
<path d="M465.9,384.6 L500.02,404.30 A39.4,39.4 0 0 1 488.22,417.07 Z" fill="#9a8aa8"/>
<path d="M465.9,384.6 L488.22,417.07 A39.4,39.4 0 0 1 481.61,420.73 Z" fill="#f0a46c"/>
<path d="M465.9,384.6 L481.61,420.73 A39.4,39.4 0 0 1 475.10,422.91 Z" fill="#a8c4f8"/>
<path d="M465.9,384.6 L475.10,422.91 A39.4,39.4 0 0 1 467.62,423.96 Z" fill="#e8821a"/>
<path d="M465.9,384.6 L467.62,423.96 A39.4,39.4 0 0 1 465.90,424.00 Z" fill="#d8d8f0"/>
<path d="M465.9,345.20000000000005 A39.4,39.4 0 0 0 465.9,424.0" stroke="#f4c23e" stroke-width="1.3" fill="none"/>
<path d="M465.9,345.20000000000005 A39.4,39.4 0 0 1 465.9,424.0" stroke="#8c96de" stroke-width="1.3" fill="none"/>
<line x1="465.9" y1="345.20000000000005" x2="465.9" y2="424.0" stroke="#f4c23e" stroke-width="0.9"/>
<text x="507.9" y="336.1" font-size="7.2" fill="#3f8f8c" font-style="italic">Straboviridae</text>
<text x="513.6" y="344.5" font-size="7.2" fill="#3f8f8c">(3019%)</text>
<text x="511.3" y="352.5" font-size="7.2" fill="#3f8f8c" font-style="italic">Peduoviridae</text>
<text x="514.0" y="361.3" font-size="7.2" fill="#3f8f8c">(20.75%)</text>
<text x="517.3" y="370.3" font-size="7.2" fill="#3f8f8c" font-style="italic">Herelleviridae</text>
<text x="525.4" y="379.4" font-size="7.2" fill="#3f8f8c">(16.98%)</text>
<text x="523.0" y="387.5" font-size="7.2" fill="#3f8f8c" font-style="italic">Zierdtviridae</text>
<text x="529.7" y="396.5" font-size="7.2" fill="#3f8f8c">(13.21%)</text>
<text x="514.6" y="403.2" font-size="7.2" fill="#3f8f8c" font-style="italic">Kyanoviridae</text>
<text x="518.0" y="411.6" font-size="7.2" fill="#3f8f8c">(5.67%)</text>
<text x="495.1" y="419.7" font-size="7.2" fill="#3f8f8c" font-style="italic">Mesyanzhinovviridae</text>
<text x="519.6" y="427.4" font-size="7.2" fill="#3f8f8c">(5.67%)</text>
<text x="492.8" y="436.1" font-size="7.2" fill="#3f8f8c" font-style="italic">Ackermannviridae</text>
<text x="510.6" y="444.9" font-size="7.2" fill="#3f8f8c">(5.67%)</text>
<text x="401.8" y="349.2" font-size="7.2" fill="#3f8f8c" font-style="italic" text-anchor="middle">Ackermannviridae</text>
<text x="401.8" y="357.6" font-size="7.2" fill="#3f8f8c" text-anchor="middle">(50.00%)</text>
<text x="400.1" y="402.9" font-size="7.2" fill="#3f8f8c" font-style="italic" text-anchor="middle">Kyanoviridae</text>
<text x="401.6" y="411.3" font-size="7.2" fill="#3f8f8c" text-anchor="middle">(50.00%)</text>
<path d="M475.9,349.7 H495.1 V337.5 H513.2 M486.7,372.6 H500.5 V357.1 H513.8 M492.6,387.7 H504.8 V372.6 H521 M504.8,387.7 H521 M485,401.5 H500" stroke="#5aa6d4" stroke-width="0.6" fill="none"/>
<path d="M478.4,410.2 H495.4 V403.6 H511" stroke="#f2b898" stroke-width="0.6" fill="none"/>
<path d="M476.7,414.4 V421.6 H493.4 M470.4,421.1 V436.2 H492.6" stroke="#c4b6dc" stroke-width="0.6" fill="none"/>
<path d="M416.7,351.4 H432.8 V358.1 H448.8 M418.2,405.8 H433.1 V412.1 H447.4" stroke="#f2bea0" stroke-width="0.6" fill="none"/>
<text x="468.6" y="463.3" font-size="10.9" fill="#111" text-anchor="middle">Virus association pattern</text>
<rect x="408.8" y="470" width="7.8" height="8.5" fill="#f0b23a"/>
<text x="418.9" y="477.8" font-size="10.9" fill="#111">As oxidation</text>
<rect x="482.7" y="470" width="7.8" height="8.5" fill="#9a9ce2"/>
<text x="492.8" y="477.8" font-size="10.9" fill="#111">As reduction</text>
<path d="M578,233.8 C613,233.8 636.5,232.5 666.5,232.5 V236.5 C636.5,236.5 613,235.0 578,235.0 Z" fill="#aab4e4" fill-opacity="0.6"/>
<path d="M578,239.4 C613,239.4 636.5,237.0 666.5,237.0 V250.0 C636.5,250.0 613,240.6 578,240.6 Z" fill="#aab4e4" fill-opacity="0.55"/>
<path d="M578,249.1 C613,249.1 636.5,248.0 666.5,248.0 V252.0 C636.5,252.0 613,250.3 578,250.3 Z" fill="#aab4e4" fill-opacity="0.5"/>
<path d="M578,254.9 C613,254.9 636.5,254.0 666.5,254.0 V259.0 C636.5,259.0 613,256.1 578,256.1 Z" fill="#aab4e4" fill-opacity="0.55"/>
<path d="M578,263.9 C613,263.9 636.5,262.0 666.5,262.0 V266.0 C636.5,266.0 613,265.1 578,265.1 Z" fill="#aab4e4" fill-opacity="0.5"/>
<path d="M578,270.9 C613,270.9 636.5,270.0 666.5,270.0 V273.0 C636.5,273.0 613,272.1 578,272.1 Z" fill="#aab4e4" fill-opacity="0.5"/>
<path d="M578,277.9 C613,277.9 636.5,276.0 666.5,276.0 V281.0 C636.5,281.0 613,279.1 578,279.1 Z" fill="#aab4e4" fill-opacity="0.5"/>
<path d="M578,281.9 C613,281.9 636.5,280.0 666.5,280.0 V292.0 C636.5,292.0 613,283.1 578,283.1 Z" fill="#aab4e4" fill-opacity="0.5"/>
<path d="M578,286.4 C613,286.4 636.5,285.0 666.5,285.0 V289.0 C636.5,289.0 613,287.6 578,287.6 Z" fill="#aab4e4" fill-opacity="0.45"/>
<path d="M578,291.9 C613,291.9 636.5,291.0 666.5,291.0 V294.0 C636.5,294.0 613,293.1 578,293.1 Z" fill="#aab4e4" fill-opacity="0.45"/>
<path d="M578,297.6 C613,297.6 636.5,296.0 666.5,296.0 V300.0 C636.5,300.0 613,298.8 578,298.8 Z" fill="#aab4e4" fill-opacity="0.45"/>
<path d="M578,303.4 C613,303.4 636.5,301.0 666.5,301.0 V306.0 C636.5,306.0 613,304.6 578,304.6 Z" fill="#aab4e4" fill-opacity="0.5"/>
<path d="M578,309.5 C613,309.5 636.5,300.0 666.5,300.0 V318.0 C636.5,318.0 613,310.7 578,310.7 Z" fill="#aab4e4" fill-opacity="0.55"/>
<path d="M578,319.1 C613,319.1 636.5,318.0 666.5,318.0 V322.0 C636.5,322.0 613,320.3 578,320.3 Z" fill="#f2c04c" fill-opacity="0.7"/>
<path d="M578,327.9 C613,327.9 636.5,324.0 666.5,324.0 V333.0 C636.5,333.0 613,329.1 578,329.1 Z" fill="#f2c04c" fill-opacity="0.75"/>
<path d="M578,336.8 C613,336.8 636.5,335.0 666.5,335.0 V340.0 C636.5,340.0 613,338.0 578,338.0 Z" fill="#f2c04c" fill-opacity="0.7"/>
<path d="M578,341.7 C613,341.7 636.5,341.0 666.5,341.0 V345.0 C636.5,345.0 613,342.9 578,342.9 Z" fill="#f2c04c" fill-opacity="0.65"/>
<path d="M578,352.9 C613,352.9 636.5,346.0 666.5,346.0 V355.0 C636.5,355.0 613,354.1 578,354.1 Z" fill="#aab4e4" fill-opacity="0.55"/>
<path d="M578,352.9 C613,352.9 636.5,355.0 666.5,355.0 V364.0 C636.5,364.0 613,354.1 578,354.1 Z" fill="#f2c04c" fill-opacity="0.65"/>
<path d="M578,365.1 C613,365.1 636.5,364.0 666.5,364.0 V369.0 C636.5,369.0 613,366.3 578,366.3 Z" fill="#aab4e4" fill-opacity="0.5"/>
<path d="M578,374.4 C613,374.4 636.5,372.0 666.5,372.0 V378.0 C636.5,378.0 613,375.6 578,375.6 Z" fill="#f2c04c" fill-opacity="0.65"/>
<path d="M578,379.7 C613,379.7 636.5,379.0 666.5,379.0 V382.0 C636.5,382.0 613,380.9 578,380.9 Z" fill="#f2c04c" fill-opacity="0.6"/>
<path d="M578,384.9 C613,384.9 636.5,383.0 666.5,383.0 V388.0 C636.5,388.0 613,386.1 578,386.1 Z" fill="#f2c04c" fill-opacity="0.65"/>
<path d="M578,391.4 C613,391.4 636.5,389.0 666.5,389.0 V394.0 C636.5,394.0 613,392.6 578,392.6 Z" fill="#f2c04c" fill-opacity="0.65"/>
<path d="M578,409.4 C613,409.4 636.5,393.0 666.5,393.0 V410.0 C636.5,410.0 613,410.6 578,410.6 Z" fill="#aab4e4" fill-opacity="0.55"/>
<path d="M578,409.4 C613,409.4 636.5,410.0 666.5,410.0 V428.0 C636.5,428.0 613,410.6 578,410.6 Z" fill="#f2c04c" fill-opacity="0.6"/>
<path d="M578,424.0 C613,424.0 636.5,423.0 666.5,423.0 V427.0 C636.5,427.0 613,425.2 578,425.2 Z" fill="#f2c04c" fill-opacity="0.6"/>
<path d="M578,435.4 C613,435.4 636.5,424.0 666.5,424.0 V438.0 C636.5,438.0 613,436.6 578,436.6 Z" fill="#aab4e4" fill-opacity="0.55"/>
<path d="M578,435.4 C613,435.4 636.5,438.0 666.5,438.0 V455.0 C636.5,455.0 613,436.6 578,436.6 Z" fill="#f2c04c" fill-opacity="0.6"/>
<path d="M578,449.0 C613,449.0 636.5,448.0 666.5,448.0 V452.0 C636.5,452.0 613,450.2 578,450.2 Z" fill="#f2c04c" fill-opacity="0.65"/>
<path d="M578,453.9 C613,453.9 636.5,453.5 666.5,453.5 V456.0 C636.5,456.0 613,455.1 578,455.1 Z" fill="#f2c04c" fill-opacity="0.6"/>
<path d="M578,459.1 C613,459.1 636.5,458.0 666.5,458.0 V463.0 C636.5,463.0 613,460.3 578,460.3 Z" fill="#f2c04c" fill-opacity="0.7"/>
<path d="M578,234.4 C613,234.4 636.5,233.2 666.5,233.2 M578,234.4 C613,234.4 636.5,234.5 666.5,234.5 M578,234.4 C613,234.4 636.5,235.8 666.5,235.8 M578,240.0 C613,240.0 636.5,239.2 666.5,239.2 M578,240.0 C613,240.0 636.5,243.5 666.5,243.5 M578,240.0 C613,240.0 636.5,247.8 666.5,247.8 M578,249.7 C613,249.7 636.5,248.7 666.5,248.7 M578,249.7 C613,249.7 636.5,250.0 666.5,250.0 M578,249.7 C613,249.7 636.5,251.3 666.5,251.3 M578,255.5 C613,255.5 636.5,254.8 666.5,254.8 M578,255.5 C613,255.5 636.5,256.5 666.5,256.5 M578,255.5 C613,255.5 636.5,258.2 666.5,258.2 M578,264.5 C613,264.5 636.5,262.7 666.5,262.7 M578,264.5 C613,264.5 636.5,264.0 666.5,264.0 M578,264.5 C613,264.5 636.5,265.3 666.5,265.3 M578,271.5 C613,271.5 636.5,270.5 666.5,270.5 M578,271.5 C613,271.5 636.5,271.5 666.5,271.5 M578,271.5 C613,271.5 636.5,272.5 666.5,272.5 M578,278.5 C613,278.5 636.5,276.8 666.5,276.8 M578,278.5 C613,278.5 636.5,278.5 666.5,278.5 M578,278.5 C613,278.5 636.5,280.2 666.5,280.2 M578,282.5 C613,282.5 636.5,282.0 666.5,282.0 M578,282.5 C613,282.5 636.5,286.0 666.5,286.0 M578,282.5 C613,282.5 636.5,290.0 666.5,290.0 M578,287.0 C613,287.0 636.5,285.7 666.5,285.7 M578,287.0 C613,287.0 636.5,287.0 666.5,287.0 M578,287.0 C613,287.0 636.5,288.3 666.5,288.3 M578,292.5 C613,292.5 636.5,291.5 666.5,291.5 M578,292.5 C613,292.5 636.5,292.5 666.5,292.5 M578,292.5 C613,292.5 636.5,293.5 666.5,293.5 M578,298.2 C613,298.2 636.5,296.7 666.5,296.7 M578,298.2 C613,298.2 636.5,298.0 666.5,298.0 M578,298.2 C613,298.2 636.5,299.3 666.5,299.3 M578,304.0 C613,304.0 636.5,301.8 666.5,301.8 M578,304.0 C613,304.0 636.5,303.5 666.5,303.5 M578,304.0 C613,304.0 636.5,305.2 666.5,305.2 M578,310.1 C613,310.1 636.5,303.0 666.5,303.0 M578,310.1 C613,310.1 636.5,309.0 666.5,309.0 M578,310.1 C613,310.1 636.5,315.0 666.5,315.0 M578,353.5 C613,353.5 636.5,347.5 666.5,347.5 M578,353.5 C613,353.5 636.5,350.5 666.5,350.5 M578,353.5 C613,353.5 636.5,353.5 666.5,353.5 M578,365.7 C613,365.7 636.5,364.8 666.5,364.8 M578,365.7 C613,365.7 636.5,366.5 666.5,366.5 M578,365.7 C613,365.7 636.5,368.2 666.5,368.2 M578,410.0 C613,410.0 636.5,395.8 666.5,395.8 M578,410.0 C613,410.0 636.5,401.5 666.5,401.5 M578,410.0 C613,410.0 636.5,407.2 666.5,407.2 M578,436.0 C613,436.0 636.5,426.3 666.5,426.3 M578,436.0 C613,436.0 636.5,431.0 666.5,431.0 M578,436.0 C613,436.0 636.5,435.7 666.5,435.7" stroke="#9aa6de" stroke-width="0.5" fill="none" stroke-opacity="0.8"/>
<path d="M578,319.7 C613,319.7 636.5,318.7 666.5,318.7 M578,319.7 C613,319.7 636.5,320.0 666.5,320.0 M578,319.7 C613,319.7 636.5,321.3 666.5,321.3 M578,328.5 C613,328.5 636.5,325.5 666.5,325.5 M578,328.5 C613,328.5 636.5,328.5 666.5,328.5 M578,328.5 C613,328.5 636.5,331.5 666.5,331.5 M578,337.4 C613,337.4 636.5,335.8 666.5,335.8 M578,337.4 C613,337.4 636.5,337.5 666.5,337.5 M578,337.4 C613,337.4 636.5,339.2 666.5,339.2 M578,342.3 C613,342.3 636.5,341.7 666.5,341.7 M578,342.3 C613,342.3 636.5,343.0 666.5,343.0 M578,342.3 C613,342.3 636.5,344.3 666.5,344.3 M578,353.5 C613,353.5 636.5,356.5 666.5,356.5 M578,353.5 C613,353.5 636.5,359.5 666.5,359.5 M578,353.5 C613,353.5 636.5,362.5 666.5,362.5 M578,375.0 C613,375.0 636.5,373.0 666.5,373.0 M578,375.0 C613,375.0 636.5,375.0 666.5,375.0 M578,375.0 C613,375.0 636.5,377.0 666.5,377.0 M578,380.3 C613,380.3 636.5,379.5 666.5,379.5 M578,380.3 C613,380.3 636.5,380.5 666.5,380.5 M578,380.3 C613,380.3 636.5,381.5 666.5,381.5 M578,385.5 C613,385.5 636.5,383.8 666.5,383.8 M578,385.5 C613,385.5 636.5,385.5 666.5,385.5 M578,385.5 C613,385.5 636.5,387.2 666.5,387.2 M578,392.0 C613,392.0 636.5,389.8 666.5,389.8 M578,392.0 C613,392.0 636.5,391.5 666.5,391.5 M578,392.0 C613,392.0 636.5,393.2 666.5,393.2 M578,410.0 C613,410.0 636.5,413.0 666.5,413.0 M578,410.0 C613,410.0 636.5,419.0 666.5,419.0 M578,410.0 C613,410.0 636.5,425.0 666.5,425.0 M578,424.6 C613,424.6 636.5,423.7 666.5,423.7 M578,424.6 C613,424.6 636.5,425.0 666.5,425.0 M578,424.6 C613,424.6 636.5,426.3 666.5,426.3 M578,436.0 C613,436.0 636.5,440.8 666.5,440.8 M578,436.0 C613,436.0 636.5,446.5 666.5,446.5 M578,436.0 C613,436.0 636.5,452.2 666.5,452.2 M578,449.6 C613,449.6 636.5,448.7 666.5,448.7 M578,449.6 C613,449.6 636.5,450.0 666.5,450.0 M578,449.6 C613,449.6 636.5,451.3 666.5,451.3 M578,454.5 C613,454.5 636.5,453.9 666.5,453.9 M578,454.5 C613,454.5 636.5,454.8 666.5,454.8 M578,454.5 C613,454.5 636.5,455.6 666.5,455.6 M578,459.7 C613,459.7 636.5,458.8 666.5,458.8 M578,459.7 C613,459.7 636.5,460.5 666.5,460.5 M578,459.7 C613,459.7 636.5,462.2 666.5,462.2" stroke="#eeb838" stroke-width="0.5" fill="none" stroke-opacity="0.8"/>
<path d="M578,264.5 C618,264.5 626,330.0 666.5,330.0 M578,271.5 C618,271.5 626,345.0 666.5,345.0 M578,282.5 C618,282.5 626,360.0 666.5,360.0 M578,287.0 C618,287.0 626,300.0 666.5,300.0 M578,298.2 C618,298.2 626,352.0 666.5,352.0 M578,304.0 C618,304.0 626,318.0 666.5,318.0 M578,310.1 C618,310.1 626,372.0 666.5,372.0 M578,310.1 C618,310.1 626,390.0 666.5,390.0 M578,292.5 C618,292.5 626,400.0 666.5,400.0 M578,278.5 C618,278.5 626,408.0 666.5,408.0 M578,264.5 C618,264.5 626,320.0 666.5,320.0 M578,353.5 C618,353.5 626,400.0 666.5,400.0 M578,365.7 C618,365.7 626,415.0 666.5,415.0 M578,375.0 C618,375.0 626,395.0 666.5,395.0 M578,392.0 C618,392.0 626,404.0 666.5,404.0 M578,410.0 C618,410.0 626,380.0 666.5,380.0 M578,436.0 C618,436.0 626,400.0 666.5,400.0 M578,304.0 C618,304.0 626,352.0 666.5,352.0 M578,282.5 C618,282.5 626,340.0 666.5,340.0 M578,249.7 C618,249.7 626,290.0 666.5,290.0" stroke="#9ea8dc" stroke-width="0.6" fill="none" stroke-opacity="0.85"/>
<path d="M578,319.7 C618,319.7 626,440.0 666.5,440.0 M578,328.5 C618,328.5 626,455.0 666.5,455.0 M578,337.4 C618,337.4 626,420.0 666.5,420.0 M578,342.3 C618,342.3 626,430.0 666.5,430.0 M578,353.5 C618,353.5 626,445.0 666.5,445.0 M578,375.0 C618,375.0 626,450.0 666.5,450.0 M578,385.5 C618,385.5 626,435.0 666.5,435.0 M578,392.0 C618,392.0 626,460.0 666.5,460.0 M578,328.5 C618,328.5 626,392.0 666.5,392.0 M578,337.4 C618,337.4 626,410.0 666.5,410.0 M578,342.3 C618,342.3 626,380.0 666.5,380.0 M578,380.3 C618,380.3 626,425.0 666.5,425.0 M578,410.0 C618,410.0 626,460.0 666.5,460.0 M578,424.6 C618,424.6 626,446.0 666.5,446.0 M578,319.7 C618,319.7 626,395.0 666.5,395.0" stroke="#efb83a" stroke-width="0.6" fill="none" stroke-opacity="0.85"/>
<circle cx="575.5" cy="234.4" r="0.8" fill="#5aa0a0"/>
<text x="580.8" y="236.9" font-size="6.9" fill="#222" font-style="italic">Trichlorobacter</text>
<circle cx="575.5" cy="240.0" r="1.8" fill="none" stroke="#3a9a8a" stroke-width="0.9"/>
<text x="579.0" y="242.5" font-size="6.9" fill="#222" font-style="italic">CAIVAT01</text>
<circle cx="575.5" cy="249.7" r="0.8" fill="#4a7a3a"/>
<text x="579.4" y="252.2" font-size="6.9" fill="#222" font-style="italic">SCN-70-22</text>
<circle cx="575.5" cy="255.5" r="1.0" fill="none" stroke="#6a7ab8" stroke-width="0.9"/>
<text x="578.7" y="258.0" font-size="6.9" fill="#222" font-style="italic">Massilia</text>
<circle cx="575.5" cy="264.5" r="1.2" fill="none" stroke="#e8a030" stroke-width="0.9"/>
<text x="578.2" y="267.0" font-size="6.9" fill="#222" font-style="italic">AG11</text>
<circle cx="575.5" cy="271.5" r="0.8" fill="#d87a5a"/>
<text x="580.8" y="274.0" font-size="6.9" fill="#222" font-style="italic">Planobacterium</text>
<circle cx="575.5" cy="278.5" r="0.8" fill="none" stroke="#5aa0a0" stroke-width="0.9"/>
<text x="579.9" y="281.0" font-size="6.9" fill="#222" font-style="italic">CADEFD01</text>
<circle cx="575.5" cy="282.5" r="2.4" fill="none" stroke="#1a6a6a" stroke-width="0.9"/>
<circle cx="575.5" cy="287.0" r="0.8" fill="#c86060"/>
<text x="581.1" y="289.5" font-size="6.9" fill="#222" font-style="italic">2-02-FULL-65-29</text>
<circle cx="575.5" cy="292.5" r="1.5" fill="none" stroke="#a0c070" stroke-width="0.9"/>
<circle cx="575.5" cy="298.2" r="0.8" fill="#888"/>
<text x="579.9" y="300.7" font-size="6.9" fill="#222" font-style="italic">Acidisarcina</text>
<circle cx="575.5" cy="304.0" r="1.0" fill="none" stroke="#777" stroke-width="0.9"/>
<text x="581.1" y="306.5" font-size="6.9" fill="#222" font-style="italic">Novosphingobium</text>
<circle cx="575.5" cy="310.1" r="2.3" fill="none" stroke="#a04060" stroke-width="0.9"/>
<text x="579.9" y="312.6" font-size="6.9" fill="#222" font-style="italic">Oryzomonas</text>
<circle cx="575.5" cy="319.7" r="0.8" fill="#5a5aa0"/>
<text x="579.0" y="322.2" font-size="6.9" fill="#222" font-style="italic">JAACFB01</text>
<circle cx="575.5" cy="328.5" r="1.5" fill="none" stroke="#8a8a6a" stroke-width="0.9"/>
<text x="579.0" y="331.0" font-size="6.9" fill="#222" font-style="italic">SXTU01</text>
<circle cx="575.5" cy="337.4" r="1.5" fill="none" stroke="#5ac0c0" stroke-width="0.9"/>
<text x="580.4" y="339.9" font-size="6.9" fill="#222" font-style="italic">Edaphobacter</text>
<circle cx="575.5" cy="342.3" r="1.0" fill="none" stroke="#a08060" stroke-width="0.9"/>
<text x="580.4" y="344.8" font-size="6.9" fill="#222" font-style="italic">Mycobacterium</text>
<circle cx="575.5" cy="354.3" r="3.5" fill="none" stroke="#3a8a7a" stroke-width="0.9"/>
<text x="582.0" y="358.8" font-size="6.9" fill="#222" font-style="italic">Syntrophobacter</text>
<circle cx="575.5" cy="365.7" r="1.8" fill="none" stroke="#3a7a7a" stroke-width="0.9"/>
<text x="578.5" y="368.2" font-size="6.9" fill="#222" font-style="italic">Leifsonia</text>
<circle cx="575.5" cy="375.0" r="2.3" fill="none" stroke="#8a7050" stroke-width="0.9"/>
<text x="578.5" y="377.5" font-size="6.9" fill="#222" font-style="italic">Ramlibacter</text>
<circle cx="575.5" cy="380.3" r="0.8" fill="#9a9a9a"/>
<text x="580.5" y="382.8" font-size="6.9" fill="#222" font-style="italic">Microterricola</text>
<circle cx="575.5" cy="385.5" r="1.8" fill="none" stroke="#e0a030" stroke-width="0.9"/>
<text x="581.0" y="388.0" font-size="6.9" fill="#222" font-style="italic">Anaeromyxobacter</text>
<circle cx="575.5" cy="392.0" r="1.5" fill="none" stroke="#6a5a8a" stroke-width="0.9"/>
<text x="578.8" y="394.5" font-size="6.9" fill="#222" font-style="italic">Variovorax</text>
<circle cx="575.5" cy="408.2" r="3.7" fill="none" stroke="#7a4a8a" stroke-width="0.9"/>
<text x="579.5" y="412.7" font-size="6.9" fill="#222" font-style="italic">Koribacter</text>
<circle cx="575.5" cy="424.6" r="0.8" fill="#e07050"/>
<text x="581.5" y="427.1" font-size="6.9" fill="#222" font-style="italic">Aeromicrobium</text>
<circle cx="575.5" cy="435.9" r="2.8" fill="none" stroke="#a0c870" stroke-width="0.9"/>
<text x="580.5" y="438.4" font-size="6.9" fill="#222" font-style="italic">Bradyrhizobium</text>
<circle cx="575.5" cy="449.6" r="1.5" fill="none" stroke="#80c0b0" stroke-width="0.9"/>
<text x="581.5" y="452.1" font-size="6.9" fill="#222" font-style="italic">Sulfotelmatobacter</text>
<circle cx="575.5" cy="454.5" r="0.8" fill="#6a6a6a"/>
<text x="578.8" y="457.0" font-size="6.9" fill="#222" font-style="italic">Bosea</text>
<circle cx="575.5" cy="459.7" r="1.5" fill="none" stroke="#2a8a7a" stroke-width="0.9"/>
<text x="581.5" y="462.2" font-size="6.9" fill="#222" font-style="italic">Sediminibacterium</text>
<line x1="666.5" y1="234" x2="666.5" y2="465" stroke="#e07070" stroke-width="0.6"/>
<path d="M664.5,236 H668.5 M664.5,241 H668.5 M664.5,246 H668.5 M664.5,251 H668.5 M664.5,256 H668.5 M664.5,261 H668.5 M664.5,266 H668.5 M664.5,271 H668.5 M664.5,276 H668.5 M664.5,281 H668.5 M664.5,286 H668.5 M664.5,291 H668.5 M664.5,296 H668.5 M664.5,301 H668.5 M664.5,306 H668.5 M664.5,311 H668.5 M664.5,316 H668.5 M664.5,321 H668.5 M664.5,326 H668.5 M664.5,331 H668.5 M664.5,336 H668.5 M664.5,341 H668.5 M664.5,346 H668.5 M664.5,351 H668.5 M664.5,356 H668.5 M664.5,361 H668.5 M664.5,366 H668.5 M664.5,371 H668.5 M664.5,376 H668.5 M664.5,381 H668.5 M664.5,386 H668.5 M664.5,391 H668.5 M664.5,396 H668.5 M664.5,401 H668.5 M664.5,406 H668.5 M664.5,411 H668.5 M664.5,416 H668.5 M664.5,421 H668.5 M664.5,426 H668.5 M664.5,431 H668.5 M664.5,436 H668.5 M664.5,441 H668.5 M664.5,446 H668.5 M664.5,451 H668.5 M664.5,456 H668.5 M664.5,461 H668.5" stroke="#e08080" stroke-width="0.5"/>
<text x="662.0" y="304.0" font-size="6.8" fill="#e07060" font-style="italic" text-anchor="middle" transform="rotate(-90 662 304)">Kyanoviridae</text>
<text x="675.0" y="315.0" font-size="6.8" fill="#e07060" font-style="italic" text-anchor="middle" transform="rotate(-90 675 315)">Straboviridae</text>
<text x="662.0" y="384.0" font-size="6.8" fill="#e07060" font-style="italic" text-anchor="middle" transform="rotate(-90 662 384)">Ackermannviridae</text>
<text x="677.0" y="360.0" font-size="10" fill="#e07070" text-anchor="middle" transform="rotate(-90 677 360)">Virus</text>
<text x="576.4" y="478.4" font-size="8.8" fill="#222">Degree</text>
<circle cx="608.5" cy="475.5" r="0.9" fill="#222"/>
<text x="609.3" y="478.4" font-size="8.8" fill="#222">1</text>
<circle cx="615.2" cy="475.2" r="1.4" fill="none" stroke="#222" stroke-width="0.8"/>
<text x="616.8" y="478.4" font-size="8.8" fill="#222">10</text>
<circle cx="631.5" cy="474.5" r="3" fill="none" stroke="#222" stroke-width="0.9"/>
<text x="634.6" y="478.4" font-size="8.8" fill="#222">20</text>
<circle cx="652.8" cy="473.8" r="4.5" fill="none" stroke="#222" stroke-width="1"/>
<text x="657.5" y="478.4" font-size="8.8" fill="#222">30</text>
<text x="358.5" y="486.5" font-size="19.5" fill="#000" font-weight="bold">f</text>
<rect x="389.9" y="495.8" width="145.8" height="12.4" fill="#efebdb"/>
<rect x="539.2" y="495.8" width="145.8" height="12.4" fill="#efebdb"/>
<text x="466.6" y="506.0" font-size="11.5" fill="#111" text-anchor="middle">Overall</text>
<text x="613.4" y="505.8" font-size="11.5" fill="#111" text-anchor="middle">Virus-associated</text>
<text x="531.3" y="520.2" font-size="10.2" fill="#d4a82a" text-anchor="end" word-spacing="-1"><tspan font-style="italic">R</tspan> = 0.11, <tspan font-style="italic">p</tspan> = 0.46</text>
<text x="679.7" y="520.2" font-size="10.2" fill="#d06058" text-anchor="end" word-spacing="-1"><tspan font-style="italic">R</tspan> = -0.65, <tspan font-style="italic">p</tspan> &lt; 0.0001</text>
<path d="M396.6,584.0 C400.5,583.8 411.9,583.5 420.0,582.5 C428.1,581.5 436.7,579.9 445.0,578.0 C453.3,576.1 461.7,573.2 470.0,571.0 C478.3,568.8 485.1,567.0 495.0,565.0 C504.9,563.0 523.5,560.0 529.2,559.0 L529.2,618.4 C523.5,617.2 504.9,612.5 495.0,611.0 C485.1,609.5 478.3,609.4 470.0,609.7 C461.7,610.0 453.3,611.1 445.0,613.0 C436.7,614.9 428.1,618.2 420.0,621.0 C411.9,623.8 400.5,628.5 396.6,630.0 Z" fill="#ede4c6" fill-opacity="0.9"/>
<path d="M548.8,527.5 C553.2,531.8 566.0,543.4 575.0,553.0 C584.0,562.6 593.5,576.0 602.7,585.2 C611.9,594.4 618.5,600.3 630.0,608.0 C641.5,615.7 664.7,627.7 671.6,631.6 L671.6,670.4 C664.7,663.2 641.5,638.3 630.0,627.0 C618.5,615.7 611.9,609.8 602.7,602.6 C593.5,595.4 584.0,589.8 575.0,584.0 C566.0,578.2 553.2,570.4 548.8,567.7 Z" fill="#f6d2cc" fill-opacity="0.9"/>
<g fill="#e6cf8e" fill-opacity="0.75"><circle cx="472.2" cy="527" r="2.3"/><circle cx="403.6" cy="559.3" r="2.3"/><circle cx="426.2" cy="547.3" r="2.3"/><circle cx="427.2" cy="546.7" r="2.3"/><circle cx="449.3" cy="545.4" r="2.3"/><circle cx="472.7" cy="550.7" r="2.3"/><circle cx="439.8" cy="554.3" r="2.3"/><circle cx="447.2" cy="552" r="2.3"/><circle cx="437.2" cy="558.6" r="2.3"/><circle cx="440.4" cy="561.7" r="2.3"/><circle cx="445.1" cy="567" r="2.3"/><circle cx="439.8" cy="570.1" r="2.3"/><circle cx="466.9" cy="557.2" r="2.3"/><circle cx="453.5" cy="576.2" r="2.3"/><circle cx="460.3" cy="578" r="2.3"/><circle cx="460.6" cy="584.8" r="2.3"/><circle cx="431.2" cy="578.3" r="2.3"/><circle cx="422.2" cy="589.3" r="2.3"/><circle cx="504.2" cy="553.3" r="2.3"/><circle cx="504.5" cy="569.6" r="2.3"/><circle cx="471.4" cy="590.6" r="2.3"/><circle cx="466.6" cy="595.3" r="2.3"/><circle cx="434.6" cy="596.4" r="2.3"/><circle cx="437.2" cy="597.4" r="2.3"/><circle cx="502.9" cy="590.6" r="2.3"/><circle cx="512.9" cy="589.8" r="2.3"/><circle cx="529.2" cy="571.4" r="2.3"/><circle cx="396.5" cy="609.2" r="2.3"/><circle cx="422.8" cy="608.4" r="2.3"/><circle cx="422" cy="616.8" r="2.3"/><circle cx="434.6" cy="618.9" r="2.3"/><circle cx="435.4" cy="624.2" r="2.3"/><circle cx="449.8" cy="614.2" r="2.3"/><circle cx="443.8" cy="630.2" r="2.3"/><circle cx="455.6" cy="602.6" r="2.3"/><circle cx="462.7" cy="627" r="2.3"/><circle cx="454.3" cy="639.9" r="2.3"/><circle cx="416.2" cy="641.2" r="2.3"/><circle cx="423.6" cy="649.6" r="2.3"/><circle cx="407" cy="653.6" r="2.3"/><circle cx="445.1" cy="653.8" r="2.3"/><circle cx="450.4" cy="651.2" r="2.3"/><circle cx="438.5" cy="660.9" r="2.3"/><circle cx="435.9" cy="667" r="2.3"/><circle cx="435.1" cy="668" r="2.3"/><circle cx="479.3" cy="638.1" r="2.3"/><circle cx="495.5" cy="628.1" r="2.3"/><circle cx="503.4" cy="635.5" r="2.3"/><circle cx="500.8" cy="603.7" r="2.3"/><circle cx="490.3" cy="678.8" r="2.3"/><circle cx="432" cy="598.7" r="2.3"/><circle cx="434.1" cy="596.6" r="2.3"/></g>
<g fill="#e89a94" fill-opacity="0.7"><circle cx="555.7" cy="527" r="2.3"/><circle cx="553.1" cy="546.7" r="2.3"/><circle cx="559.1" cy="553.3" r="2.3"/><circle cx="548.9" cy="559.1" r="2.3"/><circle cx="560.2" cy="559.1" r="2.3"/><circle cx="568.6" cy="550.7" r="2.3"/><circle cx="582" cy="548" r="2.3"/><circle cx="585.1" cy="552" r="2.3"/><circle cx="587" cy="554.6" r="2.3"/><circle cx="594.3" cy="562.2" r="2.3"/><circle cx="613.2" cy="567" r="2.3"/><circle cx="615.4" cy="570.1" r="2.3"/><circle cx="636.9" cy="557.2" r="2.3"/><circle cx="639.8" cy="569.1" r="2.3"/><circle cx="635.6" cy="571.4" r="2.3"/><circle cx="629.8" cy="578" r="2.3"/><circle cx="591.7" cy="578" r="2.3"/><circle cx="593.8" cy="575.6" r="2.3"/><circle cx="613.2" cy="584.8" r="2.3"/><circle cx="597" cy="589.3" r="2.3"/><circle cx="606.2" cy="590.6" r="2.3"/><circle cx="621.9" cy="590.6" r="2.3"/><circle cx="631.1" cy="589.8" r="2.3"/><circle cx="636.4" cy="595.3" r="2.3"/><circle cx="594.9" cy="596.4" r="2.3"/><circle cx="599.6" cy="597.4" r="2.3"/><circle cx="607" cy="598.4" r="2.3"/><circle cx="597" cy="609.2" r="2.3"/><circle cx="591.7" cy="618.9" r="2.3"/><circle cx="585.9" cy="624.2" r="2.3"/><circle cx="612.7" cy="616.8" r="2.3"/><circle cx="615.4" cy="608.4" r="2.3"/><circle cx="618.5" cy="613.6" r="2.3"/><circle cx="625.1" cy="602.6" r="2.3"/><circle cx="619.3" cy="627" r="2.3"/><circle cx="615.4" cy="630.2" r="2.3"/><circle cx="618.5" cy="639.9" r="2.3"/><circle cx="632.4" cy="641.2" r="2.3"/><circle cx="653.4" cy="603.7" r="2.3"/><circle cx="645.6" cy="628.1" r="2.3"/><circle cx="660.8" cy="638.1" r="2.3"/><circle cx="668.4" cy="635.5" r="2.3"/><circle cx="598.3" cy="649.6" r="2.3"/><circle cx="638.5" cy="651.2" r="2.3"/><circle cx="636.4" cy="653.8" r="2.3"/><circle cx="623.2" cy="660.9" r="2.3"/><circle cx="630.3" cy="666.2" r="2.3"/><circle cx="639.8" cy="667.5" r="2.3"/><circle cx="671.8" cy="678.8" r="2.3"/></g>
<line x1="396.6" y1="607.9" x2="529.2" y2="589.3" stroke="#deaf32" stroke-width="1.5"/>
<line x1="548.8" y1="548" x2="671.6" y2="651" stroke="#e0705e" stroke-width="1.6"/>
<path d="M390.4,508.4 V687.2 H536" stroke="#222" stroke-width="1.15" fill="none"/>
<path d="M539.2,687.2 H685" stroke="#222" stroke-width="1.15" fill="none"/>
<line x1="387.8" y1="543.8" x2="390.4" y2="543.8" stroke="#222" stroke-width="0.8"/>
<text x="386.8" y="547.5" font-size="10.4" fill="#1a1a1a" text-anchor="end">0</text>
<line x1="387.8" y1="576.3" x2="390.4" y2="576.3" stroke="#222" stroke-width="0.8"/>
<text x="386.8" y="580.0" font-size="10.4" fill="#1a1a1a" text-anchor="end">-5</text>
<line x1="387.8" y1="608.8" x2="390.4" y2="608.8" stroke="#222" stroke-width="0.8"/>
<text x="386.8" y="612.5" font-size="10.4" fill="#1a1a1a" text-anchor="end">-10</text>
<line x1="387.8" y1="641.3" x2="390.4" y2="641.3" stroke="#222" stroke-width="0.8"/>
<text x="386.8" y="645.0" font-size="10.4" fill="#1a1a1a" text-anchor="end">-15</text>
<line x1="387.8" y1="673.8" x2="390.4" y2="673.8" stroke="#222" stroke-width="0.8"/>
<text x="386.8" y="677.5" font-size="10.4" fill="#1a1a1a" text-anchor="end">-20</text>
<line x1="407.0" y1="687.2" x2="407.0" y2="689.8" stroke="#222" stroke-width="0.8"/>
<text x="407.0" y="699.6" font-size="10.4" fill="#1a1a1a" text-anchor="middle" letter-spacing="0.4">8.7</text>
<line x1="459.0" y1="687.2" x2="459.0" y2="689.8" stroke="#222" stroke-width="0.8"/>
<text x="459.0" y="699.6" font-size="10.4" fill="#1a1a1a" text-anchor="middle" letter-spacing="0.4">8.8</text>
<line x1="511.0" y1="687.2" x2="511.0" y2="689.8" stroke="#222" stroke-width="0.8"/>
<text x="511.0" y="699.6" font-size="10.4" fill="#1a1a1a" text-anchor="middle" letter-spacing="0.4">8.9</text>
<line x1="554.4" y1="687.2" x2="554.4" y2="689.8" stroke="#222" stroke-width="0.8"/>
<text x="554.4" y="699.6" font-size="10.4" fill="#1a1a1a" text-anchor="middle" letter-spacing="0.4">7.5</text>
<line x1="590.6" y1="687.2" x2="590.6" y2="689.8" stroke="#222" stroke-width="0.8"/>
<text x="590.6" y="699.6" font-size="10.4" fill="#1a1a1a" text-anchor="middle" letter-spacing="0.4">7.6</text>
<line x1="626.8" y1="687.2" x2="626.8" y2="689.8" stroke="#222" stroke-width="0.8"/>
<text x="626.8" y="699.6" font-size="10.4" fill="#1a1a1a" text-anchor="middle" letter-spacing="0.4">7.7</text>
<line x1="663.0" y1="687.2" x2="663.0" y2="689.8" stroke="#222" stroke-width="0.8"/>
<text x="663.0" y="699.6" font-size="10.4" fill="#1a1a1a" text-anchor="middle" letter-spacing="0.4">7.8</text>
<text x="394.6" y="714.8" font-size="10.8" fill="#111">Abundance of As-oxidizing microbes (log<tspan font-size="6.5" dy="1.5">10</tspan><tspan dy="-1.5"> copies ng</tspan><tspan font-size="6.5" dy="-3.5">-1</tspan><tspan dy="3.5"> DNA)</tspan></text>
<text x="368.0" y="593.0" font-size="10.6" fill="#3b4a6b" text-anchor="middle" transform="rotate(-90 368 593)">Relative change in As(III) proportion (%)</text>
</svg>
</body></html>
